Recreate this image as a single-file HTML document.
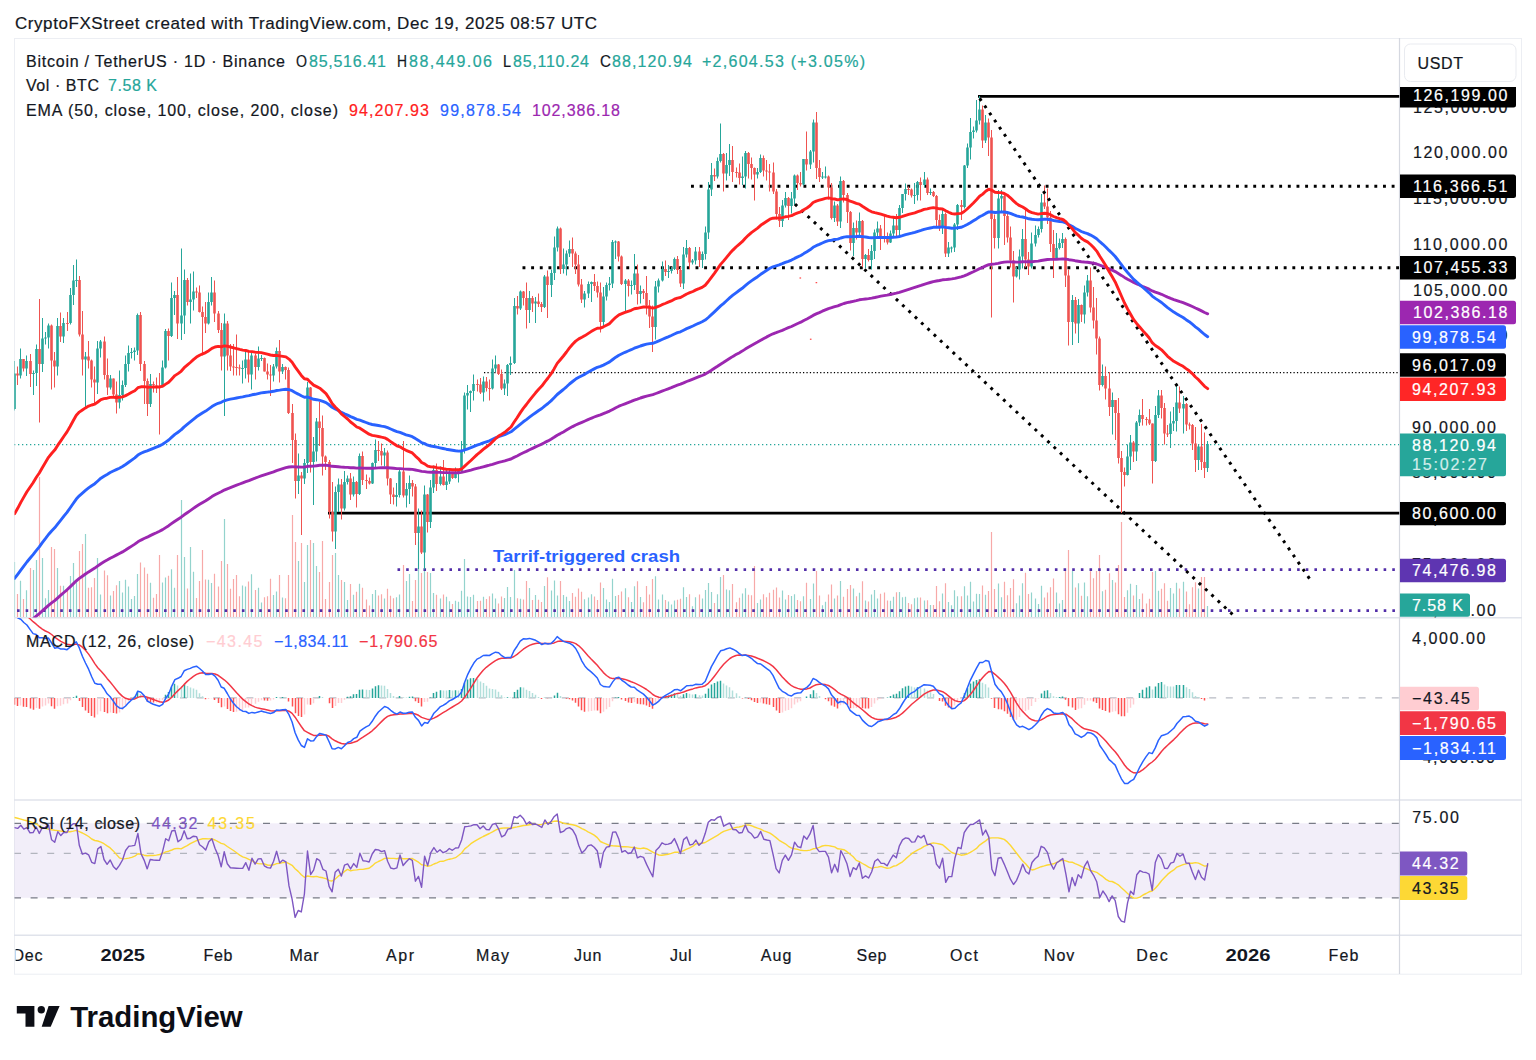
<!DOCTYPE html>
<html><head><meta charset="utf-8"><title>BTCUSDT chart</title>
<style>html,body{margin:0;padding:0;background:#fff}body{width:1536px;height:1060px;overflow:hidden;font-family:"Liberation Sans", sans-serif}svg{display:block}</style>
</head><body>
<svg width="1536" height="1060" viewBox="0 0 1536 1060" font-family='"Liberation Sans", sans-serif'>
<rect width="1536" height="1060" fill="#fff"/>
<defs><clipPath id="cm"><rect x="14.5" y="39" width="1385" height="578.5"/></clipPath><clipPath id="cd"><rect x="14.5" y="618" width="1385" height="181.5"/></clipPath><clipPath id="cr"><rect x="14.5" y="800.5" width="1385" height="134"/></clipPath><clipPath id="ct"><rect x="15.6" y="935" width="1384" height="38"/></clipPath><clipPath id="ca"><rect x="1400" y="87" width="121" height="530.5"/></clipPath><clipPath id="ca2"><rect x="1400" y="618" width="121" height="181.5"/></clipPath></defs>
<text x="15.0" y="28.6" font-size="17" fill="#131722" stroke="#131722" stroke-width="0.2" font-weight="normal" text-anchor="start" textLength="582.0" lengthAdjust="spacing">CryptoFXStreet created with TradingView.com, Dec 19, 2025 08:57 UTC</text>
<rect x="14.5" y="38.5" width="1507" height="935.7" fill="none" stroke="#eceef3" stroke-width="1"/>
<line x1="14" y1="617.7" x2="1522" y2="617.7" stroke="#e0e3eb" stroke-width="1.4"/>
<line x1="14" y1="800" x2="1522" y2="800" stroke="#e0e3eb" stroke-width="1.4"/>
<line x1="14" y1="935.2" x2="1522" y2="935.2" stroke="#e0e3eb" stroke-width="1.4"/>
<line x1="1399.5" y1="38" x2="1399.5" y2="974" stroke="#d5d8e0" stroke-width="1.2"/>
<g clip-path="url(#cm)">
<line x1="14.5" y1="617" x2="14.5" y2="562.0" stroke="#93d3cd" stroke-width="1.2"/>
<line x1="17.5" y1="617" x2="17.5" y2="594.1" stroke="#f7a9a8" stroke-width="1.2"/>
<line x1="20.5" y1="617" x2="20.5" y2="580.8" stroke="#93d3cd" stroke-width="1.2"/>
<line x1="23.5" y1="617" x2="23.5" y2="598.9" stroke="#f7a9a8" stroke-width="1.2"/>
<line x1="26.5" y1="617" x2="26.5" y2="590.3" stroke="#93d3cd" stroke-width="1.2"/>
<line x1="30.5" y1="617" x2="30.5" y2="568.0" stroke="#f7a9a8" stroke-width="1.2"/>
<line x1="33.5" y1="617" x2="33.5" y2="570.0" stroke="#93d3cd" stroke-width="1.2"/>
<line x1="36.5" y1="617" x2="36.5" y2="560.0" stroke="#93d3cd" stroke-width="1.2"/>
<line x1="39.5" y1="617" x2="39.5" y2="477.0" stroke="#f7a9a8" stroke-width="1.2"/>
<line x1="42.5" y1="617" x2="42.5" y2="558.0" stroke="#93d3cd" stroke-width="1.2"/>
<line x1="45.5" y1="617" x2="45.5" y2="598.3" stroke="#93d3cd" stroke-width="1.2"/>
<line x1="48.5" y1="617" x2="48.5" y2="590.1" stroke="#93d3cd" stroke-width="1.2"/>
<line x1="51.5" y1="617" x2="51.5" y2="547.0" stroke="#f7a9a8" stroke-width="1.2"/>
<line x1="54.5" y1="617" x2="54.5" y2="549.0" stroke="#f7a9a8" stroke-width="1.2"/>
<line x1="57.5" y1="617" x2="57.5" y2="568.0" stroke="#93d3cd" stroke-width="1.2"/>
<line x1="60.5" y1="617" x2="60.5" y2="585.7" stroke="#f7a9a8" stroke-width="1.2"/>
<line x1="63.5" y1="617" x2="63.5" y2="585.7" stroke="#93d3cd" stroke-width="1.2"/>
<line x1="67.5" y1="617" x2="67.5" y2="588.4" stroke="#f7a9a8" stroke-width="1.2"/>
<line x1="70.5" y1="617" x2="70.5" y2="576.1" stroke="#93d3cd" stroke-width="1.2"/>
<line x1="73.5" y1="617" x2="73.5" y2="563.0" stroke="#93d3cd" stroke-width="1.2"/>
<line x1="76.5" y1="617" x2="76.5" y2="580.2" stroke="#93d3cd" stroke-width="1.2"/>
<line x1="79.5" y1="617" x2="79.5" y2="551.0" stroke="#f7a9a8" stroke-width="1.2"/>
<line x1="82.5" y1="617" x2="82.5" y2="544.0" stroke="#f7a9a8" stroke-width="1.2"/>
<line x1="85.5" y1="617" x2="85.5" y2="534.0" stroke="#93d3cd" stroke-width="1.2"/>
<line x1="88.5" y1="617" x2="88.5" y2="587.7" stroke="#f7a9a8" stroke-width="1.2"/>
<line x1="91.5" y1="617" x2="91.5" y2="587.3" stroke="#f7a9a8" stroke-width="1.2"/>
<line x1="94.5" y1="617" x2="94.5" y2="577.9" stroke="#f7a9a8" stroke-width="1.2"/>
<line x1="97.5" y1="617" x2="97.5" y2="558.0" stroke="#93d3cd" stroke-width="1.2"/>
<line x1="100.5" y1="617" x2="100.5" y2="594.6" stroke="#93d3cd" stroke-width="1.2"/>
<line x1="104.5" y1="617" x2="104.5" y2="570.6" stroke="#f7a9a8" stroke-width="1.2"/>
<line x1="107.5" y1="617" x2="107.5" y2="575.3" stroke="#f7a9a8" stroke-width="1.2"/>
<line x1="110.5" y1="617" x2="110.5" y2="595.6" stroke="#93d3cd" stroke-width="1.2"/>
<line x1="113.5" y1="617" x2="113.5" y2="590.9" stroke="#f7a9a8" stroke-width="1.2"/>
<line x1="116.5" y1="617" x2="116.5" y2="585.3" stroke="#f7a9a8" stroke-width="1.2"/>
<line x1="119.5" y1="617" x2="119.5" y2="581.0" stroke="#93d3cd" stroke-width="1.2"/>
<line x1="122.5" y1="617" x2="122.5" y2="592.4" stroke="#93d3cd" stroke-width="1.2"/>
<line x1="125.5" y1="617" x2="125.5" y2="579.7" stroke="#93d3cd" stroke-width="1.2"/>
<line x1="128.5" y1="617" x2="128.5" y2="586.6" stroke="#93d3cd" stroke-width="1.2"/>
<line x1="131.5" y1="617" x2="131.5" y2="599.0" stroke="#93d3cd" stroke-width="1.2"/>
<line x1="134.5" y1="617" x2="134.5" y2="596.1" stroke="#93d3cd" stroke-width="1.2"/>
<line x1="137.5" y1="617" x2="137.5" y2="573.9" stroke="#93d3cd" stroke-width="1.2"/>
<line x1="140.5" y1="617" x2="140.5" y2="562.5" stroke="#f7a9a8" stroke-width="1.2"/>
<line x1="144.5" y1="617" x2="144.5" y2="567.6" stroke="#f7a9a8" stroke-width="1.2"/>
<line x1="147.5" y1="617" x2="147.5" y2="573.8" stroke="#f7a9a8" stroke-width="1.2"/>
<line x1="150.5" y1="617" x2="150.5" y2="582.8" stroke="#93d3cd" stroke-width="1.2"/>
<line x1="153.5" y1="617" x2="153.5" y2="597.7" stroke="#f7a9a8" stroke-width="1.2"/>
<line x1="156.5" y1="617" x2="156.5" y2="594.1" stroke="#f7a9a8" stroke-width="1.2"/>
<line x1="159.5" y1="617" x2="159.5" y2="555.0" stroke="#f7a9a8" stroke-width="1.2"/>
<line x1="162.5" y1="617" x2="162.5" y2="582.4" stroke="#93d3cd" stroke-width="1.2"/>
<line x1="165.5" y1="617" x2="165.5" y2="577.5" stroke="#93d3cd" stroke-width="1.2"/>
<line x1="168.5" y1="617" x2="168.5" y2="575.7" stroke="#f7a9a8" stroke-width="1.2"/>
<line x1="171.5" y1="617" x2="171.5" y2="569.2" stroke="#93d3cd" stroke-width="1.2"/>
<line x1="174.5" y1="617" x2="174.5" y2="587.8" stroke="#93d3cd" stroke-width="1.2"/>
<line x1="177.5" y1="617" x2="177.5" y2="555.0" stroke="#f7a9a8" stroke-width="1.2"/>
<line x1="181.5" y1="617" x2="181.5" y2="500.0" stroke="#93d3cd" stroke-width="1.2"/>
<line x1="184.5" y1="617" x2="184.5" y2="557.0" stroke="#93d3cd" stroke-width="1.2"/>
<line x1="187.5" y1="617" x2="187.5" y2="588.6" stroke="#f7a9a8" stroke-width="1.2"/>
<line x1="190.5" y1="617" x2="190.5" y2="547.0" stroke="#93d3cd" stroke-width="1.2"/>
<line x1="193.5" y1="617" x2="193.5" y2="571.8" stroke="#93d3cd" stroke-width="1.2"/>
<line x1="196.5" y1="617" x2="196.5" y2="598.1" stroke="#f7a9a8" stroke-width="1.2"/>
<line x1="199.5" y1="617" x2="199.5" y2="581.1" stroke="#f7a9a8" stroke-width="1.2"/>
<line x1="202.5" y1="617" x2="202.5" y2="550.0" stroke="#f7a9a8" stroke-width="1.2"/>
<line x1="205.5" y1="617" x2="205.5" y2="579.5" stroke="#f7a9a8" stroke-width="1.2"/>
<line x1="208.5" y1="617" x2="208.5" y2="579.8" stroke="#93d3cd" stroke-width="1.2"/>
<line x1="211.5" y1="617" x2="211.5" y2="583.0" stroke="#93d3cd" stroke-width="1.2"/>
<line x1="214.5" y1="617" x2="214.5" y2="573.8" stroke="#f7a9a8" stroke-width="1.2"/>
<line x1="218.5" y1="617" x2="218.5" y2="586.6" stroke="#f7a9a8" stroke-width="1.2"/>
<line x1="221.5" y1="617" x2="221.5" y2="561.1" stroke="#f7a9a8" stroke-width="1.2"/>
<line x1="224.5" y1="617" x2="224.5" y2="519.0" stroke="#93d3cd" stroke-width="1.2"/>
<line x1="227.5" y1="617" x2="227.5" y2="564.0" stroke="#f7a9a8" stroke-width="1.2"/>
<line x1="230.5" y1="617" x2="230.5" y2="588.8" stroke="#f7a9a8" stroke-width="1.2"/>
<line x1="233.5" y1="617" x2="233.5" y2="579.0" stroke="#f7a9a8" stroke-width="1.2"/>
<line x1="236.5" y1="617" x2="236.5" y2="575.0" stroke="#f7a9a8" stroke-width="1.2"/>
<line x1="239.5" y1="617" x2="239.5" y2="596.2" stroke="#f7a9a8" stroke-width="1.2"/>
<line x1="242.5" y1="617" x2="242.5" y2="585.4" stroke="#93d3cd" stroke-width="1.2"/>
<line x1="245.5" y1="617" x2="245.5" y2="586.4" stroke="#93d3cd" stroke-width="1.2"/>
<line x1="248.5" y1="617" x2="248.5" y2="581.6" stroke="#f7a9a8" stroke-width="1.2"/>
<line x1="251.5" y1="617" x2="251.5" y2="574.2" stroke="#93d3cd" stroke-width="1.2"/>
<line x1="255.5" y1="617" x2="255.5" y2="590.0" stroke="#f7a9a8" stroke-width="1.2"/>
<line x1="258.5" y1="617" x2="258.5" y2="587.8" stroke="#93d3cd" stroke-width="1.2"/>
<line x1="261.5" y1="617" x2="261.5" y2="602.4" stroke="#93d3cd" stroke-width="1.2"/>
<line x1="264.5" y1="617" x2="264.5" y2="597.2" stroke="#f7a9a8" stroke-width="1.2"/>
<line x1="267.5" y1="617" x2="267.5" y2="596.2" stroke="#f7a9a8" stroke-width="1.2"/>
<line x1="270.5" y1="617" x2="270.5" y2="578.8" stroke="#f7a9a8" stroke-width="1.2"/>
<line x1="273.5" y1="617" x2="273.5" y2="594.9" stroke="#93d3cd" stroke-width="1.2"/>
<line x1="276.5" y1="617" x2="276.5" y2="591.5" stroke="#93d3cd" stroke-width="1.2"/>
<line x1="279.5" y1="617" x2="279.5" y2="575.0" stroke="#f7a9a8" stroke-width="1.2"/>
<line x1="282.5" y1="617" x2="282.5" y2="597.5" stroke="#93d3cd" stroke-width="1.2"/>
<line x1="285.5" y1="617" x2="285.5" y2="598.3" stroke="#f7a9a8" stroke-width="1.2"/>
<line x1="288.5" y1="617" x2="288.5" y2="575.0" stroke="#f7a9a8" stroke-width="1.2"/>
<line x1="292.5" y1="617" x2="292.5" y2="515.0" stroke="#f7a9a8" stroke-width="1.2"/>
<line x1="295.5" y1="617" x2="295.5" y2="542.0" stroke="#f7a9a8" stroke-width="1.2"/>
<line x1="298.5" y1="617" x2="298.5" y2="561.0" stroke="#93d3cd" stroke-width="1.2"/>
<line x1="301.5" y1="617" x2="301.5" y2="543.0" stroke="#f7a9a8" stroke-width="1.2"/>
<line x1="304.5" y1="617" x2="304.5" y2="582.0" stroke="#93d3cd" stroke-width="1.2"/>
<line x1="307.5" y1="617" x2="307.5" y2="545.0" stroke="#93d3cd" stroke-width="1.2"/>
<line x1="310.5" y1="617" x2="310.5" y2="540.0" stroke="#f7a9a8" stroke-width="1.2"/>
<line x1="313.5" y1="617" x2="313.5" y2="543.0" stroke="#93d3cd" stroke-width="1.2"/>
<line x1="316.5" y1="617" x2="316.5" y2="566.0" stroke="#93d3cd" stroke-width="1.2"/>
<line x1="319.5" y1="617" x2="319.5" y2="572.0" stroke="#f7a9a8" stroke-width="1.2"/>
<line x1="322.5" y1="617" x2="322.5" y2="541.0" stroke="#f7a9a8" stroke-width="1.2"/>
<line x1="325.5" y1="617" x2="325.5" y2="599.0" stroke="#f7a9a8" stroke-width="1.2"/>
<line x1="329.5" y1="617" x2="329.5" y2="582.0" stroke="#f7a9a8" stroke-width="1.2"/>
<line x1="332.5" y1="617" x2="332.5" y2="555.0" stroke="#f7a9a8" stroke-width="1.2"/>
<line x1="335.5" y1="617" x2="335.5" y2="553.0" stroke="#93d3cd" stroke-width="1.2"/>
<line x1="338.5" y1="617" x2="338.5" y2="575.0" stroke="#93d3cd" stroke-width="1.2"/>
<line x1="341.5" y1="617" x2="341.5" y2="580.0" stroke="#f7a9a8" stroke-width="1.2"/>
<line x1="344.5" y1="617" x2="344.5" y2="582.0" stroke="#93d3cd" stroke-width="1.2"/>
<line x1="347.5" y1="617" x2="347.5" y2="599.9" stroke="#93d3cd" stroke-width="1.2"/>
<line x1="350.5" y1="617" x2="350.5" y2="583.9" stroke="#f7a9a8" stroke-width="1.2"/>
<line x1="353.5" y1="617" x2="353.5" y2="594.7" stroke="#93d3cd" stroke-width="1.2"/>
<line x1="356.5" y1="617" x2="356.5" y2="591.8" stroke="#f7a9a8" stroke-width="1.2"/>
<line x1="359.5" y1="617" x2="359.5" y2="583.8" stroke="#93d3cd" stroke-width="1.2"/>
<line x1="362.5" y1="617" x2="362.5" y2="587.7" stroke="#f7a9a8" stroke-width="1.2"/>
<line x1="366.5" y1="617" x2="366.5" y2="599.6" stroke="#f7a9a8" stroke-width="1.2"/>
<line x1="369.5" y1="617" x2="369.5" y2="605.4" stroke="#f7a9a8" stroke-width="1.2"/>
<line x1="372.5" y1="617" x2="372.5" y2="594.0" stroke="#93d3cd" stroke-width="1.2"/>
<line x1="375.5" y1="617" x2="375.5" y2="590.0" stroke="#93d3cd" stroke-width="1.2"/>
<line x1="378.5" y1="617" x2="378.5" y2="595.4" stroke="#f7a9a8" stroke-width="1.2"/>
<line x1="381.5" y1="617" x2="381.5" y2="594.2" stroke="#f7a9a8" stroke-width="1.2"/>
<line x1="384.5" y1="617" x2="384.5" y2="598.5" stroke="#93d3cd" stroke-width="1.2"/>
<line x1="387.5" y1="617" x2="387.5" y2="588.7" stroke="#f7a9a8" stroke-width="1.2"/>
<line x1="390.5" y1="617" x2="390.5" y2="595.8" stroke="#f7a9a8" stroke-width="1.2"/>
<line x1="393.5" y1="617" x2="393.5" y2="598.3" stroke="#f7a9a8" stroke-width="1.2"/>
<line x1="396.5" y1="617" x2="396.5" y2="597.2" stroke="#93d3cd" stroke-width="1.2"/>
<line x1="399.5" y1="617" x2="399.5" y2="594.4" stroke="#93d3cd" stroke-width="1.2"/>
<line x1="403.5" y1="617" x2="403.5" y2="565.0" stroke="#f7a9a8" stroke-width="1.2"/>
<line x1="406.5" y1="617" x2="406.5" y2="581.0" stroke="#93d3cd" stroke-width="1.2"/>
<line x1="409.5" y1="617" x2="409.5" y2="574.0" stroke="#93d3cd" stroke-width="1.2"/>
<line x1="412.5" y1="617" x2="412.5" y2="600.9" stroke="#f7a9a8" stroke-width="1.2"/>
<line x1="415.5" y1="617" x2="415.5" y2="580.0" stroke="#f7a9a8" stroke-width="1.2"/>
<line x1="418.5" y1="617" x2="418.5" y2="542.0" stroke="#93d3cd" stroke-width="1.2"/>
<line x1="421.5" y1="617" x2="421.5" y2="573.0" stroke="#f7a9a8" stroke-width="1.2"/>
<line x1="424.5" y1="617" x2="424.5" y2="547.0" stroke="#93d3cd" stroke-width="1.2"/>
<line x1="427.5" y1="617" x2="427.5" y2="572.0" stroke="#f7a9a8" stroke-width="1.2"/>
<line x1="430.5" y1="617" x2="430.5" y2="573.0" stroke="#93d3cd" stroke-width="1.2"/>
<line x1="433.5" y1="617" x2="433.5" y2="593.0" stroke="#93d3cd" stroke-width="1.2"/>
<line x1="436.5" y1="617" x2="436.5" y2="594.8" stroke="#f7a9a8" stroke-width="1.2"/>
<line x1="440.5" y1="617" x2="440.5" y2="598.6" stroke="#93d3cd" stroke-width="1.2"/>
<line x1="443.5" y1="617" x2="443.5" y2="594.5" stroke="#f7a9a8" stroke-width="1.2"/>
<line x1="446.5" y1="617" x2="446.5" y2="596.8" stroke="#93d3cd" stroke-width="1.2"/>
<line x1="449.5" y1="617" x2="449.5" y2="601.3" stroke="#93d3cd" stroke-width="1.2"/>
<line x1="452.5" y1="617" x2="452.5" y2="604.0" stroke="#f7a9a8" stroke-width="1.2"/>
<line x1="455.5" y1="617" x2="455.5" y2="600.8" stroke="#93d3cd" stroke-width="1.2"/>
<line x1="458.5" y1="617" x2="458.5" y2="601.7" stroke="#93d3cd" stroke-width="1.2"/>
<line x1="461.5" y1="617" x2="461.5" y2="590.7" stroke="#93d3cd" stroke-width="1.2"/>
<line x1="464.5" y1="617" x2="464.5" y2="559.0" stroke="#93d3cd" stroke-width="1.2"/>
<line x1="467.5" y1="617" x2="467.5" y2="596.5" stroke="#93d3cd" stroke-width="1.2"/>
<line x1="470.5" y1="617" x2="470.5" y2="596.9" stroke="#93d3cd" stroke-width="1.2"/>
<line x1="473.5" y1="617" x2="473.5" y2="594.8" stroke="#93d3cd" stroke-width="1.2"/>
<line x1="477.5" y1="617" x2="477.5" y2="600.9" stroke="#f7a9a8" stroke-width="1.2"/>
<line x1="480.5" y1="617" x2="480.5" y2="600.7" stroke="#f7a9a8" stroke-width="1.2"/>
<line x1="483.5" y1="617" x2="483.5" y2="596.8" stroke="#93d3cd" stroke-width="1.2"/>
<line x1="486.5" y1="617" x2="486.5" y2="598.9" stroke="#f7a9a8" stroke-width="1.2"/>
<line x1="489.5" y1="617" x2="489.5" y2="596.2" stroke="#f7a9a8" stroke-width="1.2"/>
<line x1="492.5" y1="617" x2="492.5" y2="593.4" stroke="#93d3cd" stroke-width="1.2"/>
<line x1="495.5" y1="617" x2="495.5" y2="598.6" stroke="#93d3cd" stroke-width="1.2"/>
<line x1="498.5" y1="617" x2="498.5" y2="603.6" stroke="#f7a9a8" stroke-width="1.2"/>
<line x1="501.5" y1="617" x2="501.5" y2="596.5" stroke="#f7a9a8" stroke-width="1.2"/>
<line x1="504.5" y1="617" x2="504.5" y2="597.9" stroke="#93d3cd" stroke-width="1.2"/>
<line x1="507.5" y1="617" x2="507.5" y2="587.0" stroke="#93d3cd" stroke-width="1.2"/>
<line x1="510.5" y1="617" x2="510.5" y2="597.1" stroke="#93d3cd" stroke-width="1.2"/>
<line x1="514.5" y1="617" x2="514.5" y2="570.0" stroke="#93d3cd" stroke-width="1.2"/>
<line x1="517.5" y1="617" x2="517.5" y2="598.3" stroke="#f7a9a8" stroke-width="1.2"/>
<line x1="520.5" y1="617" x2="520.5" y2="598.7" stroke="#93d3cd" stroke-width="1.2"/>
<line x1="523.5" y1="617" x2="523.5" y2="599.5" stroke="#f7a9a8" stroke-width="1.2"/>
<line x1="526.5" y1="617" x2="526.5" y2="580.9" stroke="#f7a9a8" stroke-width="1.2"/>
<line x1="529.5" y1="617" x2="529.5" y2="587.9" stroke="#93d3cd" stroke-width="1.2"/>
<line x1="532.5" y1="617" x2="532.5" y2="600.0" stroke="#f7a9a8" stroke-width="1.2"/>
<line x1="535.5" y1="617" x2="535.5" y2="595.1" stroke="#93d3cd" stroke-width="1.2"/>
<line x1="538.5" y1="617" x2="538.5" y2="599.7" stroke="#f7a9a8" stroke-width="1.2"/>
<line x1="541.5" y1="617" x2="541.5" y2="602.1" stroke="#f7a9a8" stroke-width="1.2"/>
<line x1="544.5" y1="617" x2="544.5" y2="586.1" stroke="#93d3cd" stroke-width="1.2"/>
<line x1="547.5" y1="617" x2="547.5" y2="577.2" stroke="#f7a9a8" stroke-width="1.2"/>
<line x1="551.5" y1="617" x2="551.5" y2="590.4" stroke="#93d3cd" stroke-width="1.2"/>
<line x1="554.5" y1="617" x2="554.5" y2="580.4" stroke="#93d3cd" stroke-width="1.2"/>
<line x1="557.5" y1="617" x2="557.5" y2="595.5" stroke="#93d3cd" stroke-width="1.2"/>
<line x1="560.5" y1="617" x2="560.5" y2="581.0" stroke="#f7a9a8" stroke-width="1.2"/>
<line x1="563.5" y1="617" x2="563.5" y2="595.0" stroke="#93d3cd" stroke-width="1.2"/>
<line x1="566.5" y1="617" x2="566.5" y2="596.7" stroke="#93d3cd" stroke-width="1.2"/>
<line x1="569.5" y1="617" x2="569.5" y2="601.0" stroke="#93d3cd" stroke-width="1.2"/>
<line x1="572.5" y1="617" x2="572.5" y2="593.0" stroke="#f7a9a8" stroke-width="1.2"/>
<line x1="575.5" y1="617" x2="575.5" y2="596.8" stroke="#f7a9a8" stroke-width="1.2"/>
<line x1="578.5" y1="617" x2="578.5" y2="588.6" stroke="#f7a9a8" stroke-width="1.2"/>
<line x1="581.5" y1="617" x2="581.5" y2="591.8" stroke="#f7a9a8" stroke-width="1.2"/>
<line x1="584.5" y1="617" x2="584.5" y2="599.3" stroke="#93d3cd" stroke-width="1.2"/>
<line x1="588.5" y1="617" x2="588.5" y2="597.4" stroke="#93d3cd" stroke-width="1.2"/>
<line x1="591.5" y1="617" x2="591.5" y2="594.2" stroke="#93d3cd" stroke-width="1.2"/>
<line x1="594.5" y1="617" x2="594.5" y2="596.6" stroke="#f7a9a8" stroke-width="1.2"/>
<line x1="597.5" y1="617" x2="597.5" y2="599.9" stroke="#f7a9a8" stroke-width="1.2"/>
<line x1="600.5" y1="617" x2="600.5" y2="582.4" stroke="#f7a9a8" stroke-width="1.2"/>
<line x1="603.5" y1="617" x2="603.5" y2="587.9" stroke="#93d3cd" stroke-width="1.2"/>
<line x1="606.5" y1="617" x2="606.5" y2="599.6" stroke="#93d3cd" stroke-width="1.2"/>
<line x1="609.5" y1="617" x2="609.5" y2="602.0" stroke="#93d3cd" stroke-width="1.2"/>
<line x1="612.5" y1="617" x2="612.5" y2="578.7" stroke="#93d3cd" stroke-width="1.2"/>
<line x1="615.5" y1="617" x2="615.5" y2="595.9" stroke="#93d3cd" stroke-width="1.2"/>
<line x1="618.5" y1="617" x2="618.5" y2="594.9" stroke="#f7a9a8" stroke-width="1.2"/>
<line x1="621.5" y1="617" x2="621.5" y2="591.5" stroke="#f7a9a8" stroke-width="1.2"/>
<line x1="625.5" y1="617" x2="625.5" y2="588.3" stroke="#93d3cd" stroke-width="1.2"/>
<line x1="628.5" y1="617" x2="628.5" y2="597.3" stroke="#f7a9a8" stroke-width="1.2"/>
<line x1="631.5" y1="617" x2="631.5" y2="601.9" stroke="#93d3cd" stroke-width="1.2"/>
<line x1="634.5" y1="617" x2="634.5" y2="586.2" stroke="#93d3cd" stroke-width="1.2"/>
<line x1="637.5" y1="617" x2="637.5" y2="581.2" stroke="#f7a9a8" stroke-width="1.2"/>
<line x1="640.5" y1="617" x2="640.5" y2="597.1" stroke="#93d3cd" stroke-width="1.2"/>
<line x1="643.5" y1="617" x2="643.5" y2="602.3" stroke="#f7a9a8" stroke-width="1.2"/>
<line x1="646.5" y1="617" x2="646.5" y2="586.1" stroke="#f7a9a8" stroke-width="1.2"/>
<line x1="649.5" y1="617" x2="649.5" y2="594.4" stroke="#f7a9a8" stroke-width="1.2"/>
<line x1="652.5" y1="617" x2="652.5" y2="579.0" stroke="#f7a9a8" stroke-width="1.2"/>
<line x1="655.5" y1="617" x2="655.5" y2="576.2" stroke="#93d3cd" stroke-width="1.2"/>
<line x1="658.5" y1="617" x2="658.5" y2="599.4" stroke="#93d3cd" stroke-width="1.2"/>
<line x1="662.5" y1="617" x2="662.5" y2="594.6" stroke="#93d3cd" stroke-width="1.2"/>
<line x1="665.5" y1="617" x2="665.5" y2="600.0" stroke="#f7a9a8" stroke-width="1.2"/>
<line x1="668.5" y1="617" x2="668.5" y2="601.6" stroke="#93d3cd" stroke-width="1.2"/>
<line x1="671.5" y1="617" x2="671.5" y2="604.5" stroke="#93d3cd" stroke-width="1.2"/>
<line x1="674.5" y1="617" x2="674.5" y2="600.6" stroke="#93d3cd" stroke-width="1.2"/>
<line x1="677.5" y1="617" x2="677.5" y2="599.7" stroke="#f7a9a8" stroke-width="1.2"/>
<line x1="680.5" y1="617" x2="680.5" y2="598.7" stroke="#f7a9a8" stroke-width="1.2"/>
<line x1="683.5" y1="617" x2="683.5" y2="587.2" stroke="#93d3cd" stroke-width="1.2"/>
<line x1="686.5" y1="617" x2="686.5" y2="596.9" stroke="#93d3cd" stroke-width="1.2"/>
<line x1="689.5" y1="617" x2="689.5" y2="594.2" stroke="#f7a9a8" stroke-width="1.2"/>
<line x1="692.5" y1="617" x2="692.5" y2="606.2" stroke="#93d3cd" stroke-width="1.2"/>
<line x1="695.5" y1="617" x2="695.5" y2="597.2" stroke="#93d3cd" stroke-width="1.2"/>
<line x1="699.5" y1="617" x2="699.5" y2="594.6" stroke="#f7a9a8" stroke-width="1.2"/>
<line x1="702.5" y1="617" x2="702.5" y2="598.5" stroke="#93d3cd" stroke-width="1.2"/>
<line x1="705.5" y1="617" x2="705.5" y2="590.1" stroke="#93d3cd" stroke-width="1.2"/>
<line x1="708.5" y1="617" x2="708.5" y2="583.0" stroke="#93d3cd" stroke-width="1.2"/>
<line x1="711.5" y1="617" x2="711.5" y2="592.1" stroke="#93d3cd" stroke-width="1.2"/>
<line x1="714.5" y1="617" x2="714.5" y2="603.0" stroke="#f7a9a8" stroke-width="1.2"/>
<line x1="717.5" y1="617" x2="717.5" y2="594.3" stroke="#93d3cd" stroke-width="1.2"/>
<line x1="720.5" y1="617" x2="720.5" y2="577.0" stroke="#93d3cd" stroke-width="1.2"/>
<line x1="723.5" y1="617" x2="723.5" y2="575.0" stroke="#f7a9a8" stroke-width="1.2"/>
<line x1="726.5" y1="617" x2="726.5" y2="589.6" stroke="#93d3cd" stroke-width="1.2"/>
<line x1="729.5" y1="617" x2="729.5" y2="590.3" stroke="#93d3cd" stroke-width="1.2"/>
<line x1="732.5" y1="617" x2="732.5" y2="584.0" stroke="#f7a9a8" stroke-width="1.2"/>
<line x1="736.5" y1="617" x2="736.5" y2="602.2" stroke="#f7a9a8" stroke-width="1.2"/>
<line x1="739.5" y1="617" x2="739.5" y2="597.8" stroke="#f7a9a8" stroke-width="1.2"/>
<line x1="742.5" y1="617" x2="742.5" y2="593.4" stroke="#93d3cd" stroke-width="1.2"/>
<line x1="745.5" y1="617" x2="745.5" y2="588.3" stroke="#93d3cd" stroke-width="1.2"/>
<line x1="748.5" y1="617" x2="748.5" y2="594.7" stroke="#f7a9a8" stroke-width="1.2"/>
<line x1="751.5" y1="617" x2="751.5" y2="595.3" stroke="#f7a9a8" stroke-width="1.2"/>
<line x1="754.5" y1="617" x2="754.5" y2="566.0" stroke="#f7a9a8" stroke-width="1.2"/>
<line x1="757.5" y1="617" x2="757.5" y2="603.1" stroke="#93d3cd" stroke-width="1.2"/>
<line x1="760.5" y1="617" x2="760.5" y2="599.6" stroke="#93d3cd" stroke-width="1.2"/>
<line x1="763.5" y1="617" x2="763.5" y2="594.3" stroke="#f7a9a8" stroke-width="1.2"/>
<line x1="766.5" y1="617" x2="766.5" y2="597.3" stroke="#f7a9a8" stroke-width="1.2"/>
<line x1="769.5" y1="617" x2="769.5" y2="592.8" stroke="#f7a9a8" stroke-width="1.2"/>
<line x1="773.5" y1="617" x2="773.5" y2="589.7" stroke="#f7a9a8" stroke-width="1.2"/>
<line x1="776.5" y1="617" x2="776.5" y2="587.6" stroke="#f7a9a8" stroke-width="1.2"/>
<line x1="779.5" y1="617" x2="779.5" y2="597.6" stroke="#f7a9a8" stroke-width="1.2"/>
<line x1="782.5" y1="617" x2="782.5" y2="590.4" stroke="#93d3cd" stroke-width="1.2"/>
<line x1="785.5" y1="617" x2="785.5" y2="599.6" stroke="#93d3cd" stroke-width="1.2"/>
<line x1="788.5" y1="617" x2="788.5" y2="595.1" stroke="#f7a9a8" stroke-width="1.2"/>
<line x1="791.5" y1="617" x2="791.5" y2="596.0" stroke="#93d3cd" stroke-width="1.2"/>
<line x1="794.5" y1="617" x2="794.5" y2="594.3" stroke="#93d3cd" stroke-width="1.2"/>
<line x1="797.5" y1="617" x2="797.5" y2="599.9" stroke="#f7a9a8" stroke-width="1.2"/>
<line x1="800.5" y1="617" x2="800.5" y2="601.3" stroke="#f7a9a8" stroke-width="1.2"/>
<line x1="803.5" y1="617" x2="803.5" y2="596.2" stroke="#93d3cd" stroke-width="1.2"/>
<line x1="806.5" y1="617" x2="806.5" y2="582.8" stroke="#f7a9a8" stroke-width="1.2"/>
<line x1="810.5" y1="617" x2="810.5" y2="599.0" stroke="#93d3cd" stroke-width="1.2"/>
<line x1="813.5" y1="617" x2="813.5" y2="583.4" stroke="#93d3cd" stroke-width="1.2"/>
<line x1="816.5" y1="617" x2="816.5" y2="571.0" stroke="#f7a9a8" stroke-width="1.2"/>
<line x1="819.5" y1="617" x2="819.5" y2="595.5" stroke="#f7a9a8" stroke-width="1.2"/>
<line x1="822.5" y1="617" x2="822.5" y2="605.2" stroke="#93d3cd" stroke-width="1.2"/>
<line x1="825.5" y1="617" x2="825.5" y2="601.8" stroke="#93d3cd" stroke-width="1.2"/>
<line x1="828.5" y1="617" x2="828.5" y2="594.4" stroke="#f7a9a8" stroke-width="1.2"/>
<line x1="831.5" y1="617" x2="831.5" y2="584.5" stroke="#f7a9a8" stroke-width="1.2"/>
<line x1="834.5" y1="617" x2="834.5" y2="598.6" stroke="#93d3cd" stroke-width="1.2"/>
<line x1="837.5" y1="617" x2="837.5" y2="595.5" stroke="#f7a9a8" stroke-width="1.2"/>
<line x1="840.5" y1="617" x2="840.5" y2="581.1" stroke="#93d3cd" stroke-width="1.2"/>
<line x1="843.5" y1="617" x2="843.5" y2="596.7" stroke="#f7a9a8" stroke-width="1.2"/>
<line x1="847.5" y1="617" x2="847.5" y2="588.9" stroke="#f7a9a8" stroke-width="1.2"/>
<line x1="850.5" y1="617" x2="850.5" y2="585.0" stroke="#f7a9a8" stroke-width="1.2"/>
<line x1="853.5" y1="617" x2="853.5" y2="588.4" stroke="#93d3cd" stroke-width="1.2"/>
<line x1="856.5" y1="617" x2="856.5" y2="596.2" stroke="#f7a9a8" stroke-width="1.2"/>
<line x1="859.5" y1="617" x2="859.5" y2="592.7" stroke="#93d3cd" stroke-width="1.2"/>
<line x1="862.5" y1="617" x2="862.5" y2="581.3" stroke="#f7a9a8" stroke-width="1.2"/>
<line x1="865.5" y1="617" x2="865.5" y2="600.4" stroke="#93d3cd" stroke-width="1.2"/>
<line x1="868.5" y1="617" x2="868.5" y2="601.6" stroke="#f7a9a8" stroke-width="1.2"/>
<line x1="871.5" y1="617" x2="871.5" y2="594.4" stroke="#93d3cd" stroke-width="1.2"/>
<line x1="874.5" y1="617" x2="874.5" y2="590.0" stroke="#93d3cd" stroke-width="1.2"/>
<line x1="877.5" y1="617" x2="877.5" y2="598.5" stroke="#93d3cd" stroke-width="1.2"/>
<line x1="880.5" y1="617" x2="880.5" y2="593.7" stroke="#f7a9a8" stroke-width="1.2"/>
<line x1="884.5" y1="617" x2="884.5" y2="592.6" stroke="#f7a9a8" stroke-width="1.2"/>
<line x1="887.5" y1="617" x2="887.5" y2="600.6" stroke="#f7a9a8" stroke-width="1.2"/>
<line x1="890.5" y1="617" x2="890.5" y2="600.7" stroke="#93d3cd" stroke-width="1.2"/>
<line x1="893.5" y1="617" x2="893.5" y2="596.7" stroke="#93d3cd" stroke-width="1.2"/>
<line x1="896.5" y1="617" x2="896.5" y2="592.2" stroke="#f7a9a8" stroke-width="1.2"/>
<line x1="899.5" y1="617" x2="899.5" y2="592.1" stroke="#93d3cd" stroke-width="1.2"/>
<line x1="902.5" y1="617" x2="902.5" y2="597.2" stroke="#93d3cd" stroke-width="1.2"/>
<line x1="905.5" y1="617" x2="905.5" y2="596.7" stroke="#93d3cd" stroke-width="1.2"/>
<line x1="908.5" y1="617" x2="908.5" y2="603.1" stroke="#f7a9a8" stroke-width="1.2"/>
<line x1="911.5" y1="617" x2="911.5" y2="604.3" stroke="#f7a9a8" stroke-width="1.2"/>
<line x1="914.5" y1="617" x2="914.5" y2="598.3" stroke="#93d3cd" stroke-width="1.2"/>
<line x1="917.5" y1="617" x2="917.5" y2="597.4" stroke="#93d3cd" stroke-width="1.2"/>
<line x1="920.5" y1="617" x2="920.5" y2="597.4" stroke="#f7a9a8" stroke-width="1.2"/>
<line x1="924.5" y1="617" x2="924.5" y2="600.6" stroke="#93d3cd" stroke-width="1.2"/>
<line x1="927.5" y1="617" x2="927.5" y2="600.3" stroke="#f7a9a8" stroke-width="1.2"/>
<line x1="930.5" y1="617" x2="930.5" y2="604.9" stroke="#93d3cd" stroke-width="1.2"/>
<line x1="933.5" y1="617" x2="933.5" y2="605.0" stroke="#f7a9a8" stroke-width="1.2"/>
<line x1="936.5" y1="617" x2="936.5" y2="586.1" stroke="#f7a9a8" stroke-width="1.2"/>
<line x1="939.5" y1="617" x2="939.5" y2="601.2" stroke="#f7a9a8" stroke-width="1.2"/>
<line x1="942.5" y1="617" x2="942.5" y2="593.5" stroke="#93d3cd" stroke-width="1.2"/>
<line x1="945.5" y1="617" x2="945.5" y2="583.2" stroke="#f7a9a8" stroke-width="1.2"/>
<line x1="948.5" y1="617" x2="948.5" y2="601.9" stroke="#93d3cd" stroke-width="1.2"/>
<line x1="951.5" y1="617" x2="951.5" y2="605.3" stroke="#93d3cd" stroke-width="1.2"/>
<line x1="954.5" y1="617" x2="954.5" y2="590.3" stroke="#93d3cd" stroke-width="1.2"/>
<line x1="957.5" y1="617" x2="957.5" y2="596.3" stroke="#93d3cd" stroke-width="1.2"/>
<line x1="961.5" y1="617" x2="961.5" y2="596.3" stroke="#f7a9a8" stroke-width="1.2"/>
<line x1="964.5" y1="617" x2="964.5" y2="586.2" stroke="#93d3cd" stroke-width="1.2"/>
<line x1="967.5" y1="617" x2="967.5" y2="595.6" stroke="#93d3cd" stroke-width="1.2"/>
<line x1="970.5" y1="617" x2="970.5" y2="581.8" stroke="#93d3cd" stroke-width="1.2"/>
<line x1="973.5" y1="617" x2="973.5" y2="601.6" stroke="#93d3cd" stroke-width="1.2"/>
<line x1="976.5" y1="617" x2="976.5" y2="593.7" stroke="#93d3cd" stroke-width="1.2"/>
<line x1="979.5" y1="617" x2="979.5" y2="593.9" stroke="#93d3cd" stroke-width="1.2"/>
<line x1="982.5" y1="617" x2="982.5" y2="585.6" stroke="#f7a9a8" stroke-width="1.2"/>
<line x1="985.5" y1="617" x2="985.5" y2="594.7" stroke="#93d3cd" stroke-width="1.2"/>
<line x1="988.5" y1="617" x2="988.5" y2="591.0" stroke="#f7a9a8" stroke-width="1.2"/>
<line x1="991.5" y1="617" x2="991.5" y2="532.0" stroke="#f7a9a8" stroke-width="1.2"/>
<line x1="994.5" y1="617" x2="994.5" y2="588.9" stroke="#f7a9a8" stroke-width="1.2"/>
<line x1="998.5" y1="617" x2="998.5" y2="583.4" stroke="#93d3cd" stroke-width="1.2"/>
<line x1="1001.5" y1="617" x2="1001.5" y2="597.3" stroke="#93d3cd" stroke-width="1.2"/>
<line x1="1004.5" y1="617" x2="1004.5" y2="581.7" stroke="#f7a9a8" stroke-width="1.2"/>
<line x1="1007.5" y1="617" x2="1007.5" y2="595.3" stroke="#f7a9a8" stroke-width="1.2"/>
<line x1="1010.5" y1="617" x2="1010.5" y2="588.0" stroke="#f7a9a8" stroke-width="1.2"/>
<line x1="1013.5" y1="617" x2="1013.5" y2="579.3" stroke="#f7a9a8" stroke-width="1.2"/>
<line x1="1016.5" y1="617" x2="1016.5" y2="603.2" stroke="#93d3cd" stroke-width="1.2"/>
<line x1="1019.5" y1="617" x2="1019.5" y2="595.6" stroke="#93d3cd" stroke-width="1.2"/>
<line x1="1022.5" y1="617" x2="1022.5" y2="583.3" stroke="#93d3cd" stroke-width="1.2"/>
<line x1="1025.5" y1="617" x2="1025.5" y2="572.8" stroke="#f7a9a8" stroke-width="1.2"/>
<line x1="1028.5" y1="617" x2="1028.5" y2="594.1" stroke="#f7a9a8" stroke-width="1.2"/>
<line x1="1031.5" y1="617" x2="1031.5" y2="592.6" stroke="#93d3cd" stroke-width="1.2"/>
<line x1="1035.5" y1="617" x2="1035.5" y2="598.6" stroke="#93d3cd" stroke-width="1.2"/>
<line x1="1038.5" y1="617" x2="1038.5" y2="603.9" stroke="#93d3cd" stroke-width="1.2"/>
<line x1="1041.5" y1="617" x2="1041.5" y2="585.7" stroke="#93d3cd" stroke-width="1.2"/>
<line x1="1044.5" y1="617" x2="1044.5" y2="597.4" stroke="#f7a9a8" stroke-width="1.2"/>
<line x1="1047.5" y1="617" x2="1047.5" y2="592.4" stroke="#f7a9a8" stroke-width="1.2"/>
<line x1="1050.5" y1="617" x2="1050.5" y2="587.2" stroke="#f7a9a8" stroke-width="1.2"/>
<line x1="1053.5" y1="617" x2="1053.5" y2="578.4" stroke="#f7a9a8" stroke-width="1.2"/>
<line x1="1056.5" y1="617" x2="1056.5" y2="592.4" stroke="#93d3cd" stroke-width="1.2"/>
<line x1="1059.5" y1="617" x2="1059.5" y2="603.6" stroke="#93d3cd" stroke-width="1.2"/>
<line x1="1062.5" y1="617" x2="1062.5" y2="600.1" stroke="#93d3cd" stroke-width="1.2"/>
<line x1="1065.5" y1="617" x2="1065.5" y2="571.0" stroke="#f7a9a8" stroke-width="1.2"/>
<line x1="1068.5" y1="617" x2="1068.5" y2="550.0" stroke="#f7a9a8" stroke-width="1.2"/>
<line x1="1072.5" y1="617" x2="1072.5" y2="571.0" stroke="#93d3cd" stroke-width="1.2"/>
<line x1="1075.5" y1="617" x2="1075.5" y2="587.5" stroke="#f7a9a8" stroke-width="1.2"/>
<line x1="1078.5" y1="617" x2="1078.5" y2="583.3" stroke="#93d3cd" stroke-width="1.2"/>
<line x1="1081.5" y1="617" x2="1081.5" y2="595.7" stroke="#f7a9a8" stroke-width="1.2"/>
<line x1="1084.5" y1="617" x2="1084.5" y2="582.5" stroke="#93d3cd" stroke-width="1.2"/>
<line x1="1087.5" y1="617" x2="1087.5" y2="596.3" stroke="#93d3cd" stroke-width="1.2"/>
<line x1="1090.5" y1="617" x2="1090.5" y2="571.2" stroke="#f7a9a8" stroke-width="1.2"/>
<line x1="1093.5" y1="617" x2="1093.5" y2="578.2" stroke="#f7a9a8" stroke-width="1.2"/>
<line x1="1096.5" y1="617" x2="1096.5" y2="571.0" stroke="#f7a9a8" stroke-width="1.2"/>
<line x1="1099.5" y1="617" x2="1099.5" y2="555.0" stroke="#f7a9a8" stroke-width="1.2"/>
<line x1="1102.5" y1="617" x2="1102.5" y2="591.2" stroke="#93d3cd" stroke-width="1.2"/>
<line x1="1105.5" y1="617" x2="1105.5" y2="589.7" stroke="#f7a9a8" stroke-width="1.2"/>
<line x1="1109.5" y1="617" x2="1109.5" y2="573.3" stroke="#f7a9a8" stroke-width="1.2"/>
<line x1="1112.5" y1="617" x2="1112.5" y2="580.0" stroke="#93d3cd" stroke-width="1.2"/>
<line x1="1115.5" y1="617" x2="1115.5" y2="582.5" stroke="#f7a9a8" stroke-width="1.2"/>
<line x1="1118.5" y1="617" x2="1118.5" y2="565.0" stroke="#f7a9a8" stroke-width="1.2"/>
<line x1="1121.5" y1="617" x2="1121.5" y2="522.0" stroke="#f7a9a8" stroke-width="1.2"/>
<line x1="1124.5" y1="617" x2="1124.5" y2="596.9" stroke="#f7a9a8" stroke-width="1.2"/>
<line x1="1127.5" y1="617" x2="1127.5" y2="590.2" stroke="#93d3cd" stroke-width="1.2"/>
<line x1="1130.5" y1="617" x2="1130.5" y2="583.7" stroke="#93d3cd" stroke-width="1.2"/>
<line x1="1133.5" y1="617" x2="1133.5" y2="595.6" stroke="#f7a9a8" stroke-width="1.2"/>
<line x1="1136.5" y1="617" x2="1136.5" y2="585.1" stroke="#93d3cd" stroke-width="1.2"/>
<line x1="1139.5" y1="617" x2="1139.5" y2="598.9" stroke="#93d3cd" stroke-width="1.2"/>
<line x1="1142.5" y1="617" x2="1142.5" y2="593.5" stroke="#f7a9a8" stroke-width="1.2"/>
<line x1="1146.5" y1="617" x2="1146.5" y2="603.6" stroke="#f7a9a8" stroke-width="1.2"/>
<line x1="1149.5" y1="617" x2="1149.5" y2="598.8" stroke="#f7a9a8" stroke-width="1.2"/>
<line x1="1152.5" y1="617" x2="1152.5" y2="572.0" stroke="#f7a9a8" stroke-width="1.2"/>
<line x1="1155.5" y1="617" x2="1155.5" y2="571.0" stroke="#93d3cd" stroke-width="1.2"/>
<line x1="1158.5" y1="617" x2="1158.5" y2="590.8" stroke="#93d3cd" stroke-width="1.2"/>
<line x1="1161.5" y1="617" x2="1161.5" y2="588.8" stroke="#f7a9a8" stroke-width="1.2"/>
<line x1="1164.5" y1="617" x2="1164.5" y2="583.2" stroke="#f7a9a8" stroke-width="1.2"/>
<line x1="1167.5" y1="617" x2="1167.5" y2="600.8" stroke="#f7a9a8" stroke-width="1.2"/>
<line x1="1170.5" y1="617" x2="1170.5" y2="588.0" stroke="#93d3cd" stroke-width="1.2"/>
<line x1="1173.5" y1="617" x2="1173.5" y2="593.5" stroke="#93d3cd" stroke-width="1.2"/>
<line x1="1176.5" y1="617" x2="1176.5" y2="582.8" stroke="#93d3cd" stroke-width="1.2"/>
<line x1="1179.5" y1="617" x2="1179.5" y2="588.4" stroke="#f7a9a8" stroke-width="1.2"/>
<line x1="1183.5" y1="617" x2="1183.5" y2="581.8" stroke="#93d3cd" stroke-width="1.2"/>
<line x1="1186.5" y1="617" x2="1186.5" y2="591.4" stroke="#f7a9a8" stroke-width="1.2"/>
<line x1="1189.5" y1="617" x2="1189.5" y2="604.2" stroke="#f7a9a8" stroke-width="1.2"/>
<line x1="1192.5" y1="617" x2="1192.5" y2="587.3" stroke="#f7a9a8" stroke-width="1.2"/>
<line x1="1195.5" y1="617" x2="1195.5" y2="582.2" stroke="#f7a9a8" stroke-width="1.2"/>
<line x1="1198.5" y1="617" x2="1198.5" y2="588.5" stroke="#93d3cd" stroke-width="1.2"/>
<line x1="1201.5" y1="617" x2="1201.5" y2="577.1" stroke="#f7a9a8" stroke-width="1.2"/>
<line x1="1204.5" y1="617" x2="1204.5" y2="576.9" stroke="#f7a9a8" stroke-width="1.2"/>
<line x1="1207.5" y1="617" x2="1207.5" y2="606.0" stroke="#93d3cd" stroke-width="1.2"/>
<line x1="14" y1="444.6" x2="1399" y2="444.6" stroke="#26a69a" stroke-width="1.3" stroke-dasharray="1.3 2.7"/>
<line x1="978" y1="96.4" x2="1399.5" y2="96.4" stroke="#000" stroke-width="2.7"/>
<line x1="328" y1="513.2" x2="1399.5" y2="513.2" stroke="#000" stroke-width="2.8"/>
<line x1="691" y1="186.3" x2="1399.5" y2="186.3" stroke="#000" stroke-width="3" stroke-dasharray="2.9 5.75"/>
<line x1="522.5" y1="267.7" x2="1399.5" y2="267.7" stroke="#000" stroke-width="3" stroke-dasharray="2.9 5.75"/>
<line x1="484" y1="372.7" x2="1399.5" y2="372.7" stroke="#000" stroke-width="1.25" stroke-dasharray="1.25 2.18"/>
<line x1="397.5" y1="569.6" x2="1399.5" y2="569.6" stroke="#512da8" stroke-width="2.6" stroke-dasharray="2.6 6.05"/>
<line x1="14" y1="610.6" x2="1399.5" y2="610.6" stroke="#512da8" stroke-width="2.6" stroke-dasharray="2.6 6.05" stroke-dashoffset="-3"/>
<text x="493.0" y="562.4" font-size="17" fill="#2962ff" font-weight="bold" text-anchor="start" textLength="187.0" lengthAdjust="spacingAndGlyphs">Tarrif-triggered crash</text>
<rect x="14.00" y="361.0" width="1" height="49.5" fill="#26a69a"/>
<rect x="13.20" y="373.5" width="2.6" height="35.5" fill="#26a69a"/>
<rect x="17.00" y="366.5" width="1" height="18.5" fill="#ef5350"/>
<rect x="16.20" y="373.5" width="2.6" height="2.0" fill="#ef5350"/>
<rect x="20.00" y="348.5" width="1" height="30.0" fill="#26a69a"/>
<rect x="19.20" y="359.0" width="2.6" height="16.5" fill="#26a69a"/>
<rect x="23.00" y="359.5" width="1" height="12.0" fill="#ef5350"/>
<rect x="22.20" y="359.0" width="2.6" height="9.5" fill="#ef5350"/>
<rect x="26.00" y="355.5" width="1" height="20.5" fill="#26a69a"/>
<rect x="25.20" y="361.0" width="2.6" height="7.5" fill="#26a69a"/>
<rect x="30.00" y="354.0" width="1" height="33.0" fill="#ef5350"/>
<rect x="29.20" y="361.0" width="2.6" height="13.0" fill="#ef5350"/>
<rect x="33.00" y="370.5" width="1" height="24.5" fill="#26a69a"/>
<rect x="32.20" y="373.0" width="2.6" height="1.0" fill="#26a69a"/>
<rect x="36.00" y="344.5" width="1" height="41.5" fill="#26a69a"/>
<rect x="35.20" y="349.0" width="2.6" height="24.0" fill="#26a69a"/>
<rect x="39.00" y="299.0" width="1" height="123.5" fill="#ef5350"/>
<rect x="38.20" y="349.0" width="2.6" height="15.0" fill="#ef5350"/>
<rect x="42.00" y="318.0" width="1" height="54.0" fill="#26a69a"/>
<rect x="41.20" y="338.5" width="2.6" height="25.5" fill="#26a69a"/>
<rect x="45.00" y="332.0" width="1" height="12.5" fill="#26a69a"/>
<rect x="44.20" y="337.5" width="2.6" height="1.0" fill="#26a69a"/>
<rect x="48.00" y="323.5" width="1" height="25.0" fill="#26a69a"/>
<rect x="47.20" y="325.5" width="2.6" height="12.0" fill="#26a69a"/>
<rect x="51.00" y="324.5" width="1" height="65.0" fill="#ef5350"/>
<rect x="50.20" y="325.5" width="2.6" height="35.0" fill="#ef5350"/>
<rect x="54.00" y="352.0" width="1" height="35.5" fill="#ef5350"/>
<rect x="53.20" y="360.5" width="2.6" height="6.0" fill="#ef5350"/>
<rect x="57.00" y="318.0" width="1" height="57.5" fill="#26a69a"/>
<rect x="56.20" y="326.0" width="2.6" height="40.5" fill="#26a69a"/>
<rect x="60.00" y="312.5" width="1" height="29.5" fill="#ef5350"/>
<rect x="59.20" y="326.0" width="2.6" height="10.5" fill="#ef5350"/>
<rect x="63.00" y="318.0" width="1" height="25.0" fill="#26a69a"/>
<rect x="62.20" y="323.0" width="2.6" height="13.5" fill="#26a69a"/>
<rect x="67.00" y="312.0" width="1" height="19.0" fill="#ef5350"/>
<rect x="66.20" y="323.0" width="2.6" height="1.0" fill="#ef5350"/>
<rect x="70.00" y="288.0" width="1" height="36.5" fill="#26a69a"/>
<rect x="69.20" y="295.0" width="2.6" height="28.0" fill="#26a69a"/>
<rect x="73.00" y="265.0" width="1" height="40.0" fill="#26a69a"/>
<rect x="72.20" y="280.5" width="2.6" height="14.5" fill="#26a69a"/>
<rect x="76.00" y="259.5" width="1" height="27.5" fill="#26a69a"/>
<rect x="75.20" y="280.0" width="2.6" height="1.0" fill="#26a69a"/>
<rect x="79.00" y="276.0" width="1" height="60.5" fill="#ef5350"/>
<rect x="78.20" y="280.0" width="2.6" height="54.5" fill="#ef5350"/>
<rect x="82.00" y="311.0" width="1" height="64.5" fill="#ef5350"/>
<rect x="81.20" y="334.5" width="2.6" height="25.0" fill="#ef5350"/>
<rect x="85.00" y="352.0" width="1" height="55.0" fill="#26a69a"/>
<rect x="84.20" y="356.5" width="2.6" height="3.0" fill="#26a69a"/>
<rect x="88.00" y="341.0" width="1" height="27.5" fill="#ef5350"/>
<rect x="87.20" y="356.5" width="2.6" height="4.0" fill="#ef5350"/>
<rect x="91.00" y="359.5" width="1" height="28.0" fill="#ef5350"/>
<rect x="90.20" y="360.5" width="2.6" height="19.0" fill="#ef5350"/>
<rect x="94.00" y="366.5" width="1" height="38.5" fill="#ef5350"/>
<rect x="93.20" y="379.5" width="2.6" height="3.0" fill="#ef5350"/>
<rect x="97.00" y="341.0" width="1" height="53.0" fill="#26a69a"/>
<rect x="96.20" y="348.5" width="2.6" height="34.0" fill="#26a69a"/>
<rect x="100.00" y="340.0" width="1" height="17.5" fill="#26a69a"/>
<rect x="99.20" y="341.5" width="2.6" height="7.0" fill="#26a69a"/>
<rect x="104.00" y="336.5" width="1" height="43.0" fill="#ef5350"/>
<rect x="103.20" y="341.5" width="2.6" height="33.5" fill="#ef5350"/>
<rect x="107.00" y="358.5" width="1" height="36.5" fill="#ef5350"/>
<rect x="106.20" y="375.0" width="2.6" height="12.5" fill="#ef5350"/>
<rect x="110.00" y="375.0" width="1" height="14.5" fill="#26a69a"/>
<rect x="109.20" y="378.5" width="2.6" height="9.0" fill="#26a69a"/>
<rect x="113.00" y="378.5" width="1" height="19.5" fill="#ef5350"/>
<rect x="112.20" y="378.5" width="2.6" height="16.0" fill="#ef5350"/>
<rect x="116.00" y="381.5" width="1" height="32.0" fill="#ef5350"/>
<rect x="115.20" y="394.5" width="2.6" height="8.0" fill="#ef5350"/>
<rect x="119.00" y="370.5" width="1" height="38.0" fill="#26a69a"/>
<rect x="118.20" y="395.0" width="2.6" height="7.5" fill="#26a69a"/>
<rect x="122.00" y="380.5" width="1" height="20.0" fill="#26a69a"/>
<rect x="121.20" y="385.0" width="2.6" height="10.0" fill="#26a69a"/>
<rect x="125.00" y="355.5" width="1" height="31.5" fill="#26a69a"/>
<rect x="124.20" y="364.0" width="2.6" height="21.0" fill="#26a69a"/>
<rect x="128.00" y="345.5" width="1" height="26.0" fill="#26a69a"/>
<rect x="127.20" y="353.0" width="2.6" height="11.0" fill="#26a69a"/>
<rect x="131.00" y="348.0" width="1" height="10.5" fill="#26a69a"/>
<rect x="130.20" y="352.0" width="2.6" height="1.0" fill="#26a69a"/>
<rect x="134.00" y="347.5" width="1" height="13.0" fill="#26a69a"/>
<rect x="133.20" y="350.5" width="2.6" height="1.5" fill="#26a69a"/>
<rect x="137.00" y="313.5" width="1" height="41.5" fill="#26a69a"/>
<rect x="136.20" y="315.0" width="2.6" height="35.5" fill="#26a69a"/>
<rect x="140.00" y="312.0" width="1" height="59.0" fill="#ef5350"/>
<rect x="139.20" y="315.0" width="2.6" height="49.0" fill="#ef5350"/>
<rect x="144.00" y="361.0" width="1" height="43.0" fill="#ef5350"/>
<rect x="143.20" y="364.0" width="2.6" height="17.0" fill="#ef5350"/>
<rect x="147.00" y="378.5" width="1" height="37.5" fill="#ef5350"/>
<rect x="146.20" y="381.0" width="2.6" height="23.0" fill="#ef5350"/>
<rect x="150.00" y="374.0" width="1" height="33.0" fill="#26a69a"/>
<rect x="149.20" y="384.0" width="2.6" height="20.0" fill="#26a69a"/>
<rect x="153.00" y="381.5" width="1" height="11.0" fill="#ef5350"/>
<rect x="152.20" y="384.0" width="2.6" height="1.5" fill="#ef5350"/>
<rect x="156.00" y="377.5" width="1" height="15.5" fill="#ef5350"/>
<rect x="155.20" y="385.5" width="2.6" height="1.0" fill="#ef5350"/>
<rect x="159.00" y="373.0" width="1" height="61.5" fill="#ef5350"/>
<rect x="158.20" y="386.0" width="2.6" height="1.0" fill="#ef5350"/>
<rect x="162.00" y="360.5" width="1" height="27.0" fill="#26a69a"/>
<rect x="161.20" y="367.5" width="2.6" height="19.0" fill="#26a69a"/>
<rect x="165.00" y="329.0" width="1" height="39.5" fill="#26a69a"/>
<rect x="164.20" y="331.0" width="2.6" height="36.5" fill="#26a69a"/>
<rect x="168.00" y="328.5" width="1" height="32.0" fill="#ef5350"/>
<rect x="167.20" y="331.0" width="2.6" height="5.0" fill="#ef5350"/>
<rect x="171.00" y="282.5" width="1" height="54.5" fill="#26a69a"/>
<rect x="170.20" y="298.0" width="2.6" height="38.0" fill="#26a69a"/>
<rect x="174.00" y="291.0" width="1" height="24.0" fill="#26a69a"/>
<rect x="173.20" y="295.0" width="2.6" height="3.0" fill="#26a69a"/>
<rect x="177.00" y="277.0" width="1" height="62.0" fill="#ef5350"/>
<rect x="176.20" y="295.0" width="2.6" height="28.5" fill="#ef5350"/>
<rect x="181.00" y="248.5" width="1" height="91.5" fill="#26a69a"/>
<rect x="180.20" y="315.5" width="2.6" height="8.0" fill="#26a69a"/>
<rect x="184.00" y="269.5" width="1" height="64.5" fill="#26a69a"/>
<rect x="183.20" y="280.0" width="2.6" height="35.5" fill="#26a69a"/>
<rect x="187.00" y="278.0" width="1" height="27.5" fill="#ef5350"/>
<rect x="186.20" y="280.0" width="2.6" height="22.0" fill="#ef5350"/>
<rect x="190.00" y="273.5" width="1" height="50.0" fill="#26a69a"/>
<rect x="189.20" y="299.5" width="2.6" height="2.5" fill="#26a69a"/>
<rect x="193.00" y="271.5" width="1" height="39.0" fill="#26a69a"/>
<rect x="192.20" y="291.5" width="2.6" height="8.0" fill="#26a69a"/>
<rect x="196.00" y="287.5" width="1" height="10.5" fill="#ef5350"/>
<rect x="195.20" y="291.5" width="2.6" height="1.0" fill="#ef5350"/>
<rect x="199.00" y="285.5" width="1" height="27.0" fill="#ef5350"/>
<rect x="198.20" y="292.5" width="2.6" height="19.5" fill="#ef5350"/>
<rect x="202.00" y="306.5" width="1" height="49.0" fill="#ef5350"/>
<rect x="201.20" y="312.0" width="2.6" height="5.0" fill="#ef5350"/>
<rect x="205.00" y="302.0" width="1" height="31.0" fill="#ef5350"/>
<rect x="204.20" y="317.0" width="2.6" height="6.5" fill="#ef5350"/>
<rect x="208.00" y="292.5" width="1" height="32.0" fill="#26a69a"/>
<rect x="207.20" y="302.0" width="2.6" height="21.5" fill="#26a69a"/>
<rect x="211.00" y="277.0" width="1" height="28.5" fill="#26a69a"/>
<rect x="210.20" y="292.5" width="2.6" height="9.5" fill="#26a69a"/>
<rect x="214.00" y="280.5" width="1" height="41.5" fill="#ef5350"/>
<rect x="213.20" y="292.5" width="2.6" height="21.0" fill="#ef5350"/>
<rect x="218.00" y="311.0" width="1" height="22.0" fill="#ef5350"/>
<rect x="217.20" y="313.5" width="2.6" height="16.5" fill="#ef5350"/>
<rect x="221.00" y="323.0" width="1" height="47.5" fill="#ef5350"/>
<rect x="220.20" y="330.0" width="2.6" height="26.5" fill="#ef5350"/>
<rect x="224.00" y="313.5" width="1" height="102.5" fill="#26a69a"/>
<rect x="223.20" y="323.5" width="2.6" height="33.0" fill="#26a69a"/>
<rect x="227.00" y="321.0" width="1" height="49.5" fill="#ef5350"/>
<rect x="226.20" y="323.5" width="2.6" height="32.0" fill="#ef5350"/>
<rect x="230.00" y="344.0" width="1" height="27.0" fill="#ef5350"/>
<rect x="229.20" y="355.5" width="2.6" height="11.0" fill="#ef5350"/>
<rect x="233.00" y="344.0" width="1" height="31.5" fill="#ef5350"/>
<rect x="232.20" y="366.5" width="2.6" height="1.0" fill="#ef5350"/>
<rect x="236.00" y="334.5" width="1" height="41.0" fill="#ef5350"/>
<rect x="235.20" y="367.0" width="2.6" height="1.0" fill="#ef5350"/>
<rect x="239.00" y="364.5" width="1" height="11.0" fill="#ef5350"/>
<rect x="238.20" y="367.5" width="2.6" height="1.0" fill="#ef5350"/>
<rect x="242.00" y="360.5" width="1" height="23.0" fill="#26a69a"/>
<rect x="241.20" y="368.0" width="2.6" height="1.0" fill="#26a69a"/>
<rect x="245.00" y="351.0" width="1" height="27.5" fill="#26a69a"/>
<rect x="244.20" y="359.5" width="2.6" height="8.5" fill="#26a69a"/>
<rect x="248.00" y="350.0" width="1" height="32.5" fill="#ef5350"/>
<rect x="247.20" y="359.5" width="2.6" height="15.0" fill="#ef5350"/>
<rect x="251.00" y="352.0" width="1" height="37.5" fill="#26a69a"/>
<rect x="250.20" y="355.5" width="2.6" height="19.0" fill="#26a69a"/>
<rect x="255.00" y="354.0" width="1" height="25.5" fill="#ef5350"/>
<rect x="254.20" y="355.5" width="2.6" height="11.5" fill="#ef5350"/>
<rect x="258.00" y="346.5" width="1" height="24.0" fill="#26a69a"/>
<rect x="257.20" y="358.5" width="2.6" height="8.5" fill="#26a69a"/>
<rect x="261.00" y="355.0" width="1" height="6.0" fill="#26a69a"/>
<rect x="260.20" y="358.0" width="2.6" height="1.0" fill="#26a69a"/>
<rect x="264.00" y="357.5" width="1" height="14.0" fill="#ef5350"/>
<rect x="263.20" y="358.0" width="2.6" height="13.5" fill="#ef5350"/>
<rect x="267.00" y="363.5" width="1" height="16.0" fill="#ef5350"/>
<rect x="266.20" y="371.5" width="2.6" height="3.0" fill="#ef5350"/>
<rect x="270.00" y="365.0" width="1" height="31.0" fill="#ef5350"/>
<rect x="269.20" y="374.5" width="2.6" height="1.0" fill="#ef5350"/>
<rect x="273.00" y="364.0" width="1" height="17.5" fill="#26a69a"/>
<rect x="272.20" y="366.5" width="2.6" height="9.0" fill="#26a69a"/>
<rect x="276.00" y="347.5" width="1" height="21.0" fill="#26a69a"/>
<rect x="275.20" y="351.0" width="2.6" height="15.5" fill="#26a69a"/>
<rect x="279.00" y="340.0" width="1" height="42.5" fill="#ef5350"/>
<rect x="278.20" y="351.0" width="2.6" height="20.5" fill="#ef5350"/>
<rect x="282.00" y="364.0" width="1" height="10.0" fill="#26a69a"/>
<rect x="281.20" y="367.0" width="2.6" height="4.5" fill="#26a69a"/>
<rect x="285.00" y="366.5" width="1" height="13.0" fill="#ef5350"/>
<rect x="284.20" y="367.0" width="2.6" height="3.0" fill="#ef5350"/>
<rect x="288.00" y="367.5" width="1" height="46.5" fill="#ef5350"/>
<rect x="287.20" y="370.0" width="2.6" height="43.0" fill="#ef5350"/>
<rect x="292.00" y="404.0" width="1" height="59.0" fill="#ef5350"/>
<rect x="291.20" y="413.0" width="2.6" height="27.0" fill="#ef5350"/>
<rect x="295.00" y="433.5" width="1" height="65.0" fill="#ef5350"/>
<rect x="294.20" y="440.0" width="2.6" height="41.0" fill="#ef5350"/>
<rect x="298.00" y="453.5" width="1" height="40.5" fill="#26a69a"/>
<rect x="297.20" y="475.5" width="2.6" height="5.5" fill="#26a69a"/>
<rect x="301.00" y="472.0" width="1" height="63.0" fill="#ef5350"/>
<rect x="300.20" y="475.5" width="2.6" height="3.0" fill="#ef5350"/>
<rect x="304.00" y="459.0" width="1" height="25.0" fill="#26a69a"/>
<rect x="303.20" y="463.0" width="2.6" height="15.5" fill="#26a69a"/>
<rect x="307.00" y="382.0" width="1" height="91.0" fill="#26a69a"/>
<rect x="306.20" y="387.5" width="2.6" height="75.5" fill="#26a69a"/>
<rect x="310.00" y="387.0" width="1" height="85.5" fill="#ef5350"/>
<rect x="309.20" y="387.5" width="2.6" height="74.5" fill="#ef5350"/>
<rect x="313.00" y="437.0" width="1" height="68.0" fill="#26a69a"/>
<rect x="312.20" y="451.5" width="2.6" height="10.5" fill="#26a69a"/>
<rect x="316.00" y="418.0" width="1" height="43.5" fill="#26a69a"/>
<rect x="315.20" y="421.5" width="2.6" height="30.0" fill="#26a69a"/>
<rect x="319.00" y="402.0" width="1" height="44.0" fill="#ef5350"/>
<rect x="318.20" y="421.5" width="2.6" height="6.5" fill="#ef5350"/>
<rect x="322.00" y="415.5" width="1" height="60.0" fill="#ef5350"/>
<rect x="321.20" y="428.0" width="2.6" height="28.5" fill="#ef5350"/>
<rect x="325.00" y="455.5" width="1" height="14.5" fill="#ef5350"/>
<rect x="324.20" y="456.5" width="2.6" height="5.5" fill="#ef5350"/>
<rect x="329.00" y="460.0" width="1" height="58.5" fill="#ef5350"/>
<rect x="328.20" y="462.0" width="2.6" height="50.0" fill="#ef5350"/>
<rect x="332.00" y="482.0" width="1" height="59.5" fill="#ef5350"/>
<rect x="331.20" y="512.0" width="2.6" height="19.5" fill="#ef5350"/>
<rect x="335.00" y="486.5" width="1" height="62.5" fill="#26a69a"/>
<rect x="334.20" y="492.0" width="2.6" height="39.5" fill="#26a69a"/>
<rect x="338.00" y="478.5" width="1" height="33.5" fill="#26a69a"/>
<rect x="337.20" y="484.5" width="2.6" height="7.5" fill="#26a69a"/>
<rect x="341.00" y="479.0" width="1" height="40.5" fill="#ef5350"/>
<rect x="340.20" y="484.5" width="2.6" height="24.0" fill="#ef5350"/>
<rect x="344.00" y="471.0" width="1" height="39.5" fill="#26a69a"/>
<rect x="343.20" y="482.0" width="2.6" height="26.5" fill="#26a69a"/>
<rect x="347.00" y="475.5" width="1" height="9.0" fill="#26a69a"/>
<rect x="346.20" y="478.5" width="2.6" height="3.5" fill="#26a69a"/>
<rect x="350.00" y="473.0" width="1" height="27.0" fill="#ef5350"/>
<rect x="349.20" y="478.5" width="2.6" height="16.0" fill="#ef5350"/>
<rect x="353.00" y="476.5" width="1" height="20.0" fill="#26a69a"/>
<rect x="352.20" y="482.0" width="2.6" height="12.5" fill="#26a69a"/>
<rect x="356.00" y="481.0" width="1" height="26.5" fill="#ef5350"/>
<rect x="355.20" y="482.0" width="2.6" height="12.0" fill="#ef5350"/>
<rect x="359.00" y="453.5" width="1" height="41.5" fill="#26a69a"/>
<rect x="358.20" y="456.0" width="2.6" height="38.0" fill="#26a69a"/>
<rect x="362.00" y="451.5" width="1" height="33.5" fill="#ef5350"/>
<rect x="361.20" y="456.0" width="2.6" height="24.0" fill="#ef5350"/>
<rect x="366.00" y="474.5" width="1" height="14.5" fill="#ef5350"/>
<rect x="365.20" y="480.0" width="2.6" height="1.0" fill="#ef5350"/>
<rect x="369.00" y="477.5" width="1" height="7.0" fill="#ef5350"/>
<rect x="368.20" y="481.0" width="2.6" height="2.5" fill="#ef5350"/>
<rect x="372.00" y="462.5" width="1" height="21.5" fill="#26a69a"/>
<rect x="371.20" y="463.0" width="2.6" height="20.5" fill="#26a69a"/>
<rect x="375.00" y="439.5" width="1" height="28.0" fill="#26a69a"/>
<rect x="374.20" y="450.0" width="2.6" height="13.0" fill="#26a69a"/>
<rect x="378.00" y="441.0" width="1" height="20.0" fill="#ef5350"/>
<rect x="377.20" y="450.0" width="2.6" height="1.0" fill="#ef5350"/>
<rect x="381.00" y="443.5" width="1" height="22.0" fill="#ef5350"/>
<rect x="380.20" y="451.0" width="2.6" height="4.5" fill="#ef5350"/>
<rect x="384.00" y="448.0" width="1" height="18.5" fill="#26a69a"/>
<rect x="383.20" y="452.5" width="2.6" height="3.0" fill="#26a69a"/>
<rect x="387.00" y="450.5" width="1" height="35.0" fill="#ef5350"/>
<rect x="386.20" y="452.5" width="2.6" height="26.0" fill="#ef5350"/>
<rect x="390.00" y="478.0" width="1" height="26.0" fill="#ef5350"/>
<rect x="389.20" y="478.5" width="2.6" height="16.0" fill="#ef5350"/>
<rect x="393.00" y="487.5" width="1" height="17.0" fill="#ef5350"/>
<rect x="392.20" y="494.5" width="2.6" height="2.5" fill="#ef5350"/>
<rect x="396.00" y="483.0" width="1" height="23.5" fill="#26a69a"/>
<rect x="395.20" y="495.0" width="2.6" height="2.0" fill="#26a69a"/>
<rect x="399.00" y="468.0" width="1" height="29.5" fill="#26a69a"/>
<rect x="398.20" y="471.5" width="2.6" height="23.5" fill="#26a69a"/>
<rect x="403.00" y="441.0" width="1" height="56.5" fill="#ef5350"/>
<rect x="402.20" y="471.5" width="2.6" height="24.0" fill="#ef5350"/>
<rect x="406.00" y="483.0" width="1" height="24.5" fill="#26a69a"/>
<rect x="405.20" y="489.0" width="2.6" height="6.5" fill="#26a69a"/>
<rect x="409.00" y="475.5" width="1" height="28.5" fill="#26a69a"/>
<rect x="408.20" y="483.0" width="2.6" height="6.0" fill="#26a69a"/>
<rect x="412.00" y="480.0" width="1" height="16.5" fill="#ef5350"/>
<rect x="411.20" y="483.0" width="2.6" height="3.5" fill="#ef5350"/>
<rect x="415.00" y="484.0" width="1" height="61.0" fill="#ef5350"/>
<rect x="414.20" y="486.5" width="2.6" height="46.5" fill="#ef5350"/>
<rect x="418.00" y="508.5" width="1" height="60.5" fill="#26a69a"/>
<rect x="417.20" y="526.5" width="2.6" height="6.5" fill="#26a69a"/>
<rect x="421.00" y="510.5" width="1" height="43.5" fill="#ef5350"/>
<rect x="420.20" y="526.5" width="2.6" height="26.0" fill="#ef5350"/>
<rect x="424.00" y="485.5" width="1" height="84.0" fill="#26a69a"/>
<rect x="423.20" y="494.5" width="2.6" height="58.0" fill="#26a69a"/>
<rect x="427.00" y="494.0" width="1" height="38.5" fill="#ef5350"/>
<rect x="426.20" y="494.5" width="2.6" height="27.5" fill="#ef5350"/>
<rect x="430.00" y="480.0" width="1" height="48.0" fill="#26a69a"/>
<rect x="429.20" y="487.5" width="2.6" height="34.5" fill="#26a69a"/>
<rect x="433.00" y="465.5" width="1" height="27.5" fill="#26a69a"/>
<rect x="432.20" y="470.0" width="2.6" height="17.5" fill="#26a69a"/>
<rect x="436.00" y="463.5" width="1" height="27.5" fill="#ef5350"/>
<rect x="435.20" y="470.0" width="2.6" height="14.0" fill="#ef5350"/>
<rect x="440.00" y="466.5" width="1" height="19.0" fill="#26a69a"/>
<rect x="439.20" y="476.5" width="2.6" height="7.5" fill="#26a69a"/>
<rect x="443.00" y="460.0" width="1" height="25.5" fill="#ef5350"/>
<rect x="442.20" y="476.5" width="2.6" height="8.5" fill="#ef5350"/>
<rect x="446.00" y="468.5" width="1" height="21.5" fill="#26a69a"/>
<rect x="445.20" y="481.5" width="2.6" height="3.5" fill="#26a69a"/>
<rect x="449.00" y="469.0" width="1" height="15.0" fill="#26a69a"/>
<rect x="448.20" y="473.0" width="2.6" height="8.5" fill="#26a69a"/>
<rect x="452.00" y="472.0" width="1" height="7.0" fill="#ef5350"/>
<rect x="451.20" y="473.0" width="2.6" height="5.0" fill="#ef5350"/>
<rect x="455.00" y="467.5" width="1" height="11.0" fill="#26a69a"/>
<rect x="454.20" y="472.0" width="2.6" height="6.0" fill="#26a69a"/>
<rect x="458.00" y="470.0" width="1" height="12.5" fill="#26a69a"/>
<rect x="457.20" y="471.0" width="2.6" height="1.0" fill="#26a69a"/>
<rect x="461.00" y="441.0" width="1" height="31.0" fill="#26a69a"/>
<rect x="460.20" y="450.0" width="2.6" height="21.0" fill="#26a69a"/>
<rect x="464.00" y="392.5" width="1" height="61.0" fill="#26a69a"/>
<rect x="463.20" y="395.5" width="2.6" height="54.5" fill="#26a69a"/>
<rect x="467.00" y="385.0" width="1" height="24.5" fill="#26a69a"/>
<rect x="466.20" y="393.0" width="2.6" height="2.5" fill="#26a69a"/>
<rect x="470.00" y="390.5" width="1" height="21.5" fill="#26a69a"/>
<rect x="469.20" y="391.0" width="2.6" height="2.0" fill="#26a69a"/>
<rect x="473.00" y="374.5" width="1" height="26.0" fill="#26a69a"/>
<rect x="472.20" y="384.0" width="2.6" height="7.0" fill="#26a69a"/>
<rect x="477.00" y="379.5" width="1" height="12.0" fill="#ef5350"/>
<rect x="476.20" y="384.0" width="2.6" height="1.0" fill="#ef5350"/>
<rect x="480.00" y="378.0" width="1" height="16.0" fill="#ef5350"/>
<rect x="479.20" y="384.5" width="2.6" height="8.0" fill="#ef5350"/>
<rect x="483.00" y="376.5" width="1" height="25.0" fill="#26a69a"/>
<rect x="482.20" y="381.5" width="2.6" height="11.0" fill="#26a69a"/>
<rect x="486.00" y="377.0" width="1" height="14.5" fill="#ef5350"/>
<rect x="485.20" y="381.5" width="2.6" height="6.5" fill="#ef5350"/>
<rect x="489.00" y="379.5" width="1" height="21.0" fill="#ef5350"/>
<rect x="488.20" y="388.0" width="2.6" height="1.0" fill="#ef5350"/>
<rect x="492.00" y="359.5" width="1" height="30.0" fill="#26a69a"/>
<rect x="491.20" y="368.5" width="2.6" height="20.0" fill="#26a69a"/>
<rect x="495.00" y="355.5" width="1" height="16.5" fill="#26a69a"/>
<rect x="494.20" y="364.5" width="2.6" height="4.0" fill="#26a69a"/>
<rect x="498.00" y="364.0" width="1" height="11.0" fill="#ef5350"/>
<rect x="497.20" y="364.5" width="2.6" height="9.5" fill="#ef5350"/>
<rect x="501.00" y="369.5" width="1" height="20.5" fill="#ef5350"/>
<rect x="500.20" y="374.0" width="2.6" height="14.5" fill="#ef5350"/>
<rect x="504.00" y="379.5" width="1" height="15.5" fill="#26a69a"/>
<rect x="503.20" y="383.5" width="2.6" height="5.0" fill="#26a69a"/>
<rect x="507.00" y="364.0" width="1" height="32.0" fill="#26a69a"/>
<rect x="506.20" y="365.0" width="2.6" height="18.5" fill="#26a69a"/>
<rect x="510.00" y="356.5" width="1" height="18.5" fill="#26a69a"/>
<rect x="509.20" y="363.0" width="2.6" height="2.0" fill="#26a69a"/>
<rect x="514.00" y="298.0" width="1" height="66.0" fill="#26a69a"/>
<rect x="513.20" y="306.0" width="2.6" height="57.0" fill="#26a69a"/>
<rect x="517.00" y="296.0" width="1" height="18.5" fill="#ef5350"/>
<rect x="516.20" y="306.0" width="2.6" height="2.5" fill="#ef5350"/>
<rect x="520.00" y="290.5" width="1" height="19.5" fill="#26a69a"/>
<rect x="519.20" y="291.5" width="2.6" height="17.0" fill="#26a69a"/>
<rect x="523.00" y="291.0" width="1" height="14.5" fill="#ef5350"/>
<rect x="522.20" y="291.5" width="2.6" height="6.5" fill="#ef5350"/>
<rect x="526.00" y="282.5" width="1" height="46.0" fill="#ef5350"/>
<rect x="525.20" y="298.0" width="2.6" height="12.0" fill="#ef5350"/>
<rect x="529.00" y="291.0" width="1" height="32.0" fill="#26a69a"/>
<rect x="528.20" y="298.0" width="2.6" height="12.0" fill="#26a69a"/>
<rect x="532.00" y="296.0" width="1" height="16.0" fill="#ef5350"/>
<rect x="531.20" y="298.0" width="2.6" height="5.5" fill="#ef5350"/>
<rect x="535.00" y="297.0" width="1" height="26.0" fill="#26a69a"/>
<rect x="534.20" y="301.5" width="2.6" height="2.0" fill="#26a69a"/>
<rect x="538.00" y="293.5" width="1" height="13.5" fill="#ef5350"/>
<rect x="537.20" y="301.5" width="2.6" height="2.5" fill="#ef5350"/>
<rect x="541.00" y="302.0" width="1" height="10.0" fill="#ef5350"/>
<rect x="540.20" y="304.0" width="2.6" height="3.0" fill="#ef5350"/>
<rect x="544.00" y="275.0" width="1" height="33.0" fill="#26a69a"/>
<rect x="543.20" y="276.5" width="2.6" height="30.5" fill="#26a69a"/>
<rect x="547.00" y="270.5" width="1" height="47.5" fill="#ef5350"/>
<rect x="546.20" y="276.5" width="2.6" height="8.5" fill="#ef5350"/>
<rect x="551.00" y="269.5" width="1" height="27.5" fill="#26a69a"/>
<rect x="550.20" y="273.0" width="2.6" height="12.0" fill="#26a69a"/>
<rect x="554.00" y="236.5" width="1" height="43.5" fill="#26a69a"/>
<rect x="553.20" y="247.5" width="2.6" height="25.5" fill="#26a69a"/>
<rect x="557.00" y="226.5" width="1" height="25.0" fill="#26a69a"/>
<rect x="556.20" y="228.5" width="2.6" height="19.0" fill="#26a69a"/>
<rect x="560.00" y="227.5" width="1" height="46.5" fill="#ef5350"/>
<rect x="559.20" y="228.5" width="2.6" height="40.5" fill="#ef5350"/>
<rect x="563.00" y="248.5" width="1" height="25.0" fill="#26a69a"/>
<rect x="562.20" y="264.5" width="2.6" height="4.5" fill="#26a69a"/>
<rect x="566.00" y="250.5" width="1" height="25.0" fill="#26a69a"/>
<rect x="565.20" y="253.5" width="2.6" height="11.0" fill="#26a69a"/>
<rect x="569.00" y="240.5" width="1" height="16.5" fill="#26a69a"/>
<rect x="568.20" y="249.0" width="2.6" height="4.5" fill="#26a69a"/>
<rect x="572.00" y="237.5" width="1" height="29.5" fill="#ef5350"/>
<rect x="571.20" y="249.0" width="2.6" height="4.5" fill="#ef5350"/>
<rect x="575.00" y="251.5" width="1" height="22.5" fill="#ef5350"/>
<rect x="574.20" y="253.5" width="2.6" height="11.0" fill="#ef5350"/>
<rect x="578.00" y="255.0" width="1" height="31.5" fill="#ef5350"/>
<rect x="577.20" y="264.5" width="2.6" height="20.0" fill="#ef5350"/>
<rect x="581.00" y="279.0" width="1" height="24.0" fill="#ef5350"/>
<rect x="580.20" y="284.5" width="2.6" height="15.0" fill="#ef5350"/>
<rect x="584.00" y="291.0" width="1" height="16.5" fill="#26a69a"/>
<rect x="583.20" y="293.5" width="2.6" height="6.0" fill="#26a69a"/>
<rect x="588.00" y="281.5" width="1" height="16.5" fill="#26a69a"/>
<rect x="587.20" y="284.0" width="2.6" height="9.5" fill="#26a69a"/>
<rect x="591.00" y="281.5" width="1" height="20.5" fill="#26a69a"/>
<rect x="590.20" y="282.0" width="2.6" height="2.0" fill="#26a69a"/>
<rect x="594.00" y="274.0" width="1" height="17.0" fill="#ef5350"/>
<rect x="593.20" y="282.0" width="2.6" height="4.0" fill="#ef5350"/>
<rect x="597.00" y="281.5" width="1" height="16.0" fill="#ef5350"/>
<rect x="596.20" y="286.0" width="2.6" height="6.5" fill="#ef5350"/>
<rect x="600.00" y="282.5" width="1" height="50.0" fill="#ef5350"/>
<rect x="599.20" y="292.5" width="2.6" height="29.5" fill="#ef5350"/>
<rect x="603.00" y="287.0" width="1" height="39.5" fill="#26a69a"/>
<rect x="602.20" y="296.5" width="2.6" height="25.5" fill="#26a69a"/>
<rect x="606.00" y="282.5" width="1" height="18.0" fill="#26a69a"/>
<rect x="605.20" y="285.0" width="2.6" height="11.5" fill="#26a69a"/>
<rect x="609.00" y="277.0" width="1" height="13.5" fill="#26a69a"/>
<rect x="608.20" y="283.5" width="2.6" height="1.5" fill="#26a69a"/>
<rect x="612.00" y="240.0" width="1" height="48.0" fill="#26a69a"/>
<rect x="611.20" y="242.0" width="2.6" height="41.5" fill="#26a69a"/>
<rect x="615.00" y="240.5" width="1" height="18.5" fill="#26a69a"/>
<rect x="614.20" y="241.5" width="2.6" height="1.0" fill="#26a69a"/>
<rect x="618.00" y="241.0" width="1" height="20.5" fill="#ef5350"/>
<rect x="617.20" y="241.5" width="2.6" height="15.0" fill="#ef5350"/>
<rect x="621.00" y="255.5" width="1" height="29.5" fill="#ef5350"/>
<rect x="620.20" y="256.5" width="2.6" height="27.5" fill="#ef5350"/>
<rect x="625.00" y="279.0" width="1" height="32.5" fill="#26a69a"/>
<rect x="624.20" y="280.5" width="2.6" height="3.5" fill="#26a69a"/>
<rect x="628.00" y="279.0" width="1" height="17.5" fill="#ef5350"/>
<rect x="627.20" y="280.5" width="2.6" height="5.5" fill="#ef5350"/>
<rect x="631.00" y="280.5" width="1" height="14.0" fill="#26a69a"/>
<rect x="630.20" y="285.0" width="2.6" height="1.0" fill="#26a69a"/>
<rect x="634.00" y="254.0" width="1" height="36.0" fill="#26a69a"/>
<rect x="633.20" y="273.5" width="2.6" height="11.5" fill="#26a69a"/>
<rect x="637.00" y="264.5" width="1" height="40.0" fill="#ef5350"/>
<rect x="636.20" y="273.5" width="2.6" height="20.5" fill="#ef5350"/>
<rect x="640.00" y="285.5" width="1" height="18.0" fill="#26a69a"/>
<rect x="639.20" y="291.0" width="2.6" height="3.0" fill="#26a69a"/>
<rect x="643.00" y="289.0" width="1" height="10.0" fill="#ef5350"/>
<rect x="642.20" y="291.0" width="2.6" height="2.0" fill="#ef5350"/>
<rect x="646.00" y="276.0" width="1" height="38.5" fill="#ef5350"/>
<rect x="645.20" y="293.0" width="2.6" height="12.5" fill="#ef5350"/>
<rect x="649.00" y="300.0" width="1" height="28.0" fill="#ef5350"/>
<rect x="648.20" y="305.5" width="2.6" height="11.0" fill="#ef5350"/>
<rect x="652.00" y="305.5" width="1" height="46.5" fill="#ef5350"/>
<rect x="651.20" y="316.5" width="2.6" height="10.5" fill="#ef5350"/>
<rect x="655.00" y="281.0" width="1" height="58.5" fill="#26a69a"/>
<rect x="654.20" y="286.5" width="2.6" height="40.5" fill="#26a69a"/>
<rect x="658.00" y="278.5" width="1" height="14.0" fill="#26a69a"/>
<rect x="657.20" y="280.5" width="2.6" height="6.0" fill="#26a69a"/>
<rect x="662.00" y="261.5" width="1" height="20.0" fill="#26a69a"/>
<rect x="661.20" y="269.0" width="2.6" height="11.5" fill="#26a69a"/>
<rect x="665.00" y="260.5" width="1" height="15.5" fill="#ef5350"/>
<rect x="664.20" y="269.0" width="2.6" height="3.0" fill="#ef5350"/>
<rect x="668.00" y="265.0" width="1" height="13.0" fill="#26a69a"/>
<rect x="667.20" y="271.0" width="2.6" height="1.0" fill="#26a69a"/>
<rect x="671.00" y="267.0" width="1" height="6.5" fill="#26a69a"/>
<rect x="670.20" y="269.0" width="2.6" height="2.0" fill="#26a69a"/>
<rect x="674.00" y="257.5" width="1" height="12.5" fill="#26a69a"/>
<rect x="673.20" y="259.0" width="2.6" height="10.0" fill="#26a69a"/>
<rect x="677.00" y="256.0" width="1" height="18.0" fill="#ef5350"/>
<rect x="676.20" y="259.0" width="2.6" height="11.0" fill="#ef5350"/>
<rect x="680.00" y="267.0" width="1" height="20.0" fill="#ef5350"/>
<rect x="679.20" y="270.0" width="2.6" height="13.5" fill="#ef5350"/>
<rect x="683.00" y="247.0" width="1" height="42.0" fill="#26a69a"/>
<rect x="682.20" y="254.5" width="2.6" height="29.0" fill="#26a69a"/>
<rect x="686.00" y="240.0" width="1" height="17.5" fill="#26a69a"/>
<rect x="685.20" y="248.0" width="2.6" height="6.5" fill="#26a69a"/>
<rect x="689.00" y="247.0" width="1" height="22.0" fill="#ef5350"/>
<rect x="688.20" y="248.0" width="2.6" height="14.5" fill="#ef5350"/>
<rect x="692.00" y="259.0" width="1" height="5.5" fill="#26a69a"/>
<rect x="691.20" y="260.5" width="2.6" height="2.0" fill="#26a69a"/>
<rect x="695.00" y="247.0" width="1" height="17.5" fill="#26a69a"/>
<rect x="694.20" y="251.5" width="2.6" height="9.0" fill="#26a69a"/>
<rect x="699.00" y="247.0" width="1" height="20.0" fill="#ef5350"/>
<rect x="698.20" y="251.5" width="2.6" height="8.5" fill="#ef5350"/>
<rect x="702.00" y="251.5" width="1" height="16.5" fill="#26a69a"/>
<rect x="701.20" y="254.0" width="2.6" height="6.0" fill="#26a69a"/>
<rect x="705.00" y="226.5" width="1" height="33.0" fill="#26a69a"/>
<rect x="704.20" y="232.5" width="2.6" height="21.5" fill="#26a69a"/>
<rect x="708.00" y="182.0" width="1" height="57.0" fill="#26a69a"/>
<rect x="707.20" y="189.5" width="2.6" height="43.0" fill="#26a69a"/>
<rect x="711.00" y="163.0" width="1" height="33.0" fill="#26a69a"/>
<rect x="710.20" y="175.0" width="2.6" height="14.5" fill="#26a69a"/>
<rect x="714.00" y="168.5" width="1" height="12.5" fill="#ef5350"/>
<rect x="713.20" y="175.0" width="2.6" height="1.5" fill="#ef5350"/>
<rect x="717.00" y="157.5" width="1" height="21.0" fill="#26a69a"/>
<rect x="716.20" y="161.0" width="2.6" height="15.5" fill="#26a69a"/>
<rect x="720.00" y="123.5" width="1" height="39.0" fill="#26a69a"/>
<rect x="719.20" y="154.0" width="2.6" height="7.0" fill="#26a69a"/>
<rect x="723.00" y="153.0" width="1" height="38.5" fill="#ef5350"/>
<rect x="722.20" y="154.0" width="2.6" height="19.5" fill="#ef5350"/>
<rect x="726.00" y="153.0" width="1" height="27.5" fill="#26a69a"/>
<rect x="725.20" y="165.0" width="2.6" height="8.5" fill="#26a69a"/>
<rect x="729.00" y="144.0" width="1" height="32.0" fill="#26a69a"/>
<rect x="728.20" y="160.0" width="2.6" height="5.0" fill="#26a69a"/>
<rect x="732.00" y="146.0" width="1" height="36.0" fill="#ef5350"/>
<rect x="731.20" y="160.0" width="2.6" height="12.0" fill="#ef5350"/>
<rect x="736.00" y="167.5" width="1" height="10.0" fill="#ef5350"/>
<rect x="735.20" y="172.0" width="2.6" height="1.0" fill="#ef5350"/>
<rect x="739.00" y="163.5" width="1" height="21.0" fill="#ef5350"/>
<rect x="738.20" y="172.5" width="2.6" height="5.5" fill="#ef5350"/>
<rect x="742.00" y="156.5" width="1" height="28.5" fill="#26a69a"/>
<rect x="741.20" y="176.5" width="2.6" height="1.5" fill="#26a69a"/>
<rect x="745.00" y="151.0" width="1" height="37.5" fill="#26a69a"/>
<rect x="744.20" y="153.0" width="2.6" height="23.5" fill="#26a69a"/>
<rect x="748.00" y="152.0" width="1" height="26.5" fill="#ef5350"/>
<rect x="747.20" y="153.0" width="2.6" height="11.0" fill="#ef5350"/>
<rect x="751.00" y="157.5" width="1" height="22.0" fill="#ef5350"/>
<rect x="750.20" y="164.0" width="2.6" height="4.0" fill="#ef5350"/>
<rect x="754.00" y="167.5" width="1" height="33.0" fill="#ef5350"/>
<rect x="753.20" y="168.0" width="2.6" height="6.5" fill="#ef5350"/>
<rect x="757.00" y="168.0" width="1" height="10.5" fill="#26a69a"/>
<rect x="756.20" y="172.0" width="2.6" height="2.5" fill="#26a69a"/>
<rect x="760.00" y="154.5" width="1" height="18.5" fill="#26a69a"/>
<rect x="759.20" y="158.0" width="2.6" height="14.0" fill="#26a69a"/>
<rect x="763.00" y="155.5" width="1" height="21.0" fill="#ef5350"/>
<rect x="762.20" y="158.0" width="2.6" height="12.5" fill="#ef5350"/>
<rect x="766.00" y="160.0" width="1" height="20.5" fill="#ef5350"/>
<rect x="765.20" y="170.5" width="2.6" height="1.0" fill="#ef5350"/>
<rect x="769.00" y="164.0" width="1" height="27.5" fill="#ef5350"/>
<rect x="768.20" y="171.5" width="2.6" height="1.0" fill="#ef5350"/>
<rect x="773.00" y="162.5" width="1" height="31.5" fill="#ef5350"/>
<rect x="772.20" y="172.5" width="2.6" height="19.0" fill="#ef5350"/>
<rect x="776.00" y="189.0" width="1" height="30.5" fill="#ef5350"/>
<rect x="775.20" y="191.5" width="2.6" height="22.5" fill="#ef5350"/>
<rect x="779.00" y="207.0" width="1" height="20.0" fill="#ef5350"/>
<rect x="778.20" y="214.0" width="2.6" height="7.0" fill="#ef5350"/>
<rect x="782.00" y="200.0" width="1" height="27.0" fill="#26a69a"/>
<rect x="781.20" y="205.5" width="2.6" height="15.5" fill="#26a69a"/>
<rect x="785.00" y="192.0" width="1" height="15.5" fill="#26a69a"/>
<rect x="784.20" y="198.0" width="2.6" height="7.5" fill="#26a69a"/>
<rect x="788.00" y="197.0" width="1" height="23.0" fill="#ef5350"/>
<rect x="787.20" y="198.0" width="2.6" height="8.0" fill="#ef5350"/>
<rect x="791.00" y="192.0" width="1" height="21.5" fill="#26a69a"/>
<rect x="790.20" y="198.5" width="2.6" height="7.5" fill="#26a69a"/>
<rect x="794.00" y="174.5" width="1" height="30.5" fill="#26a69a"/>
<rect x="793.20" y="175.5" width="2.6" height="23.0" fill="#26a69a"/>
<rect x="797.00" y="174.5" width="1" height="15.5" fill="#ef5350"/>
<rect x="796.20" y="175.5" width="2.6" height="7.5" fill="#ef5350"/>
<rect x="800.00" y="172.0" width="1" height="14.5" fill="#ef5350"/>
<rect x="799.20" y="183.0" width="2.6" height="1.5" fill="#ef5350"/>
<rect x="803.00" y="159.0" width="1" height="26.5" fill="#26a69a"/>
<rect x="802.20" y="159.0" width="2.6" height="25.5" fill="#26a69a"/>
<rect x="806.00" y="131.5" width="1" height="39.0" fill="#ef5350"/>
<rect x="805.20" y="159.0" width="2.6" height="5.5" fill="#ef5350"/>
<rect x="810.00" y="150.0" width="1" height="19.0" fill="#26a69a"/>
<rect x="809.20" y="151.5" width="2.6" height="13.0" fill="#26a69a"/>
<rect x="813.00" y="119.5" width="1" height="43.0" fill="#26a69a"/>
<rect x="812.20" y="122.5" width="2.6" height="29.0" fill="#26a69a"/>
<rect x="816.00" y="112.0" width="1" height="67.0" fill="#ef5350"/>
<rect x="815.20" y="122.5" width="2.6" height="45.5" fill="#ef5350"/>
<rect x="819.00" y="160.0" width="1" height="22.0" fill="#ef5350"/>
<rect x="818.20" y="168.0" width="2.6" height="9.0" fill="#ef5350"/>
<rect x="822.00" y="172.0" width="1" height="7.0" fill="#26a69a"/>
<rect x="821.20" y="176.5" width="2.6" height="1.0" fill="#26a69a"/>
<rect x="825.00" y="166.5" width="1" height="12.0" fill="#26a69a"/>
<rect x="824.20" y="176.5" width="2.6" height="1.0" fill="#26a69a"/>
<rect x="828.00" y="175.5" width="1" height="24.0" fill="#ef5350"/>
<rect x="827.20" y="176.5" width="2.6" height="11.0" fill="#ef5350"/>
<rect x="831.00" y="183.0" width="1" height="36.5" fill="#ef5350"/>
<rect x="830.20" y="187.5" width="2.6" height="30.5" fill="#ef5350"/>
<rect x="834.00" y="201.5" width="1" height="20.5" fill="#26a69a"/>
<rect x="833.20" y="205.5" width="2.6" height="12.5" fill="#26a69a"/>
<rect x="837.00" y="204.0" width="1" height="22.0" fill="#ef5350"/>
<rect x="836.20" y="205.5" width="2.6" height="16.0" fill="#ef5350"/>
<rect x="840.00" y="176.5" width="1" height="51.5" fill="#26a69a"/>
<rect x="839.20" y="181.0" width="2.6" height="40.5" fill="#26a69a"/>
<rect x="843.00" y="180.0" width="1" height="22.5" fill="#ef5350"/>
<rect x="842.20" y="181.0" width="2.6" height="14.0" fill="#ef5350"/>
<rect x="847.00" y="193.0" width="1" height="30.0" fill="#ef5350"/>
<rect x="846.20" y="195.0" width="2.6" height="17.0" fill="#ef5350"/>
<rect x="850.00" y="211.0" width="1" height="39.5" fill="#ef5350"/>
<rect x="849.20" y="212.0" width="2.6" height="31.0" fill="#ef5350"/>
<rect x="853.00" y="222.5" width="1" height="33.5" fill="#26a69a"/>
<rect x="852.20" y="228.0" width="2.6" height="15.0" fill="#26a69a"/>
<rect x="856.00" y="220.5" width="1" height="19.0" fill="#ef5350"/>
<rect x="855.20" y="228.0" width="2.6" height="4.5" fill="#ef5350"/>
<rect x="859.00" y="212.5" width="1" height="23.5" fill="#26a69a"/>
<rect x="858.20" y="221.0" width="2.6" height="11.5" fill="#26a69a"/>
<rect x="862.00" y="220.0" width="1" height="47.0" fill="#ef5350"/>
<rect x="861.20" y="221.0" width="2.6" height="38.0" fill="#ef5350"/>
<rect x="865.00" y="254.0" width="1" height="14.0" fill="#26a69a"/>
<rect x="864.20" y="255.0" width="2.6" height="4.0" fill="#26a69a"/>
<rect x="868.00" y="249.0" width="1" height="12.5" fill="#ef5350"/>
<rect x="867.20" y="255.0" width="2.6" height="5.0" fill="#ef5350"/>
<rect x="871.00" y="245.0" width="1" height="24.5" fill="#26a69a"/>
<rect x="870.20" y="251.0" width="2.6" height="9.0" fill="#26a69a"/>
<rect x="874.00" y="229.5" width="1" height="29.5" fill="#26a69a"/>
<rect x="873.20" y="232.5" width="2.6" height="18.5" fill="#26a69a"/>
<rect x="877.00" y="221.5" width="1" height="17.5" fill="#26a69a"/>
<rect x="876.20" y="228.5" width="2.6" height="4.0" fill="#26a69a"/>
<rect x="880.00" y="225.0" width="1" height="25.0" fill="#ef5350"/>
<rect x="879.20" y="228.5" width="2.6" height="9.0" fill="#ef5350"/>
<rect x="884.00" y="215.0" width="1" height="27.5" fill="#ef5350"/>
<rect x="883.20" y="237.5" width="2.6" height="1.0" fill="#ef5350"/>
<rect x="887.00" y="232.5" width="1" height="12.0" fill="#ef5350"/>
<rect x="886.20" y="237.5" width="2.6" height="5.0" fill="#ef5350"/>
<rect x="890.00" y="230.5" width="1" height="12.5" fill="#26a69a"/>
<rect x="889.20" y="233.5" width="2.6" height="9.0" fill="#26a69a"/>
<rect x="893.00" y="218.0" width="1" height="18.0" fill="#26a69a"/>
<rect x="892.20" y="225.5" width="2.6" height="8.0" fill="#26a69a"/>
<rect x="896.00" y="214.0" width="1" height="23.5" fill="#ef5350"/>
<rect x="895.20" y="225.5" width="2.6" height="4.5" fill="#ef5350"/>
<rect x="899.00" y="205.0" width="1" height="31.0" fill="#26a69a"/>
<rect x="898.20" y="208.0" width="2.6" height="22.0" fill="#26a69a"/>
<rect x="902.00" y="194.0" width="1" height="19.0" fill="#26a69a"/>
<rect x="901.20" y="194.0" width="2.6" height="14.0" fill="#26a69a"/>
<rect x="905.00" y="183.5" width="1" height="17.0" fill="#26a69a"/>
<rect x="904.20" y="189.0" width="2.6" height="5.0" fill="#26a69a"/>
<rect x="908.00" y="186.5" width="1" height="8.5" fill="#ef5350"/>
<rect x="907.20" y="189.0" width="2.6" height="1.0" fill="#ef5350"/>
<rect x="911.00" y="188.5" width="1" height="9.0" fill="#ef5350"/>
<rect x="910.20" y="189.5" width="2.6" height="6.0" fill="#ef5350"/>
<rect x="914.00" y="183.0" width="1" height="21.0" fill="#26a69a"/>
<rect x="913.20" y="195.0" width="2.6" height="1.0" fill="#26a69a"/>
<rect x="917.00" y="181.0" width="1" height="19.5" fill="#26a69a"/>
<rect x="916.20" y="182.0" width="2.6" height="13.0" fill="#26a69a"/>
<rect x="920.00" y="177.5" width="1" height="23.0" fill="#ef5350"/>
<rect x="919.20" y="182.0" width="2.6" height="3.0" fill="#ef5350"/>
<rect x="924.00" y="172.0" width="1" height="15.5" fill="#26a69a"/>
<rect x="923.20" y="179.5" width="2.6" height="5.5" fill="#26a69a"/>
<rect x="927.00" y="177.5" width="1" height="17.5" fill="#ef5350"/>
<rect x="926.20" y="179.5" width="2.6" height="13.5" fill="#ef5350"/>
<rect x="930.00" y="188.5" width="1" height="6.5" fill="#26a69a"/>
<rect x="929.20" y="192.0" width="2.6" height="1.0" fill="#26a69a"/>
<rect x="933.00" y="191.0" width="1" height="6.0" fill="#ef5350"/>
<rect x="932.20" y="192.0" width="2.6" height="4.0" fill="#ef5350"/>
<rect x="936.00" y="195.0" width="1" height="32.5" fill="#ef5350"/>
<rect x="935.20" y="196.0" width="2.6" height="24.0" fill="#ef5350"/>
<rect x="939.00" y="214.5" width="1" height="16.5" fill="#ef5350"/>
<rect x="938.20" y="220.0" width="2.6" height="6.0" fill="#ef5350"/>
<rect x="942.00" y="208.0" width="1" height="26.0" fill="#26a69a"/>
<rect x="941.20" y="214.0" width="2.6" height="12.0" fill="#26a69a"/>
<rect x="945.00" y="212.5" width="1" height="44.5" fill="#ef5350"/>
<rect x="944.20" y="214.0" width="2.6" height="39.5" fill="#ef5350"/>
<rect x="948.00" y="242.0" width="1" height="15.0" fill="#26a69a"/>
<rect x="947.20" y="247.5" width="2.6" height="6.0" fill="#26a69a"/>
<rect x="951.00" y="246.5" width="1" height="6.0" fill="#26a69a"/>
<rect x="950.20" y="247.5" width="2.6" height="1.0" fill="#26a69a"/>
<rect x="954.00" y="223.0" width="1" height="29.0" fill="#26a69a"/>
<rect x="953.20" y="224.5" width="2.6" height="23.0" fill="#26a69a"/>
<rect x="957.00" y="204.0" width="1" height="26.0" fill="#26a69a"/>
<rect x="956.20" y="205.0" width="2.6" height="19.5" fill="#26a69a"/>
<rect x="961.00" y="200.0" width="1" height="20.0" fill="#ef5350"/>
<rect x="960.20" y="205.0" width="2.6" height="2.0" fill="#ef5350"/>
<rect x="964.00" y="165.0" width="1" height="43.5" fill="#26a69a"/>
<rect x="963.20" y="165.5" width="2.6" height="41.5" fill="#26a69a"/>
<rect x="967.00" y="143.5" width="1" height="24.5" fill="#26a69a"/>
<rect x="966.20" y="147.5" width="2.6" height="18.0" fill="#26a69a"/>
<rect x="970.00" y="118.0" width="1" height="41.5" fill="#26a69a"/>
<rect x="969.20" y="132.0" width="2.6" height="15.5" fill="#26a69a"/>
<rect x="973.00" y="126.5" width="1" height="12.0" fill="#26a69a"/>
<rect x="972.20" y="130.5" width="2.6" height="1.5" fill="#26a69a"/>
<rect x="976.00" y="100.0" width="1" height="32.5" fill="#26a69a"/>
<rect x="975.20" y="120.5" width="2.6" height="10.0" fill="#26a69a"/>
<rect x="979.00" y="96.0" width="1" height="28.5" fill="#26a69a"/>
<rect x="978.20" y="109.5" width="2.6" height="11.0" fill="#26a69a"/>
<rect x="982.00" y="105.5" width="1" height="42.5" fill="#ef5350"/>
<rect x="981.20" y="109.5" width="2.6" height="31.0" fill="#ef5350"/>
<rect x="985.00" y="115.0" width="1" height="28.0" fill="#26a69a"/>
<rect x="984.20" y="122.5" width="2.6" height="18.0" fill="#26a69a"/>
<rect x="988.00" y="118.5" width="1" height="37.5" fill="#ef5350"/>
<rect x="987.20" y="122.5" width="2.6" height="15.0" fill="#ef5350"/>
<rect x="991.00" y="130.0" width="1" height="187.5" fill="#ef5350"/>
<rect x="990.20" y="137.5" width="2.6" height="81.5" fill="#ef5350"/>
<rect x="994.00" y="214.5" width="1" height="34.0" fill="#ef5350"/>
<rect x="993.20" y="219.0" width="2.6" height="19.0" fill="#ef5350"/>
<rect x="998.00" y="190.0" width="1" height="58.5" fill="#26a69a"/>
<rect x="997.20" y="198.5" width="2.6" height="39.5" fill="#26a69a"/>
<rect x="1001.00" y="190.0" width="1" height="21.0" fill="#26a69a"/>
<rect x="1000.20" y="196.0" width="2.6" height="2.5" fill="#26a69a"/>
<rect x="1004.00" y="194.0" width="1" height="51.0" fill="#ef5350"/>
<rect x="1003.20" y="196.0" width="2.6" height="20.0" fill="#ef5350"/>
<rect x="1007.00" y="211.0" width="1" height="31.5" fill="#ef5350"/>
<rect x="1006.20" y="216.0" width="2.6" height="21.5" fill="#ef5350"/>
<rect x="1010.00" y="226.5" width="1" height="41.0" fill="#ef5350"/>
<rect x="1009.20" y="237.5" width="2.6" height="23.0" fill="#ef5350"/>
<rect x="1013.00" y="251.0" width="1" height="51.5" fill="#ef5350"/>
<rect x="1012.20" y="260.5" width="2.6" height="16.0" fill="#ef5350"/>
<rect x="1016.00" y="267.0" width="1" height="10.5" fill="#26a69a"/>
<rect x="1015.20" y="269.5" width="2.6" height="7.0" fill="#26a69a"/>
<rect x="1019.00" y="249.5" width="1" height="30.0" fill="#26a69a"/>
<rect x="1018.20" y="256.5" width="2.6" height="13.0" fill="#26a69a"/>
<rect x="1022.00" y="229.0" width="1" height="39.5" fill="#26a69a"/>
<rect x="1021.20" y="239.0" width="2.6" height="17.5" fill="#26a69a"/>
<rect x="1025.00" y="208.0" width="1" height="59.5" fill="#ef5350"/>
<rect x="1024.20" y="239.0" width="2.6" height="20.5" fill="#ef5350"/>
<rect x="1028.00" y="252.0" width="1" height="23.0" fill="#ef5350"/>
<rect x="1027.20" y="259.5" width="2.6" height="7.0" fill="#ef5350"/>
<rect x="1031.00" y="232.5" width="1" height="36.0" fill="#26a69a"/>
<rect x="1030.20" y="243.5" width="2.6" height="23.0" fill="#26a69a"/>
<rect x="1035.00" y="225.5" width="1" height="21.0" fill="#26a69a"/>
<rect x="1034.20" y="235.0" width="2.6" height="8.5" fill="#26a69a"/>
<rect x="1038.00" y="226.5" width="1" height="11.0" fill="#26a69a"/>
<rect x="1037.20" y="229.0" width="2.6" height="6.0" fill="#26a69a"/>
<rect x="1041.00" y="194.0" width="1" height="38.5" fill="#26a69a"/>
<rect x="1040.20" y="202.5" width="2.6" height="26.5" fill="#26a69a"/>
<rect x="1044.00" y="185.5" width="1" height="23.5" fill="#ef5350"/>
<rect x="1043.20" y="202.5" width="2.6" height="4.0" fill="#ef5350"/>
<rect x="1047.00" y="188.5" width="1" height="35.5" fill="#ef5350"/>
<rect x="1046.20" y="206.5" width="2.6" height="11.0" fill="#ef5350"/>
<rect x="1050.00" y="211.0" width="1" height="41.0" fill="#ef5350"/>
<rect x="1049.20" y="217.5" width="2.6" height="26.5" fill="#ef5350"/>
<rect x="1053.00" y="230.0" width="1" height="48.0" fill="#ef5350"/>
<rect x="1052.20" y="244.0" width="2.6" height="15.5" fill="#ef5350"/>
<rect x="1056.00" y="233.0" width="1" height="27.0" fill="#26a69a"/>
<rect x="1055.20" y="248.0" width="2.6" height="11.5" fill="#26a69a"/>
<rect x="1059.00" y="238.5" width="1" height="11.0" fill="#26a69a"/>
<rect x="1058.20" y="243.0" width="2.6" height="5.0" fill="#26a69a"/>
<rect x="1062.00" y="233.0" width="1" height="15.0" fill="#26a69a"/>
<rect x="1061.20" y="239.0" width="2.6" height="4.0" fill="#26a69a"/>
<rect x="1065.00" y="237.5" width="1" height="49.5" fill="#ef5350"/>
<rect x="1064.20" y="239.0" width="2.6" height="36.5" fill="#ef5350"/>
<rect x="1068.00" y="269.5" width="1" height="76.0" fill="#ef5350"/>
<rect x="1067.20" y="275.5" width="2.6" height="46.5" fill="#ef5350"/>
<rect x="1072.00" y="295.0" width="1" height="50.0" fill="#26a69a"/>
<rect x="1071.20" y="300.0" width="2.6" height="22.0" fill="#26a69a"/>
<rect x="1075.00" y="297.0" width="1" height="36.5" fill="#ef5350"/>
<rect x="1074.20" y="300.0" width="2.6" height="23.5" fill="#ef5350"/>
<rect x="1078.00" y="299.0" width="1" height="44.0" fill="#26a69a"/>
<rect x="1077.20" y="305.0" width="2.6" height="18.5" fill="#26a69a"/>
<rect x="1081.00" y="304.5" width="1" height="17.5" fill="#ef5350"/>
<rect x="1080.20" y="305.0" width="2.6" height="9.5" fill="#ef5350"/>
<rect x="1084.00" y="285.5" width="1" height="38.0" fill="#26a69a"/>
<rect x="1083.20" y="292.5" width="2.6" height="22.0" fill="#26a69a"/>
<rect x="1087.00" y="275.0" width="1" height="21.5" fill="#26a69a"/>
<rect x="1086.20" y="280.5" width="2.6" height="12.0" fill="#26a69a"/>
<rect x="1090.00" y="267.5" width="1" height="45.0" fill="#ef5350"/>
<rect x="1089.20" y="280.5" width="2.6" height="27.0" fill="#ef5350"/>
<rect x="1093.00" y="287.0" width="1" height="41.5" fill="#ef5350"/>
<rect x="1092.20" y="307.5" width="2.6" height="13.0" fill="#ef5350"/>
<rect x="1096.00" y="298.0" width="1" height="56.5" fill="#ef5350"/>
<rect x="1095.20" y="320.5" width="2.6" height="18.0" fill="#ef5350"/>
<rect x="1099.00" y="336.5" width="1" height="54.0" fill="#ef5350"/>
<rect x="1098.20" y="338.5" width="2.6" height="46.5" fill="#ef5350"/>
<rect x="1102.00" y="364.5" width="1" height="22.0" fill="#26a69a"/>
<rect x="1101.20" y="376.0" width="2.6" height="9.0" fill="#26a69a"/>
<rect x="1105.00" y="366.5" width="1" height="33.0" fill="#ef5350"/>
<rect x="1104.20" y="376.0" width="2.6" height="12.5" fill="#ef5350"/>
<rect x="1109.00" y="372.0" width="1" height="44.0" fill="#ef5350"/>
<rect x="1108.20" y="388.5" width="2.6" height="18.5" fill="#ef5350"/>
<rect x="1112.00" y="392.5" width="1" height="42.0" fill="#26a69a"/>
<rect x="1111.20" y="400.0" width="2.6" height="7.0" fill="#26a69a"/>
<rect x="1115.00" y="400.0" width="1" height="40.0" fill="#ef5350"/>
<rect x="1114.20" y="400.0" width="2.6" height="13.0" fill="#ef5350"/>
<rect x="1118.00" y="398.0" width="1" height="65.5" fill="#ef5350"/>
<rect x="1117.20" y="413.0" width="2.6" height="45.0" fill="#ef5350"/>
<rect x="1121.00" y="451.0" width="1" height="62.0" fill="#ef5350"/>
<rect x="1120.20" y="458.0" width="2.6" height="14.0" fill="#ef5350"/>
<rect x="1124.00" y="467.5" width="1" height="19.0" fill="#ef5350"/>
<rect x="1123.20" y="472.0" width="2.6" height="3.0" fill="#ef5350"/>
<rect x="1127.00" y="444.5" width="1" height="31.0" fill="#26a69a"/>
<rect x="1126.20" y="456.5" width="2.6" height="18.5" fill="#26a69a"/>
<rect x="1130.00" y="435.0" width="1" height="35.0" fill="#26a69a"/>
<rect x="1129.20" y="442.5" width="2.6" height="14.0" fill="#26a69a"/>
<rect x="1133.00" y="441.0" width="1" height="21.0" fill="#ef5350"/>
<rect x="1132.20" y="442.5" width="2.6" height="9.0" fill="#ef5350"/>
<rect x="1136.00" y="421.0" width="1" height="40.0" fill="#26a69a"/>
<rect x="1135.20" y="422.5" width="2.6" height="29.0" fill="#26a69a"/>
<rect x="1139.00" y="409.5" width="1" height="16.5" fill="#26a69a"/>
<rect x="1138.20" y="415.0" width="2.6" height="7.5" fill="#26a69a"/>
<rect x="1142.00" y="399.0" width="1" height="26.5" fill="#ef5350"/>
<rect x="1141.20" y="415.0" width="2.6" height="4.0" fill="#ef5350"/>
<rect x="1146.00" y="417.0" width="1" height="8.5" fill="#ef5350"/>
<rect x="1145.20" y="419.0" width="2.6" height="1.0" fill="#ef5350"/>
<rect x="1149.00" y="409.0" width="1" height="16.0" fill="#ef5350"/>
<rect x="1148.20" y="419.5" width="2.6" height="4.0" fill="#ef5350"/>
<rect x="1152.00" y="423.5" width="1" height="60.0" fill="#ef5350"/>
<rect x="1151.20" y="423.5" width="2.6" height="37.5" fill="#ef5350"/>
<rect x="1155.00" y="406.0" width="1" height="56.0" fill="#26a69a"/>
<rect x="1154.20" y="415.0" width="2.6" height="46.0" fill="#26a69a"/>
<rect x="1158.00" y="390.0" width="1" height="28.0" fill="#26a69a"/>
<rect x="1157.20" y="395.5" width="2.6" height="19.5" fill="#26a69a"/>
<rect x="1161.00" y="390.0" width="1" height="28.5" fill="#ef5350"/>
<rect x="1160.20" y="395.5" width="2.6" height="12.5" fill="#ef5350"/>
<rect x="1164.00" y="403.0" width="1" height="41.5" fill="#ef5350"/>
<rect x="1163.20" y="408.0" width="2.6" height="25.5" fill="#ef5350"/>
<rect x="1167.00" y="425.0" width="1" height="12.0" fill="#ef5350"/>
<rect x="1166.20" y="433.5" width="2.6" height="1.0" fill="#ef5350"/>
<rect x="1170.00" y="411.5" width="1" height="36.5" fill="#26a69a"/>
<rect x="1169.20" y="423.5" width="2.6" height="10.5" fill="#26a69a"/>
<rect x="1173.00" y="407.0" width="1" height="24.0" fill="#26a69a"/>
<rect x="1172.20" y="421.0" width="2.6" height="2.5" fill="#26a69a"/>
<rect x="1176.00" y="386.0" width="1" height="45.5" fill="#26a69a"/>
<rect x="1175.20" y="402.5" width="2.6" height="18.5" fill="#26a69a"/>
<rect x="1179.00" y="386.5" width="1" height="26.5" fill="#ef5350"/>
<rect x="1178.20" y="402.5" width="2.6" height="6.0" fill="#ef5350"/>
<rect x="1183.00" y="396.0" width="1" height="37.5" fill="#26a69a"/>
<rect x="1182.20" y="404.0" width="2.6" height="4.5" fill="#26a69a"/>
<rect x="1186.00" y="403.0" width="1" height="28.0" fill="#ef5350"/>
<rect x="1185.20" y="404.0" width="2.6" height="20.5" fill="#ef5350"/>
<rect x="1189.00" y="422.5" width="1" height="7.0" fill="#ef5350"/>
<rect x="1188.20" y="424.5" width="2.6" height="1.0" fill="#ef5350"/>
<rect x="1192.00" y="424.0" width="1" height="26.0" fill="#ef5350"/>
<rect x="1191.20" y="425.0" width="2.6" height="18.5" fill="#ef5350"/>
<rect x="1195.00" y="427.0" width="1" height="45.0" fill="#ef5350"/>
<rect x="1194.20" y="443.5" width="2.6" height="16.5" fill="#ef5350"/>
<rect x="1198.00" y="444.5" width="1" height="25.5" fill="#26a69a"/>
<rect x="1197.20" y="446.5" width="2.6" height="13.5" fill="#26a69a"/>
<rect x="1201.00" y="424.0" width="1" height="46.0" fill="#ef5350"/>
<rect x="1200.20" y="446.5" width="2.6" height="15.5" fill="#ef5350"/>
<rect x="1204.00" y="432.5" width="1" height="45.5" fill="#ef5350"/>
<rect x="1203.20" y="462.0" width="2.6" height="6.0" fill="#ef5350"/>
<rect x="1207.00" y="441.0" width="1" height="31.0" fill="#26a69a"/>
<rect x="1206.20" y="444.0" width="2.6" height="24.0" fill="#26a69a"/>
<line x1="978" y1="96" x2="1311.6" y2="581.7" stroke="#000" stroke-width="3" stroke-dasharray="2.9 5.75" stroke-dashoffset="-3"/>
<line x1="795" y1="204.2" x2="1236" y2="617.7" stroke="#000" stroke-width="3" stroke-dasharray="2.9 5.75"/>
<rect x="799.5" y="277.5" width="1.6" height="1" fill="#ff2020"/>
<rect x="815.6" y="282.2" width="1.6" height="1" fill="#ff2020"/>
<rect x="809.9000000000001" y="338.7" width="1.6" height="1" fill="#ff2020"/>
<polyline points="14.6,634.3 17.7,631.7 20.8,629.0 23.8,626.4 26.9,623.8 30.0,621.3 33.1,618.8 36.2,616.1 39.3,613.6 42.3,610.9 45.4,608.2 48.5,605.4 51.6,602.9 54.7,600.6 57.8,597.8 60.8,595.2 63.9,592.5 67.0,589.8 70.1,586.9 73.2,583.9 76.3,580.8 79.3,578.4 82.4,576.2 85.5,574.0 88.6,571.9 91.7,570.0 94.8,568.1 97.8,565.9 100.9,563.7 104.0,561.8 107.1,560.1 110.2,558.3 113.3,556.7 116.3,555.1 119.4,553.5 122.5,551.9 125.6,550.0 128.7,548.0 131.7,546.1 134.8,544.1 137.9,541.8 141.0,540.1 144.1,538.5 147.2,537.2 150.2,535.6 153.3,534.1 156.4,532.7 159.5,531.2 162.6,529.6 165.7,527.6 168.7,525.7 171.8,523.4 174.9,521.2 178.0,519.2 181.1,517.2 184.2,514.8 187.2,512.7 190.3,510.6 193.4,508.4 196.5,506.2 199.6,504.3 202.7,502.4 205.7,500.7 208.8,498.7 211.9,496.6 215.0,494.8 218.1,493.2 221.2,491.8 224.2,490.1 227.3,488.8 230.4,487.6 233.5,486.4 236.6,485.2 239.7,484.0 242.7,482.9 245.8,481.7 248.9,480.6 252.0,479.3 255.1,478.2 258.2,477.0 261.2,475.9 264.3,474.8 267.4,473.8 270.5,472.8 273.6,471.8 276.6,470.6 279.7,469.6 282.8,468.6 285.9,467.6 289.0,467.0 292.1,466.8 295.1,466.9 298.2,467.0 301.3,467.1 304.4,467.1 307.5,466.3 310.6,466.2 313.6,466.1 316.7,465.7 319.8,465.3 322.9,465.2 326.0,465.2 329.1,465.6 332.1,466.3 335.2,466.5 338.3,466.7 341.4,467.1 344.5,467.3 347.6,467.4 350.6,467.7 353.7,467.8 356.8,468.1 359.9,467.9 363.0,468.1 366.1,468.2 369.1,468.3 372.2,468.3 375.3,468.1 378.4,467.9 381.5,467.8 384.6,467.7 387.6,467.8 390.7,468.0 393.8,468.3 396.9,468.6 400.0,468.6 403.1,468.9 406.1,469.1 409.2,469.2 412.3,469.4 415.4,470.0 418.5,470.6 421.6,471.4 424.6,471.6 427.7,472.1 430.8,472.3 433.9,472.3 437.0,472.4 440.0,472.4 443.1,472.6 446.2,472.6 449.3,472.6 452.4,472.7 455.5,472.7 458.5,472.7 461.6,472.4 464.7,471.7 467.8,470.9 470.9,470.1 474.0,469.2 477.0,468.4 480.1,467.7 483.2,466.8 486.3,466.0 489.4,465.2 492.5,464.3 495.5,463.3 498.6,462.4 501.7,461.7 504.8,460.9 507.9,459.9 511.0,459.0 514.0,457.4 517.1,456.0 520.2,454.3 523.3,452.8 526.4,451.4 529.5,449.8 532.5,448.4 535.6,446.9 538.7,445.5 541.8,444.1 544.9,442.4 548.0,440.9 551.0,439.2 554.1,437.3 557.2,435.2 560.3,433.6 563.4,431.9 566.5,430.1 569.5,428.3 572.6,426.6 575.7,425.0 578.8,423.6 581.9,422.3 585.0,421.0 588.0,419.7 591.1,418.3 594.2,417.0 597.3,415.8 600.4,414.8 603.4,413.6 606.5,412.4 609.6,411.1 612.7,409.4 615.8,407.7 618.9,406.2 621.9,405.0 625.0,403.8 628.1,402.6 631.2,401.4 634.3,400.1 637.4,399.1 640.4,398.0 643.5,397.0 646.6,396.1 649.7,395.3 652.8,394.6 655.9,393.5 658.9,392.4 662.0,391.2 665.1,390.0 668.2,388.8 671.3,387.6 674.4,386.3 677.4,385.2 680.5,384.2 683.6,382.9 686.7,381.5 689.8,380.3 692.9,379.1 695.9,377.9 699.0,376.7 702.1,375.5 705.2,374.1 708.3,372.2 711.4,370.3 714.4,368.3 717.5,366.3 720.6,364.2 723.7,362.3 726.8,360.3 729.9,358.3 732.9,356.4 736.0,354.6 739.1,352.9 742.2,351.1 745.3,349.1 748.3,347.3 751.4,345.5 754.5,343.8 757.6,342.1 760.7,340.3 763.8,338.6 766.8,336.9 769.9,335.3 773.0,333.8 776.1,332.7 779.2,331.5 782.3,330.3 785.3,329.0 788.4,327.7 791.5,326.5 794.6,325.0 797.7,323.5 800.8,322.2 803.8,320.5 806.9,319.0 810.0,317.3 813.1,315.4 816.2,313.9 819.3,312.6 822.3,311.2 825.4,309.9 828.5,308.6 831.6,307.7 834.7,306.7 837.8,305.9 840.8,304.6 843.9,303.5 847.0,302.6 850.1,302.0 853.2,301.3 856.3,300.6 859.3,299.8 862.4,299.4 865.5,299.0 868.6,298.6 871.7,298.1 874.8,297.5 877.8,296.8 880.9,296.2 884.0,295.6 887.1,295.1 890.2,294.5 893.2,293.8 896.3,293.1 899.4,292.3 902.5,291.3 905.6,290.3 908.7,289.3 911.7,288.4 914.8,287.4 917.9,286.4 921.0,285.4 924.1,284.3 927.2,283.4 930.2,282.5 933.3,281.6 936.4,281.0 939.5,280.5 942.6,279.8 945.7,279.6 948.7,279.2 951.8,278.9 954.9,278.4 958.0,277.6 961.1,276.9 964.2,275.8 967.2,274.6 970.3,273.1 973.4,271.7 976.5,270.2 979.6,268.6 982.7,267.4 985.7,265.9 988.8,264.6 991.9,264.2 995.0,263.9 998.1,263.3 1001.2,262.6 1004.2,262.1 1007.3,261.9 1010.4,261.9 1013.5,262.0 1016.6,262.1 1019.7,262.0 1022.7,261.8 1025.8,261.8 1028.9,261.8 1032.0,261.7 1035.1,261.4 1038.2,261.1 1041.2,260.5 1044.3,260.0 1047.4,259.5 1050.5,259.4 1053.6,259.4 1056.6,259.3 1059.7,259.1 1062.8,258.9 1065.9,259.1 1069.0,259.7 1072.1,260.1 1075.1,260.7 1078.2,261.2 1081.3,261.7 1084.4,262.0 1087.5,262.2 1090.6,262.7 1093.6,263.2 1096.7,264.0 1099.8,265.2 1102.9,266.3 1106.0,267.5 1109.1,268.9 1112.1,270.2 1115.2,271.6 1118.3,273.5 1121.4,275.4 1124.5,277.4 1127.6,279.2 1130.6,280.8 1133.7,282.5 1136.8,283.9 1139.9,285.2 1143.0,286.6 1146.1,287.9 1149.1,289.2 1152.2,290.9 1155.3,292.2 1158.4,293.2 1161.5,294.3 1164.6,295.7 1167.6,297.1 1170.7,298.4 1173.8,299.6 1176.9,300.6 1180.0,301.7 1183.1,302.7 1186.1,303.9 1189.2,305.1 1192.3,306.5 1195.4,308.0 1198.5,309.4 1201.5,310.9 1204.6,312.5 1207.7,313.8" fill="none" stroke="#9c27b0" stroke-width="2.9" stroke-linejoin="round" stroke-linecap="round"/>
<polyline points="14.6,578.4 17.7,574.3 20.8,570.1 23.8,566.1 26.9,562.0 30.0,558.3 33.1,554.6 36.2,550.6 39.3,546.9 42.3,542.7 45.4,538.7 48.5,534.5 51.6,531.0 54.7,527.8 57.8,523.8 60.8,520.1 63.9,516.1 67.0,512.3 70.1,508.0 73.2,503.5 76.3,499.1 79.3,495.8 82.4,493.1 85.5,490.4 88.6,487.9 91.7,485.7 94.8,483.7 97.8,481.0 100.9,478.2 104.0,476.2 107.1,474.4 110.2,472.5 113.3,471.0 116.3,469.6 119.4,468.2 122.5,466.5 125.6,464.5 128.7,462.3 131.7,460.1 134.8,457.9 137.9,455.1 141.0,453.3 144.1,451.9 147.2,450.9 150.2,449.6 153.3,448.3 156.4,447.1 159.5,445.9 162.6,444.3 165.7,442.1 168.7,440.0 171.8,437.2 174.9,434.4 178.0,432.2 181.1,429.9 184.2,426.9 187.2,424.4 190.3,421.9 193.4,419.4 196.5,416.8 199.6,414.8 202.7,412.8 205.7,411.1 208.8,408.9 211.9,406.6 215.0,404.8 218.1,403.3 221.2,402.3 224.2,400.8 227.3,399.9 230.4,399.2 233.5,398.6 236.6,398.0 239.7,397.4 242.7,396.8 245.8,396.1 248.9,395.6 252.0,394.8 255.1,394.3 258.2,393.6 261.2,392.9 264.3,392.5 267.4,392.1 270.5,391.8 273.6,391.3 276.6,390.5 279.7,390.1 282.8,389.6 285.9,389.3 289.0,389.7 292.1,390.7 295.1,392.5 298.2,394.1 301.3,395.8 304.4,397.2 307.5,397.0 310.6,398.2 313.6,399.3 316.7,399.7 319.8,400.3 322.9,401.4 326.0,402.6 329.1,404.8 332.1,407.3 335.2,409.0 338.3,410.5 341.4,412.4 344.5,413.8 347.6,415.1 350.6,416.6 353.7,417.9 356.8,419.4 359.9,420.2 363.0,421.3 366.1,422.5 369.1,423.7 372.2,424.5 375.3,425.0 378.4,425.5 381.5,426.1 384.6,426.6 387.6,427.7 390.7,429.0 393.8,430.3 396.9,431.6 400.0,432.4 403.1,433.7 406.1,434.8 409.2,435.7 412.3,436.7 415.4,438.6 418.5,440.4 421.6,442.6 424.6,443.6 427.7,445.2 430.8,446.0 433.9,446.5 437.0,447.2 440.0,447.8 443.1,448.5 446.2,449.2 449.3,449.7 452.4,450.2 455.5,450.7 458.5,451.1 461.6,451.0 464.7,449.9 467.8,448.8 470.9,447.7 474.0,446.4 477.0,445.2 480.1,444.1 483.2,442.9 486.3,441.8 489.4,440.8 492.5,439.3 495.5,437.8 498.6,436.6 501.7,435.6 504.8,434.6 507.9,433.2 511.0,431.8 514.0,429.3 517.1,426.9 520.2,424.3 523.3,421.8 526.4,419.6 529.5,417.2 532.5,414.9 535.6,412.7 538.7,410.5 541.8,408.5 544.9,405.8 548.0,403.5 551.0,400.9 554.1,397.8 557.2,394.5 560.3,392.0 563.4,389.5 566.5,386.8 569.5,384.0 572.6,381.5 575.7,379.1 578.8,377.3 581.9,375.7 585.0,374.1 588.0,372.3 591.1,370.5 594.2,368.9 597.3,367.3 600.4,366.4 603.4,365.1 606.5,363.5 609.6,361.9 612.7,359.5 615.8,357.2 618.9,355.2 621.9,353.8 625.0,352.3 628.1,351.0 631.2,349.7 634.3,348.2 637.4,347.1 640.4,346.0 643.5,345.0 646.6,344.2 649.7,343.6 652.8,343.3 655.9,342.2 658.9,340.9 662.0,339.5 665.1,338.2 668.2,336.9 671.3,335.5 674.4,334.0 677.4,332.7 680.5,331.8 683.6,330.2 686.7,328.6 689.8,327.3 692.9,326.0 695.9,324.5 699.0,323.2 702.1,321.8 705.2,320.1 708.3,317.5 711.4,314.7 714.4,311.9 717.5,308.9 720.6,305.9 723.7,303.3 726.8,300.5 729.9,297.7 732.9,295.2 736.0,292.8 739.1,290.5 742.2,288.3 745.3,285.6 748.3,283.2 751.4,280.9 754.5,278.8 757.6,276.7 760.7,274.3 763.8,272.3 766.8,270.3 769.9,268.3 773.0,266.8 776.1,265.8 779.2,264.9 782.3,263.7 785.3,262.4 788.4,261.3 791.5,260.1 794.6,258.4 797.7,256.9 800.8,255.5 803.8,253.6 806.9,251.8 810.0,249.8 813.1,247.3 816.2,245.7 819.3,244.4 822.3,243.0 825.4,241.7 828.5,240.6 831.6,240.2 834.7,239.5 837.8,239.1 840.8,238.0 843.9,237.1 847.0,236.6 850.1,236.7 853.2,236.6 856.3,236.5 859.3,236.2 862.4,236.6 865.5,237.0 868.6,237.5 871.7,237.7 874.8,237.6 877.8,237.5 880.9,237.4 884.0,237.5 887.1,237.5 890.2,237.5 893.2,237.2 896.3,237.1 899.4,236.5 902.5,235.7 905.6,234.7 908.7,233.8 911.7,233.1 914.8,232.3 917.9,231.3 921.0,230.4 924.1,229.4 927.2,228.7 930.2,228.0 933.3,227.3 936.4,227.2 939.5,227.2 942.6,226.9 945.7,227.4 948.7,227.8 951.8,228.2 954.9,228.1 958.0,227.7 961.1,227.3 964.2,226.0 967.2,224.5 970.3,222.7 973.4,220.8 976.5,218.9 979.6,216.7 982.7,215.2 985.7,213.4 988.8,211.9 991.9,212.0 995.0,212.5 998.1,212.2 1001.2,211.9 1004.2,212.0 1007.3,212.5 1010.4,213.4 1013.5,214.7 1016.6,215.8 1019.7,216.6 1022.7,217.0 1025.8,217.9 1028.9,218.8 1032.0,219.3 1035.1,219.6 1038.2,219.8 1041.2,219.5 1044.3,219.2 1047.4,219.2 1050.5,219.7 1053.6,220.5 1056.6,221.0 1059.7,221.5 1062.8,221.8 1065.9,222.9 1069.0,224.8 1072.1,226.3 1075.1,228.3 1078.2,229.8 1081.3,231.5 1084.4,232.7 1087.5,233.6 1090.6,235.1 1093.6,236.8 1096.7,238.8 1099.8,241.7 1102.9,244.3 1106.0,247.2 1109.1,250.4 1112.1,253.3 1115.2,256.5 1118.3,260.5 1121.4,264.7 1124.5,268.8 1127.6,272.5 1130.6,275.9 1133.7,279.4 1136.8,282.2 1139.9,284.8 1143.0,287.5 1146.1,290.1 1149.1,292.8 1152.2,296.1 1155.3,298.4 1158.4,300.4 1161.5,302.5 1164.6,305.1 1167.6,307.6 1170.7,309.9 1173.8,312.1 1176.9,313.9 1180.0,315.8 1183.1,317.5 1186.1,319.7 1189.2,321.7 1192.3,324.2 1195.4,326.8 1198.5,329.2 1201.5,331.8 1204.6,334.5 1207.7,336.7" fill="none" stroke="#2962ff" stroke-width="2.9" stroke-linejoin="round" stroke-linecap="round"/>
<polyline points="14.6,513.7 17.7,508.3 20.8,502.4 23.8,497.1 26.9,491.8 30.0,487.2 33.1,482.7 36.2,477.5 39.3,473.0 42.3,467.7 45.4,462.6 48.5,457.3 51.6,453.5 54.7,450.1 57.8,445.2 60.8,440.9 63.9,436.3 67.0,431.9 70.1,426.5 73.2,420.8 76.3,415.3 79.3,412.1 82.4,410.0 85.5,407.9 88.6,406.1 91.7,405.0 94.8,404.2 97.8,402.0 100.9,399.6 104.0,398.6 107.1,398.2 110.2,397.4 113.3,397.3 116.3,397.5 119.4,397.4 122.5,396.9 125.6,395.6 128.7,394.0 131.7,392.3 134.8,390.7 137.9,387.7 141.0,386.8 144.1,386.6 147.2,387.2 150.2,387.1 153.3,387.1 156.4,387.0 159.5,387.0 162.6,386.2 165.7,384.1 168.7,382.2 171.8,378.9 174.9,375.6 178.0,373.6 181.1,371.3 184.2,367.7 187.2,365.1 190.3,362.5 193.4,359.7 196.5,357.1 199.6,355.3 202.7,353.8 205.7,352.6 208.8,350.7 211.9,348.4 215.0,347.0 218.1,346.4 221.2,346.8 224.2,345.9 227.3,346.2 230.4,347.0 233.5,347.8 236.6,348.6 239.7,349.4 242.7,350.1 245.8,350.5 248.9,351.4 252.0,351.6 255.1,352.2 258.2,352.4 261.2,352.6 264.3,353.4 267.4,354.2 270.5,355.0 273.6,355.5 276.6,355.3 279.7,355.9 282.8,356.4 285.9,356.9 289.0,359.1 292.1,362.3 295.1,366.9 298.2,371.2 301.3,375.4 304.4,378.8 307.5,379.2 310.6,382.4 313.6,385.1 316.7,386.6 319.8,388.2 322.9,390.9 326.0,393.6 329.1,398.3 332.1,403.5 335.2,407.0 338.3,410.0 341.4,413.9 344.5,416.5 347.6,419.0 350.6,422.0 353.7,424.3 356.8,427.0 359.9,428.2 363.0,430.2 366.1,432.2 369.1,434.2 372.2,435.3 375.3,435.9 378.4,436.5 381.5,437.2 384.6,437.8 387.6,439.4 390.7,441.6 393.8,443.8 396.9,445.8 400.0,446.8 403.1,448.7 406.1,450.3 409.2,451.6 412.3,452.9 415.4,456.1 418.5,458.8 421.6,462.5 424.6,463.8 427.7,466.1 430.8,466.9 433.9,467.0 437.0,467.7 440.0,468.0 443.1,468.7 446.2,469.2 449.3,469.4 452.4,469.7 455.5,469.8 458.5,469.8 461.6,469.0 464.7,466.2 467.8,463.3 470.9,460.5 474.0,457.5 477.0,454.6 480.1,452.2 483.2,449.4 486.3,447.0 489.4,444.7 492.5,441.7 495.5,438.7 498.6,436.1 501.7,434.3 504.8,432.3 507.9,429.7 511.0,427.0 514.0,422.3 517.1,417.8 520.2,412.9 523.3,408.4 526.4,404.5 529.5,400.3 532.5,396.6 535.6,392.8 538.7,389.3 541.8,386.1 544.9,381.8 548.0,378.0 551.0,373.9 554.1,368.9 557.2,363.4 560.3,359.7 563.4,356.0 566.5,352.0 569.5,347.9 572.6,344.2 575.7,341.1 578.8,338.9 581.9,337.3 585.0,335.6 588.0,333.6 591.1,331.6 594.2,329.8 597.3,328.3 600.4,328.1 603.4,326.8 606.5,325.2 609.6,323.6 612.7,320.3 615.8,317.3 618.9,314.9 621.9,313.7 625.0,312.4 628.1,311.3 631.2,310.3 634.3,308.8 637.4,308.3 640.4,307.6 643.5,307.0 646.6,307.0 649.7,307.3 652.8,308.1 655.9,307.3 658.9,306.2 662.0,304.7 665.1,303.5 668.2,302.2 671.3,300.9 674.4,299.2 677.4,298.1 680.5,297.5 683.6,295.8 686.7,294.0 689.8,292.7 692.9,291.5 695.9,289.9 699.0,288.7 702.1,287.4 705.2,285.2 708.3,281.5 711.4,277.3 714.4,273.3 717.5,268.9 720.6,264.4 723.7,260.9 726.8,257.1 729.9,253.3 732.9,250.1 736.0,247.0 739.1,244.3 742.2,241.7 745.3,238.2 748.3,235.3 751.4,232.6 754.5,230.4 757.6,228.1 760.7,225.3 763.8,223.2 766.8,221.2 769.9,219.2 773.0,218.2 776.1,218.0 779.2,218.1 782.3,217.6 785.3,216.8 788.4,216.4 791.5,215.7 794.6,214.1 797.7,212.9 800.8,211.8 803.8,209.7 806.9,208.0 810.0,205.8 813.1,202.5 816.2,201.1 819.3,200.2 822.3,199.3 825.4,198.4 828.5,197.9 831.6,198.7 834.7,199.0 837.8,199.9 840.8,199.1 843.9,199.0 847.0,199.5 850.1,201.2 853.2,202.2 856.3,203.4 859.3,204.1 862.4,206.3 865.5,208.2 868.6,210.2 871.7,211.8 874.8,212.6 877.8,213.3 880.9,214.2 884.0,215.1 887.1,216.2 890.2,216.9 893.2,217.2 896.3,217.7 899.4,217.3 902.5,216.4 905.6,215.3 908.7,214.3 911.7,213.6 914.8,212.9 917.9,211.7 921.0,210.6 924.1,209.4 927.2,208.8 930.2,208.1 933.3,207.6 936.4,208.1 939.5,208.8 942.6,209.0 945.7,210.7 948.7,212.2 951.8,213.6 954.9,214.0 958.0,213.6 961.1,213.4 964.2,211.5 967.2,209.0 970.3,206.0 973.4,203.0 976.5,199.8 979.6,196.3 982.7,194.1 985.7,191.3 988.8,189.2 991.9,190.3 995.0,192.2 998.1,192.5 1001.2,192.6 1004.2,193.5 1007.3,195.2 1010.4,197.8 1013.5,200.9 1016.6,203.6 1019.7,205.7 1022.7,207.0 1025.8,209.0 1028.9,211.3 1032.0,212.6 1035.1,213.4 1038.2,214.1 1041.2,213.6 1044.3,213.3 1047.4,213.5 1050.5,214.7 1053.6,216.5 1056.6,217.7 1059.7,218.7 1062.8,219.5 1065.9,221.7 1069.0,225.6 1072.1,228.5 1075.1,232.3 1078.2,235.1 1081.3,238.2 1084.4,240.4 1087.5,241.9 1090.6,244.5 1093.6,247.5 1096.7,251.1 1099.8,256.3 1102.9,261.0 1106.0,266.0 1109.1,271.5 1112.1,276.6 1115.2,281.9 1118.3,288.8 1121.4,296.0 1124.5,303.0 1127.6,309.0 1130.6,314.3 1133.7,319.7 1136.8,323.7 1139.9,327.3 1143.0,330.9 1146.1,334.3 1149.1,337.8 1152.2,342.7 1155.3,345.5 1158.4,347.5 1161.5,349.8 1164.6,353.1 1167.6,356.3 1170.7,358.9 1173.8,361.3 1176.9,363.0 1180.0,364.8 1183.1,366.3 1186.1,368.6 1189.2,370.8 1192.3,373.6 1195.4,377.0 1198.5,379.7 1201.5,383.0 1204.6,386.3 1207.7,388.6" fill="none" stroke="#ff2020" stroke-width="2.9" stroke-linejoin="round" stroke-linecap="round"/>
</g>
<text x="26.0" y="66.5" font-size="16" fill="#131722" stroke="#131722" stroke-width="0.2" font-weight="normal" text-anchor="start" textLength="259.0" lengthAdjust="spacing">Bitcoin / TetherUS · 1D · Binance</text>
<text x="296.0" y="66.5" font-size="16" fill="#131722" stroke="#131722" stroke-width="0.2" font-weight="normal" text-anchor="start" textLength="11.0" lengthAdjust="spacingAndGlyphs">O</text>
<text x="309.0" y="66.5" font-size="16" fill="#26a69a" stroke="#26a69a" stroke-width="0.2" font-weight="normal" text-anchor="start" textLength="77.0" lengthAdjust="spacing">85,516.41</text>
<text x="397.0" y="66.5" font-size="16" fill="#131722" stroke="#131722" stroke-width="0.2" font-weight="normal" text-anchor="start" textLength="10.0" lengthAdjust="spacingAndGlyphs">H</text>
<text x="409.0" y="66.5" font-size="16" fill="#26a69a" stroke="#26a69a" stroke-width="0.2" font-weight="normal" text-anchor="start" textLength="83.0" lengthAdjust="spacing">88,449.06</text>
<text x="503.0" y="66.5" font-size="16" fill="#131722" stroke="#131722" stroke-width="0.2" font-weight="normal" text-anchor="start" textLength="8.0" lengthAdjust="spacingAndGlyphs">L</text>
<text x="513.0" y="66.5" font-size="16" fill="#26a69a" stroke="#26a69a" stroke-width="0.2" font-weight="normal" text-anchor="start" textLength="76.0" lengthAdjust="spacing">85,110.24</text>
<text x="600.0" y="66.5" font-size="16" fill="#131722" stroke="#131722" stroke-width="0.2" font-weight="normal" text-anchor="start" textLength="11.0" lengthAdjust="spacingAndGlyphs">C</text>
<text x="612.0" y="66.5" font-size="16" fill="#26a69a" stroke="#26a69a" stroke-width="0.2" font-weight="normal" text-anchor="start" textLength="80.0" lengthAdjust="spacing">88,120.94</text>
<text x="702.0" y="66.5" font-size="16" fill="#26a69a" stroke="#26a69a" stroke-width="0.2" font-weight="normal" text-anchor="start" textLength="163.0" lengthAdjust="spacing">+2,604.53 (+3.05%)</text>
<text x="26.0" y="91.0" font-size="16" fill="#131722" stroke="#131722" stroke-width="0.2" font-weight="normal" text-anchor="start" textLength="73.0" lengthAdjust="spacing">Vol · BTC</text>
<text x="108.0" y="91.0" font-size="16" fill="#26a69a" stroke="#26a69a" stroke-width="0.2" font-weight="normal" text-anchor="start" textLength="49.0" lengthAdjust="spacing">7.58 K</text>
<text x="26.0" y="115.5" font-size="16" fill="#131722" stroke="#131722" stroke-width="0.2" font-weight="normal" text-anchor="start" textLength="312.0" lengthAdjust="spacing">EMA (50, close, 100, close, 200, close)</text>
<text x="349.0" y="115.5" font-size="16" fill="#ff2020" stroke="#ff2020" stroke-width="0.2" font-weight="normal" text-anchor="start" textLength="80.0" lengthAdjust="spacing">94,207.93</text>
<text x="440.0" y="115.5" font-size="16" fill="#2962ff" stroke="#2962ff" stroke-width="0.2" font-weight="normal" text-anchor="start" textLength="81.0" lengthAdjust="spacing">99,878.54</text>
<text x="532.0" y="115.5" font-size="16" fill="#9c27b0" stroke="#9c27b0" stroke-width="0.2" font-weight="normal" text-anchor="start" textLength="88.0" lengthAdjust="spacing">102,386.18</text>
<g clip-path="url(#ca)">
<text x="1413.0" y="112.6" font-size="16" fill="#131722" stroke="#131722" stroke-width="0.2" font-weight="normal" text-anchor="start" textLength="94.4" lengthAdjust="spacing">125,000.00</text>
<text x="1413.0" y="158.3" font-size="16" fill="#131722" stroke="#131722" stroke-width="0.2" font-weight="normal" text-anchor="start" textLength="94.4" lengthAdjust="spacing">120,000.00</text>
<text x="1413.0" y="204.0" font-size="16" fill="#131722" stroke="#131722" stroke-width="0.2" font-weight="normal" text-anchor="start" textLength="94.4" lengthAdjust="spacing">115,000.00</text>
<text x="1413.0" y="249.7" font-size="16" fill="#131722" stroke="#131722" stroke-width="0.2" font-weight="normal" text-anchor="start" textLength="94.4" lengthAdjust="spacing">110,000.00</text>
<text x="1413.0" y="295.5" font-size="16" fill="#131722" stroke="#131722" stroke-width="0.2" font-weight="normal" text-anchor="start" textLength="94.4" lengthAdjust="spacing">105,000.00</text>
<text x="1413.0" y="341.2" font-size="16" fill="#131722" stroke="#131722" stroke-width="0.2" font-weight="normal" text-anchor="start" textLength="94.4" lengthAdjust="spacing">100,000.00</text>
<text x="1412.0" y="432.6" font-size="16" fill="#131722" stroke="#131722" stroke-width="0.2" font-weight="normal" text-anchor="start" textLength="84.0" lengthAdjust="spacing">90,000.00</text>
<text x="1412.0" y="478.4" font-size="16" fill="#131722" stroke="#131722" stroke-width="0.2" font-weight="normal" text-anchor="start" textLength="84.0" lengthAdjust="spacing">85,000.00</text>
<text x="1412.0" y="524.1" font-size="16" fill="#131722" stroke="#131722" stroke-width="0.2" font-weight="normal" text-anchor="start" textLength="84.0" lengthAdjust="spacing">80,000.00</text>
<text x="1412.0" y="569.8" font-size="16" fill="#131722" stroke="#131722" stroke-width="0.2" font-weight="normal" text-anchor="start" textLength="84.0" lengthAdjust="spacing">75,000.00</text>
<text x="1412.0" y="615.5" font-size="16" fill="#131722" stroke="#131722" stroke-width="0.2" font-weight="normal" text-anchor="start" textLength="84.0" lengthAdjust="spacing">70,000.00</text>
<path d="M1400 84.1H1513.5Q1516 84.1 1516 86.6V105.0Q1516 107.5 1513.5 107.5H1400Z" fill="#000"/>
<text x="1413.0" y="101.4" font-size="16" fill="#fff" stroke="#fff" stroke-width="0.2" font-weight="normal" text-anchor="start" textLength="94.4" lengthAdjust="spacing">126,199.00</text>
<path d="M1400 174.6H1513.5Q1516 174.6 1516 177.1V195.5Q1516 198.0 1513.5 198.0H1400Z" fill="#000"/>
<text x="1413.0" y="191.9" font-size="16" fill="#fff" stroke="#fff" stroke-width="0.2" font-weight="normal" text-anchor="start" textLength="94.4" lengthAdjust="spacing">116,366.51</text>
<path d="M1400 256.1H1513.5Q1516 256.1 1516 258.6V277.0Q1516 279.5 1513.5 279.5H1400Z" fill="#000"/>
<text x="1413.0" y="273.4" font-size="16" fill="#fff" stroke="#fff" stroke-width="0.2" font-weight="normal" text-anchor="start" textLength="94.4" lengthAdjust="spacing">107,455.33</text>
<path d="M1400 300.8H1513.5Q1516 300.8 1516 303.3V321.7Q1516 324.2 1513.5 324.2H1400Z" fill="#9c27b0"/>
<text x="1413.0" y="318.1" font-size="16" fill="#fff" stroke="#fff" stroke-width="0.2" font-weight="normal" text-anchor="start" textLength="94.4" lengthAdjust="spacing">102,386.18</text>
<path d="M1400 325.3H1503.5Q1506 325.3 1506 327.8V346.2Q1506 348.7 1503.5 348.7H1400Z" fill="#2962ff"/>
<text x="1412.0" y="342.6" font-size="16" fill="#fff" stroke="#fff" stroke-width="0.2" font-weight="normal" text-anchor="start" textLength="84.0" lengthAdjust="spacing">99,878.54</text>
<path d="M1400 353.3H1503.5Q1506 353.3 1506 355.8V374.2Q1506 376.7 1503.5 376.7H1400Z" fill="#000"/>
<text x="1412.0" y="370.6" font-size="16" fill="#fff" stroke="#fff" stroke-width="0.2" font-weight="normal" text-anchor="start" textLength="84.0" lengthAdjust="spacing">96,017.09</text>
<path d="M1400 377.5H1503.5Q1506 377.5 1506 380.0V398.4Q1506 400.9 1503.5 400.9H1400Z" fill="#ff2626"/>
<text x="1412.0" y="394.8" font-size="16" fill="#fff" stroke="#fff" stroke-width="0.2" font-weight="normal" text-anchor="start" textLength="84.0" lengthAdjust="spacing">94,207.93</text>
<path d="M1400 433.5H1503.5Q1506 433.5 1506 436V473.7Q1506 476.2 1503.5 476.2H1400Z" fill="#26a69a"/>
<text x="1412.0" y="450.6" font-size="16" fill="#fff" stroke="#fff" stroke-width="0.2" font-weight="normal" text-anchor="start" textLength="84.0" lengthAdjust="spacing">88,120.94</text>
<text x="1412.0" y="469.8" font-size="16" fill="#d3edea" stroke="#d3edea" stroke-width="0.2" font-weight="normal" text-anchor="start" textLength="75.0" lengthAdjust="spacing">15:02:27</text>
<path d="M1400 501.9H1503.5Q1506 501.9 1506 504.4V522.8Q1506 525.3 1503.5 525.3H1400Z" fill="#000"/>
<text x="1412.0" y="519.2" font-size="16" fill="#fff" stroke="#fff" stroke-width="0.2" font-weight="normal" text-anchor="start" textLength="84.0" lengthAdjust="spacing">80,600.00</text>
<path d="M1400 558.8H1503.5Q1506 558.8 1506 561.3V579.7Q1506 582.2 1503.5 582.2H1400Z" fill="#5e35b1"/>
<text x="1412.0" y="576.1" font-size="16" fill="#fff" stroke="#fff" stroke-width="0.2" font-weight="normal" text-anchor="start" textLength="84.0" lengthAdjust="spacing">74,476.98</text>
<path d="M1400 593.4H1467.5Q1470 593.4 1470 595.9V614.3Q1470 616.8 1467.5 616.8H1400Z" fill="#26a69a"/>
<text x="1412.0" y="610.7" font-size="16" fill="#fff" stroke="#fff" stroke-width="0.2" font-weight="normal" text-anchor="start" textLength="51.0" lengthAdjust="spacing">7.58 K</text>
</g>
<rect x="1404.5" y="44" width="111.5" height="37.5" rx="6" fill="#fff" stroke="#e9ebf0" stroke-width="1"/>
<text x="1417.6" y="68.5" font-size="16" fill="#131722" stroke="#131722" stroke-width="0.2" font-weight="normal" text-anchor="start" textLength="45.4" lengthAdjust="spacing">USDT</text>
<g clip-path="url(#cd)">
<line x1="14" y1="697.9" x2="1399" y2="697.9" stroke="#b8bbc4" stroke-width="1.2" stroke-dasharray="7 9.6"/>
<line x1="14.5" y1="697.9" x2="14.5" y2="704.7" stroke="#ff5252" stroke-width="1.5"/>
<line x1="17.5" y1="697.9" x2="17.5" y2="706.1" stroke="#ff5252" stroke-width="1.5"/>
<line x1="20.5" y1="697.9" x2="20.5" y2="705.6" stroke="#ffcdd2" stroke-width="1.5"/>
<line x1="23.5" y1="697.9" x2="23.5" y2="706.7" stroke="#ff5252" stroke-width="1.5"/>
<line x1="26.5" y1="697.9" x2="26.5" y2="706.9" stroke="#ff5252" stroke-width="1.5"/>
<line x1="30.5" y1="697.9" x2="30.5" y2="708.6" stroke="#ff5252" stroke-width="1.5"/>
<line x1="33.5" y1="697.9" x2="33.5" y2="709.8" stroke="#ff5252" stroke-width="1.5"/>
<line x1="36.5" y1="697.9" x2="36.5" y2="708.1" stroke="#ffcdd2" stroke-width="1.5"/>
<line x1="39.5" y1="697.9" x2="39.5" y2="708.7" stroke="#ff5252" stroke-width="1.5"/>
<line x1="42.5" y1="697.9" x2="42.5" y2="706.6" stroke="#ffcdd2" stroke-width="1.5"/>
<line x1="45.5" y1="697.9" x2="45.5" y2="705.4" stroke="#ffcdd2" stroke-width="1.5"/>
<line x1="48.5" y1="697.9" x2="48.5" y2="703.6" stroke="#ffcdd2" stroke-width="1.5"/>
<line x1="51.5" y1="697.9" x2="51.5" y2="706.3" stroke="#ff5252" stroke-width="1.5"/>
<line x1="54.5" y1="697.9" x2="54.5" y2="708.8" stroke="#ff5252" stroke-width="1.5"/>
<line x1="57.5" y1="697.9" x2="57.5" y2="706.2" stroke="#ffcdd2" stroke-width="1.5"/>
<line x1="60.5" y1="697.9" x2="60.5" y2="705.8" stroke="#ffcdd2" stroke-width="1.5"/>
<line x1="63.5" y1="697.9" x2="63.5" y2="704.2" stroke="#ffcdd2" stroke-width="1.5"/>
<line x1="67.5" y1="697.9" x2="67.5" y2="703.4" stroke="#ffcdd2" stroke-width="1.5"/>
<line x1="70.5" y1="697.9" x2="70.5" y2="700.3" stroke="#ffcdd2" stroke-width="1.5"/>
<line x1="73.5" y1="697.9" x2="73.5" y2="697.2" stroke="#26a69a" stroke-width="1.5"/>
<line x1="76.5" y1="697.9" x2="76.5" y2="695.7" stroke="#26a69a" stroke-width="1.5"/>
<line x1="79.5" y1="697.9" x2="79.5" y2="701.0" stroke="#ff5252" stroke-width="1.5"/>
<line x1="82.5" y1="697.9" x2="82.5" y2="707.1" stroke="#ff5252" stroke-width="1.5"/>
<line x1="85.5" y1="697.9" x2="85.5" y2="710.6" stroke="#ff5252" stroke-width="1.5"/>
<line x1="88.5" y1="697.9" x2="88.5" y2="713.0" stroke="#ff5252" stroke-width="1.5"/>
<line x1="91.5" y1="697.9" x2="91.5" y2="716.0" stroke="#ff5252" stroke-width="1.5"/>
<line x1="94.5" y1="697.9" x2="94.5" y2="717.6" stroke="#ff5252" stroke-width="1.5"/>
<line x1="97.5" y1="697.9" x2="97.5" y2="714.4" stroke="#ffcdd2" stroke-width="1.5"/>
<line x1="100.5" y1="697.9" x2="100.5" y2="711.2" stroke="#ffcdd2" stroke-width="1.5"/>
<line x1="104.5" y1="697.9" x2="104.5" y2="712.0" stroke="#ff5252" stroke-width="1.5"/>
<line x1="107.5" y1="697.9" x2="107.5" y2="713.3" stroke="#ff5252" stroke-width="1.5"/>
<line x1="110.5" y1="697.9" x2="110.5" y2="712.6" stroke="#ffcdd2" stroke-width="1.5"/>
<line x1="113.5" y1="697.9" x2="113.5" y2="713.1" stroke="#ff5252" stroke-width="1.5"/>
<line x1="116.5" y1="697.9" x2="116.5" y2="713.6" stroke="#ff5252" stroke-width="1.5"/>
<line x1="119.5" y1="697.9" x2="119.5" y2="712.4" stroke="#ffcdd2" stroke-width="1.5"/>
<line x1="122.5" y1="697.9" x2="122.5" y2="709.9" stroke="#ffcdd2" stroke-width="1.5"/>
<line x1="125.5" y1="697.9" x2="125.5" y2="705.6" stroke="#ffcdd2" stroke-width="1.5"/>
<line x1="128.5" y1="697.9" x2="128.5" y2="701.3" stroke="#ffcdd2" stroke-width="1.5"/>
<line x1="131.5" y1="697.9" x2="131.5" y2="698.4" stroke="#ffcdd2" stroke-width="1.5"/>
<line x1="134.5" y1="697.9" x2="134.5" y2="696.4" stroke="#26a69a" stroke-width="1.5"/>
<line x1="137.5" y1="697.9" x2="137.5" y2="691.6" stroke="#26a69a" stroke-width="1.5"/>
<line x1="140.5" y1="697.9" x2="140.5" y2="693.9" stroke="#b2dfdb" stroke-width="1.5"/>
<line x1="144.5" y1="697.9" x2="144.5" y2="697.2" stroke="#b2dfdb" stroke-width="1.5"/>
<line x1="147.5" y1="697.9" x2="147.5" y2="701.8" stroke="#ff5252" stroke-width="1.5"/>
<line x1="150.5" y1="697.9" x2="150.5" y2="702.4" stroke="#ff5252" stroke-width="1.5"/>
<line x1="153.5" y1="697.9" x2="153.5" y2="702.6" stroke="#ff5252" stroke-width="1.5"/>
<line x1="156.5" y1="697.9" x2="156.5" y2="702.6" stroke="#ffcdd2" stroke-width="1.5"/>
<line x1="159.5" y1="697.9" x2="159.5" y2="702.3" stroke="#ffcdd2" stroke-width="1.5"/>
<line x1="162.5" y1="697.9" x2="162.5" y2="700.0" stroke="#ffcdd2" stroke-width="1.5"/>
<line x1="165.5" y1="697.9" x2="165.5" y2="694.7" stroke="#26a69a" stroke-width="1.5"/>
<line x1="168.5" y1="697.9" x2="168.5" y2="692.0" stroke="#26a69a" stroke-width="1.5"/>
<line x1="171.5" y1="697.9" x2="171.5" y2="686.8" stroke="#26a69a" stroke-width="1.5"/>
<line x1="174.5" y1="697.9" x2="174.5" y2="683.8" stroke="#26a69a" stroke-width="1.5"/>
<line x1="177.5" y1="697.9" x2="177.5" y2="685.6" stroke="#b2dfdb" stroke-width="1.5"/>
<line x1="181.5" y1="697.9" x2="181.5" y2="686.6" stroke="#b2dfdb" stroke-width="1.5"/>
<line x1="184.5" y1="697.9" x2="184.5" y2="684.3" stroke="#26a69a" stroke-width="1.5"/>
<line x1="187.5" y1="697.9" x2="187.5" y2="685.9" stroke="#b2dfdb" stroke-width="1.5"/>
<line x1="190.5" y1="697.9" x2="190.5" y2="687.5" stroke="#b2dfdb" stroke-width="1.5"/>
<line x1="193.5" y1="697.9" x2="193.5" y2="688.4" stroke="#b2dfdb" stroke-width="1.5"/>
<line x1="196.5" y1="697.9" x2="196.5" y2="689.8" stroke="#b2dfdb" stroke-width="1.5"/>
<line x1="199.5" y1="697.9" x2="199.5" y2="693.2" stroke="#b2dfdb" stroke-width="1.5"/>
<line x1="202.5" y1="697.9" x2="202.5" y2="696.3" stroke="#b2dfdb" stroke-width="1.5"/>
<line x1="205.5" y1="697.9" x2="205.5" y2="699.3" stroke="#ff5252" stroke-width="1.5"/>
<line x1="208.5" y1="697.9" x2="208.5" y2="699.1" stroke="#ffcdd2" stroke-width="1.5"/>
<line x1="211.5" y1="697.9" x2="211.5" y2="698.2" stroke="#ffcdd2" stroke-width="1.5"/>
<line x1="214.5" y1="697.9" x2="214.5" y2="700.0" stroke="#ff5252" stroke-width="1.5"/>
<line x1="218.5" y1="697.9" x2="218.5" y2="702.9" stroke="#ff5252" stroke-width="1.5"/>
<line x1="221.5" y1="697.9" x2="221.5" y2="707.3" stroke="#ff5252" stroke-width="1.5"/>
<line x1="224.5" y1="697.9" x2="224.5" y2="706.4" stroke="#ffcdd2" stroke-width="1.5"/>
<line x1="227.5" y1="697.9" x2="227.5" y2="708.9" stroke="#ff5252" stroke-width="1.5"/>
<line x1="230.5" y1="697.9" x2="230.5" y2="711.1" stroke="#ff5252" stroke-width="1.5"/>
<line x1="233.5" y1="697.9" x2="233.5" y2="711.9" stroke="#ff5252" stroke-width="1.5"/>
<line x1="236.5" y1="697.9" x2="236.5" y2="711.8" stroke="#ffcdd2" stroke-width="1.5"/>
<line x1="239.5" y1="697.9" x2="239.5" y2="711.1" stroke="#ffcdd2" stroke-width="1.5"/>
<line x1="242.5" y1="697.9" x2="242.5" y2="710.0" stroke="#ffcdd2" stroke-width="1.5"/>
<line x1="245.5" y1="697.9" x2="245.5" y2="707.8" stroke="#ffcdd2" stroke-width="1.5"/>
<line x1="248.5" y1="697.9" x2="248.5" y2="707.4" stroke="#ffcdd2" stroke-width="1.5"/>
<line x1="251.5" y1="697.9" x2="251.5" y2="704.6" stroke="#ffcdd2" stroke-width="1.5"/>
<line x1="255.5" y1="697.9" x2="255.5" y2="703.7" stroke="#ffcdd2" stroke-width="1.5"/>
<line x1="258.5" y1="697.9" x2="258.5" y2="701.8" stroke="#ffcdd2" stroke-width="1.5"/>
<line x1="261.5" y1="697.9" x2="261.5" y2="700.3" stroke="#ffcdd2" stroke-width="1.5"/>
<line x1="264.5" y1="697.9" x2="264.5" y2="700.5" stroke="#ff5252" stroke-width="1.5"/>
<line x1="267.5" y1="697.9" x2="267.5" y2="700.7" stroke="#ff5252" stroke-width="1.5"/>
<line x1="270.5" y1="697.9" x2="270.5" y2="700.6" stroke="#ffcdd2" stroke-width="1.5"/>
<line x1="273.5" y1="697.9" x2="273.5" y2="699.5" stroke="#ffcdd2" stroke-width="1.5"/>
<line x1="276.5" y1="697.9" x2="276.5" y2="697.0" stroke="#26a69a" stroke-width="1.5"/>
<line x1="279.5" y1="697.9" x2="279.5" y2="697.4" stroke="#b2dfdb" stroke-width="1.5"/>
<line x1="282.5" y1="697.9" x2="282.5" y2="697.1" stroke="#26a69a" stroke-width="1.5"/>
<line x1="285.5" y1="697.9" x2="285.5" y2="697.1" stroke="#b2dfdb" stroke-width="1.5"/>
<line x1="288.5" y1="697.9" x2="288.5" y2="701.4" stroke="#ff5252" stroke-width="1.5"/>
<line x1="292.5" y1="697.9" x2="292.5" y2="706.6" stroke="#ff5252" stroke-width="1.5"/>
<line x1="295.5" y1="697.9" x2="295.5" y2="713.3" stroke="#ff5252" stroke-width="1.5"/>
<line x1="298.5" y1="697.9" x2="298.5" y2="716.1" stroke="#ff5252" stroke-width="1.5"/>
<line x1="301.5" y1="697.9" x2="301.5" y2="716.9" stroke="#ff5252" stroke-width="1.5"/>
<line x1="304.5" y1="697.9" x2="304.5" y2="714.6" stroke="#ffcdd2" stroke-width="1.5"/>
<line x1="307.5" y1="697.9" x2="307.5" y2="704.4" stroke="#ffcdd2" stroke-width="1.5"/>
<line x1="310.5" y1="697.9" x2="310.5" y2="704.8" stroke="#ff5252" stroke-width="1.5"/>
<line x1="313.5" y1="697.9" x2="313.5" y2="703.3" stroke="#ffcdd2" stroke-width="1.5"/>
<line x1="316.5" y1="697.9" x2="316.5" y2="698.7" stroke="#ffcdd2" stroke-width="1.5"/>
<line x1="319.5" y1="697.9" x2="319.5" y2="696.1" stroke="#26a69a" stroke-width="1.5"/>
<line x1="322.5" y1="697.9" x2="322.5" y2="697.1" stroke="#b2dfdb" stroke-width="1.5"/>
<line x1="325.5" y1="697.9" x2="325.5" y2="698.0" stroke="#ff5252" stroke-width="1.5"/>
<line x1="329.5" y1="697.9" x2="329.5" y2="703.3" stroke="#ff5252" stroke-width="1.5"/>
<line x1="332.5" y1="697.9" x2="332.5" y2="707.9" stroke="#ff5252" stroke-width="1.5"/>
<line x1="335.5" y1="697.9" x2="335.5" y2="705.9" stroke="#ffcdd2" stroke-width="1.5"/>
<line x1="338.5" y1="697.9" x2="338.5" y2="703.1" stroke="#ffcdd2" stroke-width="1.5"/>
<line x1="341.5" y1="697.9" x2="341.5" y2="703.1" stroke="#ffcdd2" stroke-width="1.5"/>
<line x1="344.5" y1="697.9" x2="344.5" y2="699.7" stroke="#ffcdd2" stroke-width="1.5"/>
<line x1="347.5" y1="697.9" x2="347.5" y2="696.8" stroke="#26a69a" stroke-width="1.5"/>
<line x1="350.5" y1="697.9" x2="350.5" y2="696.2" stroke="#26a69a" stroke-width="1.5"/>
<line x1="353.5" y1="697.9" x2="353.5" y2="694.2" stroke="#26a69a" stroke-width="1.5"/>
<line x1="356.5" y1="697.9" x2="356.5" y2="693.9" stroke="#26a69a" stroke-width="1.5"/>
<line x1="359.5" y1="697.9" x2="359.5" y2="689.7" stroke="#26a69a" stroke-width="1.5"/>
<line x1="362.5" y1="697.9" x2="362.5" y2="689.6" stroke="#26a69a" stroke-width="1.5"/>
<line x1="366.5" y1="697.9" x2="366.5" y2="689.7" stroke="#b2dfdb" stroke-width="1.5"/>
<line x1="369.5" y1="697.9" x2="369.5" y2="690.1" stroke="#b2dfdb" stroke-width="1.5"/>
<line x1="372.5" y1="697.9" x2="372.5" y2="688.4" stroke="#26a69a" stroke-width="1.5"/>
<line x1="375.5" y1="697.9" x2="375.5" y2="686.2" stroke="#26a69a" stroke-width="1.5"/>
<line x1="378.5" y1="697.9" x2="378.5" y2="685.2" stroke="#26a69a" stroke-width="1.5"/>
<line x1="381.5" y1="697.9" x2="381.5" y2="685.5" stroke="#b2dfdb" stroke-width="1.5"/>
<line x1="384.5" y1="697.9" x2="384.5" y2="685.8" stroke="#b2dfdb" stroke-width="1.5"/>
<line x1="387.5" y1="697.9" x2="387.5" y2="689.1" stroke="#b2dfdb" stroke-width="1.5"/>
<line x1="390.5" y1="697.9" x2="390.5" y2="693.1" stroke="#b2dfdb" stroke-width="1.5"/>
<line x1="393.5" y1="697.9" x2="393.5" y2="695.9" stroke="#b2dfdb" stroke-width="1.5"/>
<line x1="396.5" y1="697.9" x2="396.5" y2="697.4" stroke="#b2dfdb" stroke-width="1.5"/>
<line x1="399.5" y1="697.9" x2="399.5" y2="695.9" stroke="#26a69a" stroke-width="1.5"/>
<line x1="403.5" y1="697.9" x2="403.5" y2="697.3" stroke="#b2dfdb" stroke-width="1.5"/>
<line x1="406.5" y1="697.9" x2="406.5" y2="697.4" stroke="#b2dfdb" stroke-width="1.5"/>
<line x1="409.5" y1="697.9" x2="409.5" y2="696.7" stroke="#26a69a" stroke-width="1.5"/>
<line x1="412.5" y1="697.9" x2="412.5" y2="696.6" stroke="#26a69a" stroke-width="1.5"/>
<line x1="415.5" y1="697.9" x2="415.5" y2="701.2" stroke="#ff5252" stroke-width="1.5"/>
<line x1="418.5" y1="697.9" x2="418.5" y2="703.0" stroke="#ff5252" stroke-width="1.5"/>
<line x1="421.5" y1="697.9" x2="421.5" y2="706.4" stroke="#ff5252" stroke-width="1.5"/>
<line x1="424.5" y1="697.9" x2="424.5" y2="702.0" stroke="#ffcdd2" stroke-width="1.5"/>
<line x1="427.5" y1="697.9" x2="427.5" y2="701.7" stroke="#ffcdd2" stroke-width="1.5"/>
<line x1="430.5" y1="697.9" x2="430.5" y2="697.6" stroke="#26a69a" stroke-width="1.5"/>
<line x1="433.5" y1="697.9" x2="433.5" y2="693.0" stroke="#26a69a" stroke-width="1.5"/>
<line x1="436.5" y1="697.9" x2="436.5" y2="691.7" stroke="#26a69a" stroke-width="1.5"/>
<line x1="440.5" y1="697.9" x2="440.5" y2="690.2" stroke="#26a69a" stroke-width="1.5"/>
<line x1="443.5" y1="697.9" x2="443.5" y2="690.5" stroke="#b2dfdb" stroke-width="1.5"/>
<line x1="446.5" y1="697.9" x2="446.5" y2="690.5" stroke="#b2dfdb" stroke-width="1.5"/>
<line x1="449.5" y1="697.9" x2="449.5" y2="689.9" stroke="#26a69a" stroke-width="1.5"/>
<line x1="452.5" y1="697.9" x2="452.5" y2="690.4" stroke="#b2dfdb" stroke-width="1.5"/>
<line x1="455.5" y1="697.9" x2="455.5" y2="690.3" stroke="#26a69a" stroke-width="1.5"/>
<line x1="458.5" y1="697.9" x2="458.5" y2="690.6" stroke="#b2dfdb" stroke-width="1.5"/>
<line x1="461.5" y1="697.9" x2="461.5" y2="688.9" stroke="#26a69a" stroke-width="1.5"/>
<line x1="464.5" y1="697.9" x2="464.5" y2="682.8" stroke="#26a69a" stroke-width="1.5"/>
<line x1="467.5" y1="697.9" x2="467.5" y2="679.6" stroke="#26a69a" stroke-width="1.5"/>
<line x1="470.5" y1="697.9" x2="470.5" y2="678.3" stroke="#26a69a" stroke-width="1.5"/>
<line x1="473.5" y1="697.9" x2="473.5" y2="677.9" stroke="#26a69a" stroke-width="1.5"/>
<line x1="477.5" y1="697.9" x2="477.5" y2="678.9" stroke="#b2dfdb" stroke-width="1.5"/>
<line x1="480.5" y1="697.9" x2="480.5" y2="681.6" stroke="#b2dfdb" stroke-width="1.5"/>
<line x1="483.5" y1="697.9" x2="483.5" y2="683.1" stroke="#b2dfdb" stroke-width="1.5"/>
<line x1="486.5" y1="697.9" x2="486.5" y2="685.8" stroke="#b2dfdb" stroke-width="1.5"/>
<line x1="489.5" y1="697.9" x2="489.5" y2="688.5" stroke="#b2dfdb" stroke-width="1.5"/>
<line x1="492.5" y1="697.9" x2="492.5" y2="688.9" stroke="#b2dfdb" stroke-width="1.5"/>
<line x1="495.5" y1="697.9" x2="495.5" y2="689.6" stroke="#b2dfdb" stroke-width="1.5"/>
<line x1="498.5" y1="697.9" x2="498.5" y2="691.7" stroke="#b2dfdb" stroke-width="1.5"/>
<line x1="501.5" y1="697.9" x2="501.5" y2="695.2" stroke="#b2dfdb" stroke-width="1.5"/>
<line x1="504.5" y1="697.9" x2="504.5" y2="697.4" stroke="#b2dfdb" stroke-width="1.5"/>
<line x1="507.5" y1="697.9" x2="507.5" y2="697.3" stroke="#26a69a" stroke-width="1.5"/>
<line x1="510.5" y1="697.9" x2="510.5" y2="697.4" stroke="#b2dfdb" stroke-width="1.5"/>
<line x1="514.5" y1="697.9" x2="514.5" y2="692.1" stroke="#26a69a" stroke-width="1.5"/>
<line x1="517.5" y1="697.9" x2="517.5" y2="689.7" stroke="#26a69a" stroke-width="1.5"/>
<line x1="520.5" y1="697.9" x2="520.5" y2="687.3" stroke="#26a69a" stroke-width="1.5"/>
<line x1="523.5" y1="697.9" x2="523.5" y2="687.5" stroke="#b2dfdb" stroke-width="1.5"/>
<line x1="526.5" y1="697.9" x2="526.5" y2="689.8" stroke="#b2dfdb" stroke-width="1.5"/>
<line x1="529.5" y1="697.9" x2="529.5" y2="690.9" stroke="#b2dfdb" stroke-width="1.5"/>
<line x1="532.5" y1="697.9" x2="532.5" y2="693.0" stroke="#b2dfdb" stroke-width="1.5"/>
<line x1="535.5" y1="697.9" x2="535.5" y2="694.8" stroke="#b2dfdb" stroke-width="1.5"/>
<line x1="538.5" y1="697.9" x2="538.5" y2="696.9" stroke="#b2dfdb" stroke-width="1.5"/>
<line x1="541.5" y1="697.9" x2="541.5" y2="699.1" stroke="#ff5252" stroke-width="1.5"/>
<line x1="544.5" y1="697.9" x2="544.5" y2="697.8" stroke="#26a69a" stroke-width="1.5"/>
<line x1="547.5" y1="697.9" x2="547.5" y2="698.3" stroke="#ff5252" stroke-width="1.5"/>
<line x1="551.5" y1="697.9" x2="551.5" y2="697.9" stroke="#ffcdd2" stroke-width="1.5"/>
<line x1="554.5" y1="697.9" x2="554.5" y2="695.6" stroke="#26a69a" stroke-width="1.5"/>
<line x1="557.5" y1="697.9" x2="557.5" y2="692.8" stroke="#26a69a" stroke-width="1.5"/>
<line x1="560.5" y1="697.9" x2="560.5" y2="695.9" stroke="#b2dfdb" stroke-width="1.5"/>
<line x1="563.5" y1="697.9" x2="563.5" y2="698.1" stroke="#ff5252" stroke-width="1.5"/>
<line x1="566.5" y1="697.9" x2="566.5" y2="698.8" stroke="#ff5252" stroke-width="1.5"/>
<line x1="569.5" y1="697.9" x2="569.5" y2="699.3" stroke="#ff5252" stroke-width="1.5"/>
<line x1="572.5" y1="697.9" x2="572.5" y2="700.5" stroke="#ff5252" stroke-width="1.5"/>
<line x1="575.5" y1="697.9" x2="575.5" y2="702.7" stroke="#ff5252" stroke-width="1.5"/>
<line x1="578.5" y1="697.9" x2="578.5" y2="706.4" stroke="#ff5252" stroke-width="1.5"/>
<line x1="581.5" y1="697.9" x2="581.5" y2="710.2" stroke="#ff5252" stroke-width="1.5"/>
<line x1="584.5" y1="697.9" x2="584.5" y2="711.8" stroke="#ff5252" stroke-width="1.5"/>
<line x1="588.5" y1="697.9" x2="588.5" y2="711.5" stroke="#ffcdd2" stroke-width="1.5"/>
<line x1="591.5" y1="697.9" x2="591.5" y2="710.9" stroke="#ffcdd2" stroke-width="1.5"/>
<line x1="594.5" y1="697.9" x2="594.5" y2="710.5" stroke="#ffcdd2" stroke-width="1.5"/>
<line x1="597.5" y1="697.9" x2="597.5" y2="710.6" stroke="#ff5252" stroke-width="1.5"/>
<line x1="600.5" y1="697.9" x2="600.5" y2="713.3" stroke="#ff5252" stroke-width="1.5"/>
<line x1="603.5" y1="697.9" x2="603.5" y2="711.8" stroke="#ffcdd2" stroke-width="1.5"/>
<line x1="606.5" y1="697.9" x2="606.5" y2="709.2" stroke="#ffcdd2" stroke-width="1.5"/>
<line x1="609.5" y1="697.9" x2="609.5" y2="707.1" stroke="#ffcdd2" stroke-width="1.5"/>
<line x1="612.5" y1="697.9" x2="612.5" y2="701.2" stroke="#ffcdd2" stroke-width="1.5"/>
<line x1="615.5" y1="697.9" x2="615.5" y2="697.5" stroke="#26a69a" stroke-width="1.5"/>
<line x1="618.5" y1="697.9" x2="618.5" y2="696.9" stroke="#26a69a" stroke-width="1.5"/>
<line x1="621.5" y1="697.9" x2="621.5" y2="699.6" stroke="#ff5252" stroke-width="1.5"/>
<line x1="625.5" y1="697.9" x2="625.5" y2="700.9" stroke="#ff5252" stroke-width="1.5"/>
<line x1="628.5" y1="697.9" x2="628.5" y2="702.4" stroke="#ff5252" stroke-width="1.5"/>
<line x1="631.5" y1="697.9" x2="631.5" y2="703.1" stroke="#ff5252" stroke-width="1.5"/>
<line x1="634.5" y1="697.9" x2="634.5" y2="702.2" stroke="#ffcdd2" stroke-width="1.5"/>
<line x1="637.5" y1="697.9" x2="637.5" y2="703.7" stroke="#ff5252" stroke-width="1.5"/>
<line x1="640.5" y1="697.9" x2="640.5" y2="704.2" stroke="#ff5252" stroke-width="1.5"/>
<line x1="643.5" y1="697.9" x2="643.5" y2="704.4" stroke="#ff5252" stroke-width="1.5"/>
<line x1="646.5" y1="697.9" x2="646.5" y2="705.6" stroke="#ff5252" stroke-width="1.5"/>
<line x1="649.5" y1="697.9" x2="649.5" y2="707.1" stroke="#ff5252" stroke-width="1.5"/>
<line x1="652.5" y1="697.9" x2="652.5" y2="708.7" stroke="#ff5252" stroke-width="1.5"/>
<line x1="655.5" y1="697.9" x2="655.5" y2="705.1" stroke="#ffcdd2" stroke-width="1.5"/>
<line x1="658.5" y1="697.9" x2="658.5" y2="701.8" stroke="#ffcdd2" stroke-width="1.5"/>
<line x1="662.5" y1="697.9" x2="662.5" y2="698.4" stroke="#ffcdd2" stroke-width="1.5"/>
<line x1="665.5" y1="697.9" x2="665.5" y2="696.6" stroke="#26a69a" stroke-width="1.5"/>
<line x1="668.5" y1="697.9" x2="668.5" y2="695.4" stroke="#26a69a" stroke-width="1.5"/>
<line x1="671.5" y1="697.9" x2="671.5" y2="694.6" stroke="#26a69a" stroke-width="1.5"/>
<line x1="674.5" y1="697.9" x2="674.5" y2="693.3" stroke="#26a69a" stroke-width="1.5"/>
<line x1="677.5" y1="697.9" x2="677.5" y2="693.9" stroke="#b2dfdb" stroke-width="1.5"/>
<line x1="680.5" y1="697.9" x2="680.5" y2="695.8" stroke="#b2dfdb" stroke-width="1.5"/>
<line x1="683.5" y1="697.9" x2="683.5" y2="694.3" stroke="#26a69a" stroke-width="1.5"/>
<line x1="686.5" y1="697.9" x2="686.5" y2="692.9" stroke="#26a69a" stroke-width="1.5"/>
<line x1="689.5" y1="697.9" x2="689.5" y2="693.8" stroke="#b2dfdb" stroke-width="1.5"/>
<line x1="692.5" y1="697.9" x2="692.5" y2="694.5" stroke="#b2dfdb" stroke-width="1.5"/>
<line x1="695.5" y1="697.9" x2="695.5" y2="694.3" stroke="#26a69a" stroke-width="1.5"/>
<line x1="699.5" y1="697.9" x2="699.5" y2="695.3" stroke="#b2dfdb" stroke-width="1.5"/>
<line x1="702.5" y1="697.9" x2="702.5" y2="695.5" stroke="#b2dfdb" stroke-width="1.5"/>
<line x1="705.5" y1="697.9" x2="705.5" y2="693.8" stroke="#26a69a" stroke-width="1.5"/>
<line x1="708.5" y1="697.9" x2="708.5" y2="688.6" stroke="#26a69a" stroke-width="1.5"/>
<line x1="711.5" y1="697.9" x2="711.5" y2="684.5" stroke="#26a69a" stroke-width="1.5"/>
<line x1="714.5" y1="697.9" x2="714.5" y2="683.0" stroke="#26a69a" stroke-width="1.5"/>
<line x1="717.5" y1="697.9" x2="717.5" y2="681.4" stroke="#26a69a" stroke-width="1.5"/>
<line x1="720.5" y1="697.9" x2="720.5" y2="680.8" stroke="#26a69a" stroke-width="1.5"/>
<line x1="723.5" y1="697.9" x2="723.5" y2="683.6" stroke="#b2dfdb" stroke-width="1.5"/>
<line x1="726.5" y1="697.9" x2="726.5" y2="685.5" stroke="#b2dfdb" stroke-width="1.5"/>
<line x1="729.5" y1="697.9" x2="729.5" y2="687.2" stroke="#b2dfdb" stroke-width="1.5"/>
<line x1="732.5" y1="697.9" x2="732.5" y2="690.4" stroke="#b2dfdb" stroke-width="1.5"/>
<line x1="736.5" y1="697.9" x2="736.5" y2="693.2" stroke="#b2dfdb" stroke-width="1.5"/>
<line x1="739.5" y1="697.9" x2="739.5" y2="696.2" stroke="#b2dfdb" stroke-width="1.5"/>
<line x1="742.5" y1="697.9" x2="742.5" y2="698.4" stroke="#ff5252" stroke-width="1.5"/>
<line x1="745.5" y1="697.9" x2="745.5" y2="697.7" stroke="#26a69a" stroke-width="1.5"/>
<line x1="748.5" y1="697.9" x2="748.5" y2="698.9" stroke="#ff5252" stroke-width="1.5"/>
<line x1="751.5" y1="697.9" x2="751.5" y2="700.3" stroke="#ff5252" stroke-width="1.5"/>
<line x1="754.5" y1="697.9" x2="754.5" y2="702.1" stroke="#ff5252" stroke-width="1.5"/>
<line x1="757.5" y1="697.9" x2="757.5" y2="703.1" stroke="#ff5252" stroke-width="1.5"/>
<line x1="760.5" y1="697.9" x2="760.5" y2="702.5" stroke="#ffcdd2" stroke-width="1.5"/>
<line x1="763.5" y1="697.9" x2="763.5" y2="703.4" stroke="#ff5252" stroke-width="1.5"/>
<line x1="766.5" y1="697.9" x2="766.5" y2="704.2" stroke="#ff5252" stroke-width="1.5"/>
<line x1="769.5" y1="697.9" x2="769.5" y2="704.7" stroke="#ff5252" stroke-width="1.5"/>
<line x1="773.5" y1="697.9" x2="773.5" y2="706.9" stroke="#ff5252" stroke-width="1.5"/>
<line x1="776.5" y1="697.9" x2="776.5" y2="710.4" stroke="#ff5252" stroke-width="1.5"/>
<line x1="779.5" y1="697.9" x2="779.5" y2="712.9" stroke="#ff5252" stroke-width="1.5"/>
<line x1="782.5" y1="697.9" x2="782.5" y2="712.4" stroke="#ffcdd2" stroke-width="1.5"/>
<line x1="785.5" y1="697.9" x2="785.5" y2="710.7" stroke="#ffcdd2" stroke-width="1.5"/>
<line x1="788.5" y1="697.9" x2="788.5" y2="709.9" stroke="#ffcdd2" stroke-width="1.5"/>
<line x1="791.5" y1="697.9" x2="791.5" y2="708.2" stroke="#ffcdd2" stroke-width="1.5"/>
<line x1="794.5" y1="697.9" x2="794.5" y2="704.4" stroke="#ffcdd2" stroke-width="1.5"/>
<line x1="797.5" y1="697.9" x2="797.5" y2="702.5" stroke="#ffcdd2" stroke-width="1.5"/>
<line x1="800.5" y1="697.9" x2="800.5" y2="701.3" stroke="#ffcdd2" stroke-width="1.5"/>
<line x1="803.5" y1="697.9" x2="803.5" y2="697.9" stroke="#26a69a" stroke-width="1.5"/>
<line x1="806.5" y1="697.9" x2="806.5" y2="696.4" stroke="#26a69a" stroke-width="1.5"/>
<line x1="810.5" y1="697.9" x2="810.5" y2="694.3" stroke="#26a69a" stroke-width="1.5"/>
<line x1="813.5" y1="697.9" x2="813.5" y2="690.3" stroke="#26a69a" stroke-width="1.5"/>
<line x1="816.5" y1="697.9" x2="816.5" y2="692.9" stroke="#b2dfdb" stroke-width="1.5"/>
<line x1="819.5" y1="697.9" x2="819.5" y2="695.9" stroke="#b2dfdb" stroke-width="1.5"/>
<line x1="822.5" y1="697.9" x2="822.5" y2="697.9" stroke="#b2dfdb" stroke-width="1.5"/>
<line x1="825.5" y1="697.9" x2="825.5" y2="699.3" stroke="#ff5252" stroke-width="1.5"/>
<line x1="828.5" y1="697.9" x2="828.5" y2="701.3" stroke="#ff5252" stroke-width="1.5"/>
<line x1="831.5" y1="697.9" x2="831.5" y2="705.6" stroke="#ff5252" stroke-width="1.5"/>
<line x1="834.5" y1="697.9" x2="834.5" y2="706.7" stroke="#ff5252" stroke-width="1.5"/>
<line x1="837.5" y1="697.9" x2="837.5" y2="708.6" stroke="#ff5252" stroke-width="1.5"/>
<line x1="840.5" y1="697.9" x2="840.5" y2="705.2" stroke="#ffcdd2" stroke-width="1.5"/>
<line x1="843.5" y1="697.9" x2="843.5" y2="704.2" stroke="#ffcdd2" stroke-width="1.5"/>
<line x1="847.5" y1="697.9" x2="847.5" y2="704.9" stroke="#ff5252" stroke-width="1.5"/>
<line x1="850.5" y1="697.9" x2="850.5" y2="708.2" stroke="#ff5252" stroke-width="1.5"/>
<line x1="853.5" y1="697.9" x2="853.5" y2="708.2" stroke="#ffcdd2" stroke-width="1.5"/>
<line x1="856.5" y1="697.9" x2="856.5" y2="708.0" stroke="#ffcdd2" stroke-width="1.5"/>
<line x1="859.5" y1="697.9" x2="859.5" y2="706.1" stroke="#ffcdd2" stroke-width="1.5"/>
<line x1="862.5" y1="697.9" x2="862.5" y2="708.3" stroke="#ff5252" stroke-width="1.5"/>
<line x1="865.5" y1="697.9" x2="865.5" y2="708.6" stroke="#ff5252" stroke-width="1.5"/>
<line x1="868.5" y1="697.9" x2="868.5" y2="708.6" stroke="#ff5252" stroke-width="1.5"/>
<line x1="871.5" y1="697.9" x2="871.5" y2="707.0" stroke="#ffcdd2" stroke-width="1.5"/>
<line x1="874.5" y1="697.9" x2="874.5" y2="703.4" stroke="#ffcdd2" stroke-width="1.5"/>
<line x1="877.5" y1="697.9" x2="877.5" y2="700.3" stroke="#ffcdd2" stroke-width="1.5"/>
<line x1="880.5" y1="697.9" x2="880.5" y2="698.9" stroke="#ffcdd2" stroke-width="1.5"/>
<line x1="884.5" y1="697.9" x2="884.5" y2="697.9" stroke="#26a69a" stroke-width="1.5"/>
<line x1="887.5" y1="697.9" x2="887.5" y2="697.5" stroke="#26a69a" stroke-width="1.5"/>
<line x1="890.5" y1="697.9" x2="890.5" y2="696.1" stroke="#26a69a" stroke-width="1.5"/>
<line x1="893.5" y1="697.9" x2="893.5" y2="694.4" stroke="#26a69a" stroke-width="1.5"/>
<line x1="896.5" y1="697.9" x2="896.5" y2="693.8" stroke="#26a69a" stroke-width="1.5"/>
<line x1="899.5" y1="697.9" x2="899.5" y2="691.2" stroke="#26a69a" stroke-width="1.5"/>
<line x1="902.5" y1="697.9" x2="902.5" y2="688.3" stroke="#26a69a" stroke-width="1.5"/>
<line x1="905.5" y1="697.9" x2="905.5" y2="686.4" stroke="#26a69a" stroke-width="1.5"/>
<line x1="908.5" y1="697.9" x2="908.5" y2="685.7" stroke="#26a69a" stroke-width="1.5"/>
<line x1="911.5" y1="697.9" x2="911.5" y2="686.5" stroke="#b2dfdb" stroke-width="1.5"/>
<line x1="914.5" y1="697.9" x2="914.5" y2="687.5" stroke="#b2dfdb" stroke-width="1.5"/>
<line x1="917.5" y1="697.9" x2="917.5" y2="687.3" stroke="#26a69a" stroke-width="1.5"/>
<line x1="920.5" y1="697.9" x2="920.5" y2="688.0" stroke="#b2dfdb" stroke-width="1.5"/>
<line x1="924.5" y1="697.9" x2="924.5" y2="688.4" stroke="#b2dfdb" stroke-width="1.5"/>
<line x1="927.5" y1="697.9" x2="927.5" y2="690.6" stroke="#b2dfdb" stroke-width="1.5"/>
<line x1="930.5" y1="697.9" x2="930.5" y2="692.3" stroke="#b2dfdb" stroke-width="1.5"/>
<line x1="933.5" y1="697.9" x2="933.5" y2="694.1" stroke="#b2dfdb" stroke-width="1.5"/>
<line x1="936.5" y1="697.9" x2="936.5" y2="697.9" stroke="#ff5252" stroke-width="1.5"/>
<line x1="939.5" y1="697.9" x2="939.5" y2="701.0" stroke="#ff5252" stroke-width="1.5"/>
<line x1="942.5" y1="697.9" x2="942.5" y2="701.6" stroke="#ff5252" stroke-width="1.5"/>
<line x1="945.5" y1="697.9" x2="945.5" y2="705.8" stroke="#ff5252" stroke-width="1.5"/>
<line x1="948.5" y1="697.9" x2="948.5" y2="707.5" stroke="#ff5252" stroke-width="1.5"/>
<line x1="951.5" y1="697.9" x2="951.5" y2="708.1" stroke="#ff5252" stroke-width="1.5"/>
<line x1="954.5" y1="697.9" x2="954.5" y2="705.6" stroke="#ffcdd2" stroke-width="1.5"/>
<line x1="957.5" y1="697.9" x2="957.5" y2="701.6" stroke="#ffcdd2" stroke-width="1.5"/>
<line x1="961.5" y1="697.9" x2="961.5" y2="699.1" stroke="#ffcdd2" stroke-width="1.5"/>
<line x1="964.5" y1="697.9" x2="964.5" y2="693.2" stroke="#26a69a" stroke-width="1.5"/>
<line x1="967.5" y1="697.9" x2="967.5" y2="688.0" stroke="#26a69a" stroke-width="1.5"/>
<line x1="970.5" y1="697.9" x2="970.5" y2="683.6" stroke="#26a69a" stroke-width="1.5"/>
<line x1="973.5" y1="697.9" x2="973.5" y2="681.5" stroke="#26a69a" stroke-width="1.5"/>
<line x1="976.5" y1="697.9" x2="976.5" y2="680.1" stroke="#26a69a" stroke-width="1.5"/>
<line x1="979.5" y1="697.9" x2="979.5" y2="679.2" stroke="#26a69a" stroke-width="1.5"/>
<line x1="982.5" y1="697.9" x2="982.5" y2="682.8" stroke="#b2dfdb" stroke-width="1.5"/>
<line x1="985.5" y1="697.9" x2="985.5" y2="684.3" stroke="#b2dfdb" stroke-width="1.5"/>
<line x1="988.5" y1="697.9" x2="988.5" y2="687.6" stroke="#b2dfdb" stroke-width="1.5"/>
<line x1="991.5" y1="697.9" x2="991.5" y2="698.8" stroke="#ff5252" stroke-width="1.5"/>
<line x1="994.5" y1="697.9" x2="994.5" y2="707.9" stroke="#ff5252" stroke-width="1.5"/>
<line x1="998.5" y1="697.9" x2="998.5" y2="709.2" stroke="#ff5252" stroke-width="1.5"/>
<line x1="1001.5" y1="697.9" x2="1001.5" y2="709.5" stroke="#ff5252" stroke-width="1.5"/>
<line x1="1004.5" y1="697.9" x2="1004.5" y2="711.2" stroke="#ff5252" stroke-width="1.5"/>
<line x1="1007.5" y1="697.9" x2="1007.5" y2="713.8" stroke="#ff5252" stroke-width="1.5"/>
<line x1="1010.5" y1="697.9" x2="1010.5" y2="717.1" stroke="#ff5252" stroke-width="1.5"/>
<line x1="1013.5" y1="697.9" x2="1013.5" y2="719.9" stroke="#ff5252" stroke-width="1.5"/>
<line x1="1016.5" y1="697.9" x2="1016.5" y2="719.7" stroke="#ffcdd2" stroke-width="1.5"/>
<line x1="1019.5" y1="697.9" x2="1019.5" y2="717.1" stroke="#ffcdd2" stroke-width="1.5"/>
<line x1="1022.5" y1="697.9" x2="1022.5" y2="712.6" stroke="#ffcdd2" stroke-width="1.5"/>
<line x1="1025.5" y1="697.9" x2="1025.5" y2="711.0" stroke="#ffcdd2" stroke-width="1.5"/>
<line x1="1028.5" y1="697.9" x2="1028.5" y2="709.8" stroke="#ffcdd2" stroke-width="1.5"/>
<line x1="1031.5" y1="697.9" x2="1031.5" y2="706.0" stroke="#ffcdd2" stroke-width="1.5"/>
<line x1="1035.5" y1="697.9" x2="1035.5" y2="702.0" stroke="#ffcdd2" stroke-width="1.5"/>
<line x1="1038.5" y1="697.9" x2="1038.5" y2="698.6" stroke="#ffcdd2" stroke-width="1.5"/>
<line x1="1041.5" y1="697.9" x2="1041.5" y2="693.5" stroke="#26a69a" stroke-width="1.5"/>
<line x1="1044.5" y1="697.9" x2="1044.5" y2="690.7" stroke="#26a69a" stroke-width="1.5"/>
<line x1="1047.5" y1="697.9" x2="1047.5" y2="690.3" stroke="#26a69a" stroke-width="1.5"/>
<line x1="1050.5" y1="697.9" x2="1050.5" y2="692.9" stroke="#b2dfdb" stroke-width="1.5"/>
<line x1="1053.5" y1="697.9" x2="1053.5" y2="696.3" stroke="#b2dfdb" stroke-width="1.5"/>
<line x1="1056.5" y1="697.9" x2="1056.5" y2="697.1" stroke="#b2dfdb" stroke-width="1.5"/>
<line x1="1059.5" y1="697.9" x2="1059.5" y2="697.0" stroke="#26a69a" stroke-width="1.5"/>
<line x1="1062.5" y1="697.9" x2="1062.5" y2="696.5" stroke="#26a69a" stroke-width="1.5"/>
<line x1="1065.5" y1="697.9" x2="1065.5" y2="699.8" stroke="#ff5252" stroke-width="1.5"/>
<line x1="1068.5" y1="697.9" x2="1068.5" y2="706.3" stroke="#ff5252" stroke-width="1.5"/>
<line x1="1072.5" y1="697.9" x2="1072.5" y2="707.5" stroke="#ff5252" stroke-width="1.5"/>
<line x1="1075.5" y1="697.9" x2="1075.5" y2="710.0" stroke="#ff5252" stroke-width="1.5"/>
<line x1="1078.5" y1="697.9" x2="1078.5" y2="708.8" stroke="#ffcdd2" stroke-width="1.5"/>
<line x1="1081.5" y1="697.9" x2="1081.5" y2="708.2" stroke="#ffcdd2" stroke-width="1.5"/>
<line x1="1084.5" y1="697.9" x2="1084.5" y2="704.8" stroke="#ffcdd2" stroke-width="1.5"/>
<line x1="1087.5" y1="697.9" x2="1087.5" y2="700.8" stroke="#ffcdd2" stroke-width="1.5"/>
<line x1="1090.5" y1="697.9" x2="1090.5" y2="700.6" stroke="#ffcdd2" stroke-width="1.5"/>
<line x1="1093.5" y1="697.9" x2="1093.5" y2="701.4" stroke="#ff5252" stroke-width="1.5"/>
<line x1="1096.5" y1="697.9" x2="1096.5" y2="703.1" stroke="#ff5252" stroke-width="1.5"/>
<line x1="1099.5" y1="697.9" x2="1099.5" y2="708.4" stroke="#ff5252" stroke-width="1.5"/>
<line x1="1102.5" y1="697.9" x2="1102.5" y2="709.9" stroke="#ff5252" stroke-width="1.5"/>
<line x1="1105.5" y1="697.9" x2="1105.5" y2="711.1" stroke="#ff5252" stroke-width="1.5"/>
<line x1="1109.5" y1="697.9" x2="1109.5" y2="712.6" stroke="#ff5252" stroke-width="1.5"/>
<line x1="1112.5" y1="697.9" x2="1112.5" y2="711.7" stroke="#ffcdd2" stroke-width="1.5"/>
<line x1="1115.5" y1="697.9" x2="1115.5" y2="711.2" stroke="#ffcdd2" stroke-width="1.5"/>
<line x1="1118.5" y1="697.9" x2="1118.5" y2="714.3" stroke="#ff5252" stroke-width="1.5"/>
<line x1="1121.5" y1="697.9" x2="1121.5" y2="716.2" stroke="#ff5252" stroke-width="1.5"/>
<line x1="1124.5" y1="697.9" x2="1124.5" y2="716.3" stroke="#ff5252" stroke-width="1.5"/>
<line x1="1127.5" y1="697.9" x2="1127.5" y2="712.8" stroke="#ffcdd2" stroke-width="1.5"/>
<line x1="1130.5" y1="697.9" x2="1130.5" y2="707.8" stroke="#ffcdd2" stroke-width="1.5"/>
<line x1="1133.5" y1="697.9" x2="1133.5" y2="704.4" stroke="#ffcdd2" stroke-width="1.5"/>
<line x1="1136.5" y1="697.9" x2="1136.5" y2="698.3" stroke="#ffcdd2" stroke-width="1.5"/>
<line x1="1139.5" y1="697.9" x2="1139.5" y2="693.0" stroke="#26a69a" stroke-width="1.5"/>
<line x1="1142.5" y1="697.9" x2="1142.5" y2="689.7" stroke="#26a69a" stroke-width="1.5"/>
<line x1="1146.5" y1="697.9" x2="1146.5" y2="687.4" stroke="#26a69a" stroke-width="1.5"/>
<line x1="1149.5" y1="697.9" x2="1149.5" y2="686.3" stroke="#26a69a" stroke-width="1.5"/>
<line x1="1152.5" y1="697.9" x2="1152.5" y2="689.4" stroke="#b2dfdb" stroke-width="1.5"/>
<line x1="1155.5" y1="697.9" x2="1155.5" y2="686.6" stroke="#26a69a" stroke-width="1.5"/>
<line x1="1158.5" y1="697.9" x2="1158.5" y2="682.9" stroke="#26a69a" stroke-width="1.5"/>
<line x1="1161.5" y1="697.9" x2="1161.5" y2="682.1" stroke="#26a69a" stroke-width="1.5"/>
<line x1="1164.5" y1="697.9" x2="1164.5" y2="684.5" stroke="#b2dfdb" stroke-width="1.5"/>
<line x1="1167.5" y1="697.9" x2="1167.5" y2="686.3" stroke="#b2dfdb" stroke-width="1.5"/>
<line x1="1170.5" y1="697.9" x2="1170.5" y2="686.5" stroke="#b2dfdb" stroke-width="1.5"/>
<line x1="1173.5" y1="697.9" x2="1173.5" y2="686.6" stroke="#b2dfdb" stroke-width="1.5"/>
<line x1="1176.5" y1="697.9" x2="1176.5" y2="685.0" stroke="#26a69a" stroke-width="1.5"/>
<line x1="1179.5" y1="697.9" x2="1179.5" y2="685.0" stroke="#26a69a" stroke-width="1.5"/>
<line x1="1183.5" y1="697.9" x2="1183.5" y2="684.9" stroke="#26a69a" stroke-width="1.5"/>
<line x1="1186.5" y1="697.9" x2="1186.5" y2="687.2" stroke="#b2dfdb" stroke-width="1.5"/>
<line x1="1189.5" y1="697.9" x2="1189.5" y2="689.0" stroke="#b2dfdb" stroke-width="1.5"/>
<line x1="1192.5" y1="697.9" x2="1192.5" y2="692.3" stroke="#b2dfdb" stroke-width="1.5"/>
<line x1="1195.5" y1="697.9" x2="1195.5" y2="696.0" stroke="#b2dfdb" stroke-width="1.5"/>
<line x1="1198.5" y1="697.9" x2="1198.5" y2="696.9" stroke="#b2dfdb" stroke-width="1.5"/>
<line x1="1201.5" y1="697.9" x2="1201.5" y2="698.9" stroke="#ff5252" stroke-width="1.5"/>
<line x1="1204.5" y1="697.9" x2="1204.5" y2="700.4" stroke="#ff5252" stroke-width="1.5"/>
<line x1="1207.5" y1="697.9" x2="1207.5" y2="698.6" stroke="#ffcdd2" stroke-width="1.5"/>
<polyline points="14.6,607.6 17.7,609.6 20.8,611.6 23.8,613.8 26.9,616.0 30.0,618.7 33.1,621.7 36.2,624.2 39.3,626.9 42.3,629.1 45.4,631.0 48.5,632.4 51.6,634.5 54.7,637.2 57.8,639.3 60.8,641.3 63.9,642.9 67.0,644.2 70.1,644.8 73.2,644.7 76.3,644.1 79.3,644.9 82.4,647.2 85.5,650.3 88.6,654.1 91.7,658.6 94.8,663.6 97.8,667.7 100.9,671.0 104.0,674.5 107.1,678.4 110.2,682.1 113.3,685.9 116.3,689.8 119.4,693.4 122.5,696.4 125.6,698.3 128.7,699.2 131.7,699.3 134.8,698.9 137.9,697.4 141.0,696.4 144.1,696.2 147.2,697.2 150.2,698.3 153.3,699.5 156.4,700.6 159.5,701.7 162.6,702.3 165.7,701.5 168.7,700.0 171.8,697.2 174.9,693.7 178.0,690.6 181.1,687.8 184.2,684.4 187.2,681.4 190.3,678.8 193.4,676.4 196.5,674.4 199.6,673.2 202.7,672.8 205.7,673.2 208.8,673.5 211.9,673.5 215.0,674.0 218.1,675.3 221.2,677.6 224.2,679.8 227.3,682.5 230.4,685.8 233.5,689.3 236.6,692.8 239.7,696.1 242.7,699.1 245.8,701.6 248.9,704.0 252.0,705.6 255.1,707.1 258.2,708.1 261.2,708.7 264.3,709.3 267.4,710.0 270.5,710.7 273.6,711.1 276.6,710.8 279.7,710.7 282.8,710.5 285.9,710.3 289.0,711.2 292.1,713.4 295.1,717.2 298.2,721.8 301.3,726.5 304.4,730.7 307.5,732.3 310.6,734.0 313.6,735.4 316.7,735.6 319.8,735.2 322.9,735.0 326.0,735.0 329.1,736.3 332.1,738.8 335.2,740.8 338.3,742.2 341.4,743.5 344.5,743.9 347.6,743.6 350.6,743.2 353.7,742.3 356.8,741.3 359.9,739.2 363.0,737.2 366.1,735.1 369.1,733.2 372.2,730.8 375.3,727.9 378.4,724.7 381.5,721.6 384.6,718.6 387.6,716.4 390.7,715.2 393.8,714.7 396.9,714.6 400.0,714.1 403.1,713.9 406.1,713.8 409.2,713.5 412.3,713.2 415.4,714.0 418.5,715.3 421.6,717.4 424.6,718.4 427.7,719.4 430.8,719.3 433.9,718.1 437.0,716.5 440.0,714.6 443.1,712.7 446.2,710.9 449.3,708.9 452.4,707.0 455.5,705.1 458.5,703.3 461.6,701.0 464.7,697.3 467.8,692.7 470.9,687.8 474.0,682.8 477.0,678.0 480.1,674.0 483.2,670.3 486.3,667.3 489.4,664.9 492.5,662.7 495.5,660.6 498.6,659.0 501.7,658.3 504.8,658.2 507.9,658.1 511.0,657.9 514.0,656.5 517.1,654.4 520.2,651.8 523.3,649.2 526.4,647.2 529.5,645.4 532.5,644.2 535.6,643.4 538.7,643.1 541.8,643.4 544.9,643.4 548.0,643.5 551.0,643.5 554.1,642.9 557.2,641.6 560.3,641.1 563.4,641.2 566.5,641.4 569.5,641.8 572.6,642.4 575.7,643.6 578.8,645.8 581.9,648.8 585.0,652.3 588.0,655.7 591.1,659.0 594.2,662.1 597.3,665.3 600.4,669.1 603.4,672.6 606.5,675.5 609.6,677.7 612.7,678.6 615.8,678.5 618.9,678.2 621.9,678.7 625.0,679.4 628.1,680.5 631.2,681.8 634.3,682.9 637.4,684.4 640.4,685.9 643.5,687.6 646.6,689.5 649.7,691.8 652.8,694.5 655.9,696.3 658.9,697.2 662.0,697.4 665.1,697.0 668.2,696.4 671.3,695.6 674.4,694.4 677.4,693.4 680.5,692.9 683.6,692.0 686.7,690.7 689.8,689.7 692.9,688.9 695.9,687.9 699.0,687.3 702.1,686.7 705.2,685.7 708.3,683.3 711.4,680.0 714.4,676.2 717.5,672.1 720.6,667.9 723.7,664.3 726.8,661.2 729.9,658.5 732.9,656.7 736.0,655.5 739.1,655.1 742.2,655.2 745.3,655.1 748.3,655.4 751.4,656.0 754.5,657.0 757.6,658.3 760.7,659.5 763.8,660.8 766.8,662.4 769.9,664.1 773.0,666.4 776.1,669.5 779.2,673.3 782.3,676.9 785.3,680.1 788.4,683.1 791.5,685.7 794.6,687.3 797.7,688.4 800.8,689.3 803.8,689.3 806.9,688.9 810.0,688.0 813.1,686.1 816.2,684.8 819.3,684.3 822.3,684.3 825.4,684.6 828.5,685.5 831.6,687.4 834.7,689.6 837.8,692.3 840.8,694.1 843.9,695.7 847.0,697.4 850.1,700.0 853.2,702.6 856.3,705.1 859.3,707.2 862.4,709.8 865.5,712.4 868.6,715.1 871.7,717.4 874.8,718.8 877.8,719.4 880.9,719.6 884.0,719.6 887.1,719.5 890.2,719.1 893.2,718.2 896.3,717.2 899.4,715.5 902.5,713.1 905.6,710.2 908.7,707.2 911.7,704.3 914.8,701.7 917.9,699.1 921.0,696.6 924.1,694.2 927.2,692.4 930.2,691.0 933.3,690.0 936.4,690.0 939.5,690.8 942.6,691.7 945.7,693.7 948.7,696.1 951.8,698.6 954.9,700.6 958.0,701.5 961.1,701.8 964.2,700.6 967.2,698.1 970.3,694.6 973.4,690.5 976.5,686.0 979.6,681.3 982.7,677.6 985.7,674.2 988.8,671.6 991.9,671.8 995.0,674.3 998.1,677.1 1001.2,680.0 1004.2,683.3 1007.3,687.3 1010.4,692.1 1013.5,697.6 1016.6,703.1 1019.7,707.9 1022.7,711.6 1025.8,714.8 1028.9,717.8 1032.0,719.8 1035.1,720.8 1038.2,721.0 1041.2,719.9 1044.3,718.1 1047.4,716.2 1050.5,715.0 1053.6,714.5 1056.6,714.3 1059.7,714.1 1062.8,713.8 1065.9,714.2 1069.0,716.3 1072.1,718.7 1075.1,721.7 1078.2,724.5 1081.3,727.0 1084.4,728.8 1087.5,729.5 1090.6,730.2 1093.6,731.1 1096.7,732.4 1099.8,735.0 1102.9,738.0 1106.0,741.3 1109.1,745.0 1112.1,748.4 1115.2,751.7 1118.3,755.8 1121.4,760.4 1124.5,765.0 1127.6,768.7 1130.6,771.2 1133.7,772.8 1136.8,772.9 1139.9,771.7 1143.0,769.6 1146.1,767.0 1149.1,764.1 1152.2,762.0 1155.3,759.2 1158.4,755.5 1161.5,751.5 1164.6,748.1 1167.6,745.2 1170.7,742.4 1173.8,739.6 1176.9,736.4 1180.0,733.1 1183.1,729.9 1186.1,727.2 1189.2,725.0 1192.3,723.6 1195.4,723.1 1198.5,722.9 1201.5,723.1 1204.6,723.7 1207.7,723.9" fill="none" stroke="#f23645" stroke-width="1.5" stroke-linejoin="round" stroke-linecap="round"/>
<polyline points="14.6,614.4 17.7,617.8 20.8,619.3 23.8,622.5 26.9,625.0 30.0,629.4 33.1,633.6 36.2,634.5 39.3,637.8 42.3,637.8 45.4,638.5 48.5,638.1 51.6,643.0 54.7,648.2 57.8,647.6 60.8,649.1 63.9,649.1 67.0,649.7 70.1,647.2 73.2,644.0 76.3,641.9 79.3,647.9 82.4,656.3 85.5,663.0 88.6,669.2 91.7,676.7 94.8,683.3 97.8,684.2 100.9,684.3 104.0,688.7 107.1,693.8 110.2,696.8 113.3,701.1 116.3,705.5 119.4,707.9 122.5,708.4 125.6,706.0 128.7,702.6 131.7,699.8 134.8,697.4 137.9,691.1 141.0,692.3 144.1,695.5 147.2,701.0 150.2,702.7 153.3,704.2 156.4,705.3 159.5,706.2 162.6,704.4 165.7,698.3 168.7,694.1 171.8,686.1 174.9,679.6 178.0,678.3 181.1,676.5 184.2,670.8 187.2,669.4 190.3,668.4 193.4,666.9 196.5,666.2 199.6,668.5 202.7,671.2 205.7,674.6 208.8,674.6 211.9,673.8 215.0,676.1 218.1,680.2 221.2,687.0 224.2,688.3 227.3,693.5 230.4,699.0 233.5,703.3 236.6,706.7 239.7,709.3 242.7,711.2 245.8,711.5 248.9,713.4 252.0,712.4 255.1,712.9 258.2,712.0 261.2,711.1 264.3,711.9 267.4,712.8 270.5,713.4 273.6,712.6 276.6,709.9 279.7,710.2 282.8,709.7 285.9,709.6 289.0,714.7 292.1,722.0 295.1,732.7 298.2,739.9 301.3,745.5 304.4,747.4 307.5,738.8 310.6,740.9 313.6,740.8 316.7,736.4 319.8,733.4 322.9,734.2 326.0,735.1 329.1,741.7 332.1,748.8 335.2,748.9 338.3,747.4 341.4,748.7 344.5,745.8 347.6,742.5 350.6,741.5 353.7,738.6 356.8,737.3 359.9,731.1 363.0,728.9 366.1,726.9 369.1,725.4 372.2,721.3 375.3,716.2 378.4,712.0 381.5,709.2 384.6,706.5 387.6,707.6 390.7,710.3 393.8,712.7 396.9,714.1 400.0,712.0 403.1,713.3 406.1,713.3 409.2,712.3 412.3,711.9 415.4,717.3 418.5,720.4 421.6,725.9 424.6,722.6 427.7,723.2 430.8,718.9 433.9,713.2 437.0,710.3 440.0,706.9 443.1,705.3 446.2,703.5 449.3,700.9 452.4,699.5 455.5,697.5 458.5,695.9 461.6,692.0 464.7,682.2 467.8,674.3 470.9,668.2 474.0,662.8 477.0,659.1 480.1,657.6 483.2,655.5 486.3,655.2 489.4,655.5 492.5,653.7 495.5,652.2 498.6,652.8 501.7,655.7 504.8,657.7 507.9,657.4 511.0,657.4 514.0,650.7 517.1,646.2 520.2,641.2 523.3,638.8 526.4,639.0 529.5,638.4 532.5,639.2 535.6,640.3 538.7,642.1 541.8,644.6 544.9,643.3 548.0,643.9 551.0,643.5 554.1,640.6 557.2,636.6 560.3,639.2 563.4,641.4 566.5,642.4 569.5,643.2 572.6,645.1 575.7,648.5 578.8,654.2 581.9,661.1 585.0,666.2 588.0,669.4 591.1,671.9 594.2,674.7 597.3,678.0 600.4,684.5 603.4,686.5 606.5,686.8 609.6,686.9 612.7,681.9 615.8,678.1 618.9,677.3 621.9,680.3 625.0,682.4 628.1,685.0 631.2,687.0 634.3,687.3 637.4,690.2 640.4,692.2 643.5,694.1 646.6,697.2 649.7,701.0 652.8,705.2 655.9,703.4 658.9,701.1 662.0,697.8 665.1,695.7 668.2,693.9 671.3,692.2 674.4,689.8 677.4,689.4 680.5,690.8 683.6,688.4 686.7,685.7 689.8,685.6 692.9,685.4 695.9,684.3 699.0,684.6 702.1,684.3 705.2,681.5 708.3,674.0 711.4,666.6 714.4,661.3 717.5,655.6 720.6,650.8 723.7,650.0 726.8,648.8 729.9,647.9 732.9,649.2 736.0,650.8 739.1,653.3 742.2,655.6 745.3,655.0 748.3,656.3 751.4,658.3 754.5,661.2 757.6,663.6 760.7,664.0 763.8,666.4 766.8,668.7 769.9,670.9 773.0,675.4 776.1,682.0 779.2,688.3 782.3,691.3 785.3,692.8 788.4,695.1 791.5,696.0 794.6,693.7 797.7,693.0 800.8,692.7 803.8,689.2 806.9,687.4 810.0,684.3 813.1,678.5 816.2,679.9 819.3,682.3 822.3,684.3 825.4,686.0 828.5,688.9 831.6,695.1 834.7,698.4 837.8,703.0 840.8,701.5 843.9,701.9 847.0,704.5 850.1,710.3 853.2,712.8 856.3,715.2 859.3,715.4 862.4,720.1 865.5,723.1 868.6,725.8 871.7,726.5 874.8,724.3 877.8,721.8 880.9,720.7 884.0,719.6 887.1,719.1 890.2,717.3 893.2,714.7 896.3,713.0 899.4,708.8 902.5,703.5 905.6,698.7 908.7,695.0 911.7,692.9 914.8,691.3 917.9,688.4 921.0,686.7 924.1,684.7 927.2,685.0 930.2,685.3 933.3,686.2 936.4,690.0 939.5,693.9 942.6,695.4 945.7,701.6 948.7,705.7 951.8,708.8 954.9,708.2 958.0,705.2 961.1,703.0 964.2,695.9 967.2,688.2 970.3,680.3 973.4,674.1 976.5,668.2 979.6,662.6 982.7,662.5 985.7,660.5 988.8,661.3 991.9,672.7 995.0,684.3 998.1,688.5 1001.2,691.6 1004.2,696.6 1007.3,703.3 1010.4,711.4 1013.5,719.6 1016.6,724.9 1019.7,727.1 1022.7,726.3 1025.8,727.9 1028.9,729.7 1032.0,727.9 1035.1,725.0 1038.2,721.7 1041.2,715.5 1044.3,710.9 1047.4,708.6 1050.5,710.0 1053.6,712.9 1056.6,713.5 1059.7,713.3 1062.8,712.4 1065.9,716.1 1069.0,724.7 1072.1,728.3 1075.1,733.8 1078.2,735.4 1081.3,737.4 1084.4,735.7 1087.5,732.4 1090.6,732.9 1093.6,734.5 1096.7,737.6 1099.8,745.5 1102.9,749.9 1106.0,754.5 1109.1,759.7 1112.1,762.2 1115.2,765.1 1118.3,772.2 1121.4,778.8 1124.5,783.4 1127.6,783.6 1130.6,781.1 1133.7,779.3 1136.8,773.3 1139.9,766.8 1143.0,761.4 1146.1,756.6 1149.1,752.6 1152.2,753.6 1155.3,747.9 1158.4,740.4 1161.5,735.7 1164.6,734.7 1167.6,733.6 1170.7,731.0 1173.8,728.3 1176.9,723.5 1180.0,720.2 1183.1,716.8 1186.1,716.5 1189.2,716.1 1192.3,717.9 1195.4,721.2 1198.5,721.9 1201.5,724.1 1204.6,726.2 1207.7,724.6" fill="none" stroke="#2962ff" stroke-width="1.5" stroke-linejoin="round" stroke-linecap="round"/>
</g>
<text x="26.0" y="646.5" font-size="16" fill="#131722" stroke="#131722" stroke-width="0.2" font-weight="normal" text-anchor="start" textLength="168.0" lengthAdjust="spacing">MACD (12, 26, close)</text>
<text x="206.0" y="646.5" font-size="16" fill="#ffcdd2" stroke="#ffcdd2" stroke-width="0.2" font-weight="normal" text-anchor="start" textLength="56.5" lengthAdjust="spacing">−43.45</text>
<text x="274.0" y="646.5" font-size="16" fill="#2962ff" stroke="#2962ff" stroke-width="0.2" font-weight="normal" text-anchor="start" textLength="74.5" lengthAdjust="spacing">−1,834.11</text>
<text x="359.0" y="646.5" font-size="16" fill="#f23645" stroke="#f23645" stroke-width="0.2" font-weight="normal" text-anchor="start" textLength="78.5" lengthAdjust="spacing">−1,790.65</text>
<g clip-path="url(#ca2)">
<text x="1412.0" y="644.2" font-size="16" fill="#131722" stroke="#131722" stroke-width="0.2" font-weight="normal" text-anchor="start" textLength="73.4" lengthAdjust="spacing">4,000.00</text>
<text x="1412.0" y="763.2" font-size="16" fill="#131722" stroke="#131722" stroke-width="0.2" font-weight="normal" text-anchor="start" textLength="83.0" lengthAdjust="spacing">−4,000.00</text>
<path d="M1400 686.8H1476.5Q1479 686.8 1479 689.3V707.7Q1479 710.2 1476.5 710.2H1400Z" fill="#ffcdd2"/>
<text x="1412.0" y="704.1" font-size="16" fill="#131722" stroke="#131722" stroke-width="0.2" font-weight="normal" text-anchor="start" textLength="58.0" lengthAdjust="spacing">−43.45</text>
<path d="M1400 711.2H1503.5Q1506 711.2 1506 713.7V732.5Q1506 735.0 1503.5 735.0H1400Z" fill="#f23645"/>
<text x="1412.0" y="728.7" font-size="16" fill="#fff" stroke="#fff" stroke-width="0.2" font-weight="normal" text-anchor="start" textLength="84.0" lengthAdjust="spacing">−1,790.65</text>
<path d="M1400 736.0H1503.5Q1506 736.0 1506 738.5V757.5Q1506 760.0 1503.5 760.0H1400Z" fill="#2962ff"/>
<text x="1412.0" y="753.6" font-size="16" fill="#fff" stroke="#fff" stroke-width="0.2" font-weight="normal" text-anchor="start" textLength="84.0" lengthAdjust="spacing">−1,834.11</text>
</g>
<g clip-path="url(#cr)">
<rect x="14" y="823.3" width="1385.5" height="74.5" fill="#7e57c2" fill-opacity="0.1"/>
<line x1="14" y1="823.3" x2="1399" y2="823.3" stroke="#787b86" stroke-width="1.2" stroke-dasharray="7 9.6"/>
<line x1="14" y1="853.4" x2="1399" y2="853.4" stroke="#b2b5be" stroke-width="1.2" stroke-dasharray="7 9.6"/>
<line x1="14" y1="897.8" x2="1399" y2="897.8" stroke="#787b86" stroke-width="1.2" stroke-dasharray="7 9.6"/>
<polyline points="14.6,817.5 17.7,818.3 20.8,819.1 23.8,820.0 26.9,820.7 30.0,821.7 33.1,823.0 36.2,824.0 39.3,825.8 42.3,827.3 45.4,828.3 48.5,829.2 51.6,829.8 54.7,830.3 57.8,830.6 60.8,831.1 63.9,831.6 67.0,831.8 70.1,831.7 73.2,831.1 76.3,830.4 79.3,831.6 82.4,833.0 85.5,834.7 88.6,836.5 91.7,839.0 94.8,840.5 97.8,841.0 100.9,842.1 104.0,843.7 107.1,845.9 110.2,847.9 113.3,850.9 116.3,854.4 119.4,857.8 122.5,858.9 125.6,858.6 128.7,858.1 131.7,857.4 134.8,856.2 137.9,853.8 141.0,854.2 144.1,855.2 147.2,855.8 150.2,855.5 153.3,855.5 156.4,855.1 159.5,854.5 162.6,853.5 165.7,851.9 168.7,851.2 171.8,850.0 174.9,848.7 178.0,848.4 181.1,848.9 184.2,847.1 187.2,845.7 190.3,843.7 193.4,842.1 196.5,840.6 199.6,839.6 202.7,838.8 205.7,838.7 208.8,838.9 211.9,838.8 215.0,840.0 218.1,841.7 221.2,843.3 224.2,844.2 227.3,846.5 230.4,848.5 233.5,850.5 236.6,852.8 239.7,855.1 242.7,856.8 245.8,857.9 248.9,859.4 252.0,860.7 255.1,862.7 258.2,863.6 261.2,863.9 264.3,863.8 267.4,865.0 270.5,865.3 273.6,864.8 276.6,863.6 279.7,863.2 282.8,862.6 285.9,862.2 289.0,863.6 292.1,865.3 295.1,868.7 298.2,871.4 301.3,874.8 304.4,877.3 307.5,876.0 310.6,876.5 313.6,876.7 316.7,876.4 319.8,877.3 322.9,877.8 326.0,878.7 329.1,880.6 332.1,881.0 335.2,879.1 338.3,876.2 341.4,874.2 344.5,871.4 347.6,869.4 350.6,870.9 353.7,870.1 356.8,869.9 359.9,869.4 363.0,869.4 366.1,868.8 369.1,868.2 372.2,865.9 375.3,863.1 378.4,861.5 381.5,860.2 384.6,858.4 387.6,858.2 390.7,858.4 393.8,858.4 396.9,858.7 400.0,857.9 403.1,858.7 406.1,858.8 409.2,858.6 412.3,858.5 415.4,860.3 418.5,862.2 421.6,864.7 424.6,865.1 427.7,866.3 430.8,865.6 433.9,864.0 437.0,862.8 440.0,861.4 443.1,861.3 446.2,860.2 449.3,859.2 452.4,858.6 455.5,857.7 458.5,855.5 461.6,853.0 464.7,848.9 467.8,846.5 470.9,843.7 474.0,841.6 477.0,839.9 480.1,838.2 483.2,836.5 486.3,835.0 489.4,833.5 492.5,831.9 495.5,830.1 498.6,828.8 501.7,828.2 504.8,827.9 507.9,828.0 511.0,828.2 514.0,827.5 517.1,826.9 520.2,826.2 523.3,825.5 526.4,825.3 529.5,824.8 532.5,824.4 535.6,824.4 538.7,824.6 541.8,824.5 544.9,823.3 548.0,822.6 551.0,822.1 554.1,821.3 557.2,821.0 560.3,822.0 563.4,823.2 566.5,823.9 569.5,824.2 572.6,824.7 575.7,825.5 578.8,826.8 581.9,828.6 585.0,830.0 588.0,831.8 591.1,833.3 594.2,835.1 597.3,837.6 600.4,841.5 603.4,842.9 606.5,844.1 609.6,845.5 612.7,845.8 615.8,846.0 618.9,846.3 621.9,846.8 625.0,846.6 628.1,846.9 631.2,847.4 634.3,847.5 637.4,848.2 640.4,848.6 643.5,848.0 646.6,848.7 649.7,850.3 652.8,852.2 655.9,853.7 658.9,855.0 662.0,855.3 665.1,854.7 668.2,854.2 671.3,853.4 674.4,852.3 677.4,852.2 680.5,851.9 683.6,850.7 686.7,849.1 689.8,847.9 692.9,846.2 695.9,843.9 699.0,843.5 702.1,843.2 705.2,842.5 708.3,840.7 711.4,838.8 714.4,837.1 717.5,835.4 720.6,833.2 723.7,831.4 726.8,830.4 729.9,829.4 732.9,828.4 736.0,827.4 739.1,827.0 742.2,826.2 745.3,825.1 748.3,824.9 751.4,825.7 754.5,827.0 757.6,828.2 760.7,829.2 763.8,830.9 766.8,831.9 769.9,833.1 773.0,835.2 776.1,837.6 779.2,840.3 782.3,842.2 785.3,843.8 788.4,846.3 791.5,848.1 794.6,848.8 797.7,849.4 800.8,850.3 803.8,850.6 806.9,850.6 810.0,850.1 813.1,848.8 816.2,848.4 819.3,847.3 822.3,846.0 825.4,845.4 828.5,845.6 831.6,846.3 834.7,846.9 837.8,848.8 840.8,849.1 843.9,849.7 847.0,851.7 850.1,854.3 853.2,856.8 856.3,860.4 859.3,861.6 862.4,863.5 865.5,865.2 868.6,867.2 871.7,868.3 874.8,867.4 877.8,867.1 880.9,866.4 884.0,867.4 887.1,868.2 890.2,867.9 893.2,866.3 896.3,865.6 899.4,863.7 902.5,861.8 905.6,858.9 908.7,856.2 911.7,853.7 914.8,851.7 917.9,849.8 921.0,848.3 924.1,846.3 927.2,845.1 930.2,843.7 933.3,842.9 936.4,843.4 939.5,844.0 942.6,844.8 945.7,847.4 948.7,850.0 951.8,852.5 954.9,853.7 958.0,854.1 961.1,855.2 964.2,854.7 967.2,854.0 970.3,852.3 973.4,850.5 976.5,848.4 979.6,845.1 982.7,842.9 985.7,840.9 988.8,838.3 991.9,837.9 995.0,837.9 998.1,837.9 1001.2,838.5 1004.2,839.4 1007.3,841.9 1010.4,845.2 1013.5,849.2 1016.6,853.2 1019.7,857.2 1022.7,861.1 1025.8,864.0 1028.9,867.7 1032.0,870.0 1035.1,869.2 1038.2,867.8 1041.2,866.7 1044.3,865.9 1047.4,865.0 1050.5,864.5 1053.6,863.8 1056.6,862.4 1059.7,861.2 1062.8,860.2 1065.9,860.9 1069.0,862.0 1072.1,862.2 1075.1,863.7 1078.2,864.8 1081.3,866.4 1084.4,868.0 1087.5,869.1 1090.6,870.5 1093.6,871.4 1096.7,872.3 1099.8,874.6 1102.9,876.7 1106.0,879.4 1109.1,881.2 1112.1,881.5 1115.2,883.0 1118.3,884.8 1121.4,887.8 1124.5,890.6 1127.6,893.4 1130.6,896.1 1133.7,898.1 1136.8,898.1 1139.9,897.1 1143.0,895.0 1146.1,893.5 1149.1,891.8 1152.2,891.0 1155.3,888.3 1158.4,884.7 1161.5,880.7 1164.6,877.5 1167.6,874.4 1170.7,871.9 1173.8,869.9 1176.9,867.1 1180.0,865.8 1183.1,864.6 1186.1,863.9 1189.2,863.3 1192.3,863.2 1195.4,862.6 1198.5,863.1 1201.5,864.7 1204.6,866.1 1207.7,865.8" fill="none" stroke="#fdd835" stroke-width="1.4" stroke-linejoin="round" stroke-linecap="round"/>
<polyline points="14.6,827.6 17.7,828.4 20.8,825.3 23.8,829.1 26.9,827.6 30.0,832.8 33.1,832.6 36.2,827.0 39.3,833.4 42.3,827.6 45.4,827.4 48.5,825.0 51.6,839.8 54.7,842.2 57.8,831.6 60.8,835.6 63.9,832.3 67.0,832.5 70.1,826.4 73.2,823.8 76.3,823.6 79.3,845.3 82.4,854.2 85.5,853.2 88.6,854.8 91.7,862.3 94.8,863.6 97.8,848.9 100.9,846.5 104.0,859.5 107.1,864.3 110.2,860.0 113.3,866.4 116.3,869.5 119.4,865.4 122.5,860.0 125.6,850.5 128.7,846.3 131.7,845.9 134.8,845.4 137.9,833.5 141.0,853.6 144.1,860.1 147.2,868.9 150.2,859.5 153.3,860.0 156.4,860.2 159.5,860.4 162.6,851.4 165.7,838.7 168.7,840.8 171.8,831.0 174.9,830.3 178.0,841.7 181.1,839.4 184.2,830.8 187.2,838.8 190.3,838.2 193.4,836.2 196.5,836.6 199.6,844.8 202.7,847.0 205.7,850.1 208.8,841.7 211.9,838.7 215.0,848.2 218.1,855.4 221.2,866.8 224.2,851.8 227.3,863.8 230.4,867.8 233.5,868.0 236.6,868.2 239.7,868.4 242.7,868.4 245.8,862.7 248.9,870.3 252.0,858.3 255.1,864.1 258.2,858.9 261.2,858.7 264.3,865.8 267.4,867.6 270.5,868.1 273.6,861.3 276.6,851.3 279.7,862.9 282.8,860.1 285.9,861.8 289.0,885.9 292.1,899.2 295.1,917.4 298.2,910.5 301.3,911.9 304.4,894.0 307.5,851.0 310.6,874.5 313.6,870.1 316.7,858.7 319.8,860.7 322.9,869.3 326.0,871.0 329.1,886.3 332.1,891.8 335.2,872.2 338.3,869.2 341.4,876.1 344.5,865.1 347.6,863.9 350.6,868.9 353.7,863.6 356.8,867.4 359.9,853.3 363.0,860.8 366.1,861.1 369.1,862.0 372.2,854.0 375.3,849.5 378.4,849.9 381.5,851.6 384.6,850.6 387.6,861.3 390.7,868.0 393.8,868.9 396.9,867.8 400.0,855.0 403.1,865.5 406.1,862.0 409.2,858.7 412.3,860.4 415.4,881.2 418.5,876.4 421.6,887.3 424.6,856.2 427.7,865.6 430.8,852.7 433.9,847.6 437.0,852.2 440.0,849.7 443.1,852.7 446.2,851.4 449.3,848.5 452.4,850.3 455.5,848.0 458.5,847.7 461.6,840.0 464.7,826.8 467.8,826.4 470.9,825.9 474.0,824.6 477.0,824.8 480.1,828.8 483.2,826.0 486.3,829.5 489.4,829.7 492.5,824.4 495.5,823.5 498.6,828.8 501.7,836.9 504.8,835.1 507.9,829.1 511.0,828.5 514.0,816.6 517.1,817.9 520.2,815.3 523.3,818.4 526.4,824.2 529.5,821.8 532.5,824.6 535.6,824.0 538.7,825.6 541.8,827.5 544.9,819.9 548.0,824.4 551.0,821.6 554.1,816.7 557.2,813.9 560.3,832.5 563.4,831.4 566.5,828.6 569.5,827.6 572.6,829.9 575.7,835.3 578.8,845.5 581.9,853.0 585.0,850.1 588.0,845.7 591.1,844.9 594.2,847.2 597.3,851.0 600.4,867.6 603.4,852.4 606.5,847.1 609.6,846.5 612.7,832.1 615.8,832.0 618.9,839.3 621.9,852.2 625.0,850.6 628.1,853.5 631.2,852.8 634.3,847.1 637.4,857.9 640.4,856.3 643.5,857.3 646.6,864.4 649.7,870.7 652.8,876.8 655.9,850.5 658.9,847.6 662.0,842.8 665.1,844.5 668.2,844.1 671.3,843.0 674.4,838.6 677.4,845.4 680.5,853.5 683.6,839.6 686.7,837.0 689.8,845.1 692.9,844.2 695.9,840.1 699.0,845.3 702.1,842.4 705.2,833.6 708.3,822.3 711.4,819.6 714.4,820.3 717.5,817.5 720.6,816.3 723.7,826.2 726.8,824.3 729.9,823.1 732.9,829.5 736.0,829.8 739.1,833.0 742.2,832.5 745.3,825.1 748.3,831.6 751.4,833.8 754.5,838.1 757.6,836.9 760.7,831.4 763.8,839.3 766.8,840.0 769.9,840.6 773.0,854.1 776.1,868.6 779.2,872.9 782.3,860.4 785.3,855.1 788.4,860.3 791.5,854.8 794.6,842.2 797.7,846.6 800.8,847.7 803.8,835.9 806.9,839.2 810.0,833.9 813.1,825.4 816.2,847.6 819.3,851.6 822.3,851.4 825.4,851.4 828.5,857.2 831.6,872.8 834.7,864.3 837.8,872.0 840.8,850.7 843.9,856.5 847.0,863.8 850.1,876.5 853.2,867.7 856.3,869.6 859.3,863.0 862.4,878.3 865.5,875.9 868.6,878.0 871.7,871.8 874.8,861.3 877.8,859.1 880.9,863.2 884.0,863.4 887.1,865.8 890.2,860.0 893.2,855.1 896.3,857.7 899.4,845.8 902.5,839.9 905.6,837.9 908.7,838.5 911.7,842.1 914.8,841.9 917.9,835.8 921.0,837.9 924.1,835.4 927.2,844.6 930.2,844.1 933.3,847.1 936.4,864.1 939.5,868.2 942.6,858.1 945.7,882.3 948.7,876.6 951.8,876.6 954.9,858.3 958.0,847.4 961.1,848.7 964.2,832.7 967.2,828.0 970.3,824.5 973.4,824.2 976.5,822.1 979.6,819.9 982.7,835.0 985.7,830.1 988.8,837.1 991.9,869.2 995.0,875.7 998.1,858.3 1001.2,857.5 1004.2,864.1 1007.3,871.4 1010.4,879.2 1013.5,884.5 1016.6,880.3 1019.7,872.7 1022.7,864.1 1025.8,871.5 1028.9,874.0 1032.0,862.5 1035.1,858.7 1038.2,856.1 1041.2,846.3 1044.3,847.9 1047.4,852.4 1050.5,863.1 1053.6,869.2 1056.6,863.0 1059.7,860.7 1062.8,858.6 1065.9,874.2 1069.0,891.8 1072.1,877.4 1075.1,885.7 1078.2,874.6 1081.3,878.0 1084.4,866.4 1087.5,861.1 1090.6,870.7 1093.6,875.3 1096.7,881.7 1099.8,897.5 1102.9,891.0 1106.0,895.3 1109.1,901.6 1112.1,895.9 1115.2,900.6 1118.3,916.5 1121.4,921.1 1124.5,922.2 1127.6,902.6 1130.6,891.2 1133.7,894.5 1136.8,874.7 1139.9,870.7 1143.0,872.1 1146.1,872.5 1149.1,874.1 1152.2,890.3 1155.3,862.6 1158.4,854.6 1161.5,859.1 1164.6,868.4 1167.6,868.5 1170.7,863.2 1173.8,862.1 1176.9,853.5 1180.0,856.2 1183.1,854.0 1186.1,863.1 1189.2,863.3 1192.3,872.1 1195.4,879.6 1198.5,870.2 1201.5,877.3 1204.6,880.1 1207.7,863.8" fill="none" stroke="#7e57c2" stroke-width="1.4" stroke-linejoin="round" stroke-linecap="round"/>
</g>
<text x="26.0" y="829.0" font-size="16" fill="#131722" stroke="#131722" stroke-width="0.2" font-weight="normal" text-anchor="start" textLength="114.0" lengthAdjust="spacing">RSI (14, close)</text>
<text x="151.5" y="829.0" font-size="16" fill="#7e57c2" stroke="#7e57c2" stroke-width="0.2" font-weight="normal" text-anchor="start" textLength="46.0" lengthAdjust="spacing">44.32</text>
<text x="207.5" y="829.0" font-size="16" fill="#fdd835" stroke="#fdd835" stroke-width="0.2" font-weight="normal" text-anchor="start" textLength="47.5" lengthAdjust="spacing">43.35</text>
<text x="1412.3" y="823.2" font-size="16" fill="#131722" stroke="#131722" stroke-width="0.2" font-weight="normal" text-anchor="start" textLength="46.6" lengthAdjust="spacing">75.00</text>
<path d="M1400 851.6H1464.8Q1467.3 851.6 1467.3 854.1V872.9Q1467.3 875.4 1464.8 875.4H1400Z" fill="#7e57c2"/>
<text x="1412.0" y="869.1" font-size="16" fill="#fff" stroke="#fff" stroke-width="0.2" font-weight="normal" text-anchor="start" textLength="46.6" lengthAdjust="spacing">44.32</text>
<path d="M1400 876.1H1464.8Q1467.3 876.1 1467.3 878.6V897.4Q1467.3 899.9 1464.8 899.9H1400Z" fill="#fdd835"/>
<text x="1412.0" y="893.6" font-size="16" fill="#131722" stroke="#131722" stroke-width="0.2" font-weight="normal" text-anchor="start" textLength="46.6" lengthAdjust="spacing">43.35</text>
<g clip-path="url(#ct)">
<text x="12.5" y="961.0" font-size="16" fill="#131722" stroke="#131722" stroke-width="0.2" font-weight="normal" text-anchor="start" textLength="30.0" lengthAdjust="spacing">Dec</text>
<text x="100.5" y="961.0" font-size="17" fill="#131722" font-weight="bold" text-anchor="start" textLength="44.5" lengthAdjust="spacingAndGlyphs">2025</text>
<text x="203.5" y="961.0" font-size="16" fill="#131722" stroke="#131722" stroke-width="0.2" font-weight="normal" text-anchor="start" textLength="29.0" lengthAdjust="spacing">Feb</text>
<text x="289.5" y="961.0" font-size="16" fill="#131722" stroke="#131722" stroke-width="0.2" font-weight="normal" text-anchor="start" textLength="29.0" lengthAdjust="spacing">Mar</text>
<text x="386.0" y="961.0" font-size="16" fill="#131722" stroke="#131722" stroke-width="0.2" font-weight="normal" text-anchor="start" textLength="28.0" lengthAdjust="spacing">Apr</text>
<text x="476.0" y="961.0" font-size="16" fill="#131722" stroke="#131722" stroke-width="0.2" font-weight="normal" text-anchor="start" textLength="33.0" lengthAdjust="spacing">May</text>
<text x="574.0" y="961.0" font-size="16" fill="#131722" stroke="#131722" stroke-width="0.2" font-weight="normal" text-anchor="start" textLength="27.5" lengthAdjust="spacing">Jun</text>
<text x="670.0" y="961.0" font-size="16" fill="#131722" stroke="#131722" stroke-width="0.2" font-weight="normal" text-anchor="start" textLength="21.5" lengthAdjust="spacing">Jul</text>
<text x="760.8" y="961.0" font-size="16" fill="#131722" stroke="#131722" stroke-width="0.2" font-weight="normal" text-anchor="start" textLength="30.5" lengthAdjust="spacing">Aug</text>
<text x="856.5" y="961.0" font-size="16" fill="#131722" stroke="#131722" stroke-width="0.2" font-weight="normal" text-anchor="start" textLength="30.0" lengthAdjust="spacing">Sep</text>
<text x="950.0" y="961.0" font-size="16" fill="#131722" stroke="#131722" stroke-width="0.2" font-weight="normal" text-anchor="start" textLength="28.0" lengthAdjust="spacing">Oct</text>
<text x="1043.8" y="961.0" font-size="16" fill="#131722" stroke="#131722" stroke-width="0.2" font-weight="normal" text-anchor="start" textLength="30.5" lengthAdjust="spacing">Nov</text>
<text x="1136.2" y="961.0" font-size="16" fill="#131722" stroke="#131722" stroke-width="0.2" font-weight="normal" text-anchor="start" textLength="31.5" lengthAdjust="spacing">Dec</text>
<text x="1225.5" y="961.0" font-size="17" fill="#131722" font-weight="bold" text-anchor="start" textLength="45.0" lengthAdjust="spacingAndGlyphs">2026</text>
<text x="1328.5" y="961.0" font-size="16" fill="#131722" stroke="#131722" stroke-width="0.2" font-weight="normal" text-anchor="start" textLength="30.0" lengthAdjust="spacing">Feb</text>
</g>
<path d="M16.8 1006H34.4V1026.7H25.5V1013.4H16.8Z" fill="#0c0e15"/>
<circle cx="41.3" cy="1009.7" r="3.7" fill="#0c0e15"/>
<path d="M48.6 1006H59.6L50.7 1026.7H41.7Z" fill="#0c0e15"/>
<text x="70.2" y="1026.7" font-size="30" fill="#0c0e15" font-weight="bold" text-anchor="start" textLength="172.5" lengthAdjust="spacingAndGlyphs">TradingView</text>
</svg>
</body></html>
